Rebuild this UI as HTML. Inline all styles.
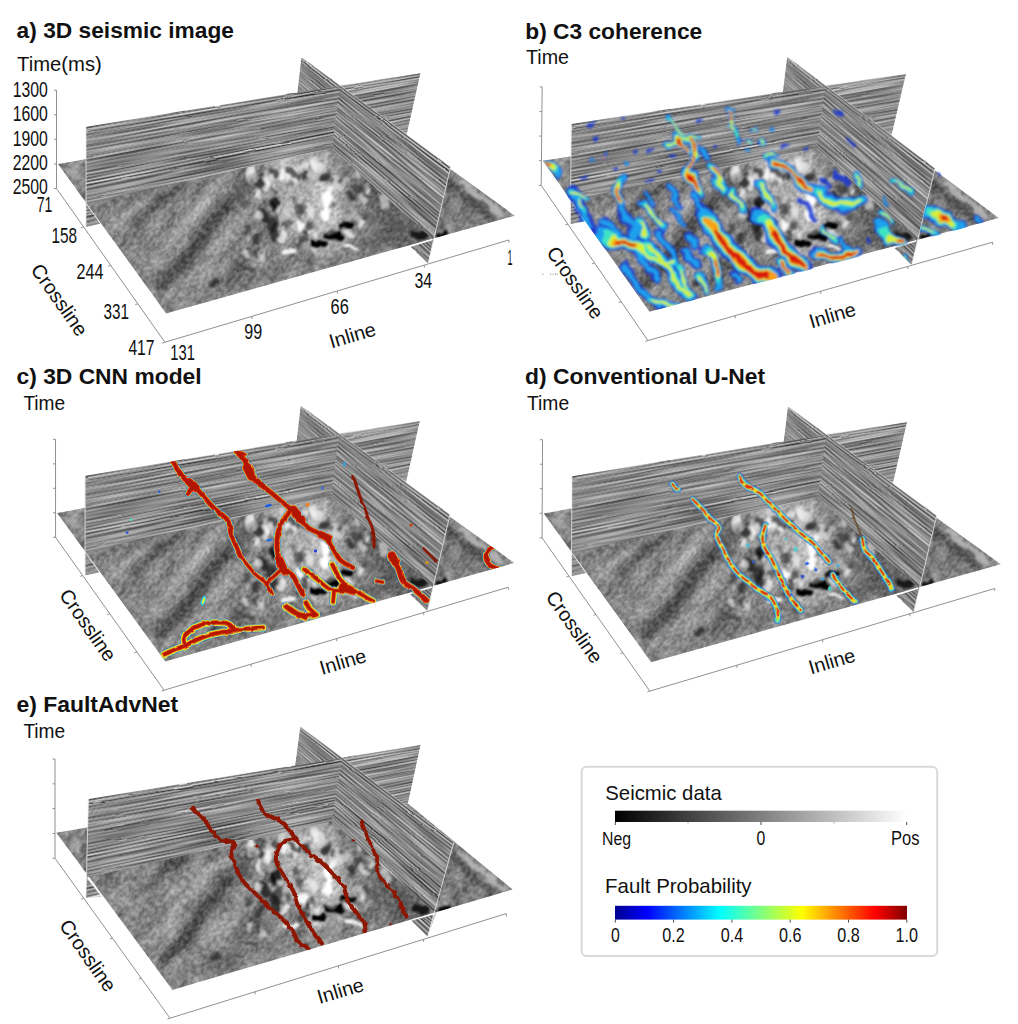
<!DOCTYPE html><html><head><meta charset="utf-8"><title>fig</title><style>html,body{margin:0;padding:0;background:#fff}svg{display:block}text{font-family:"Liberation Sans",sans-serif;fill:#111}</style></head><body>
<svg width="1018" height="1024" viewBox="0 0 1018 1024">
<rect width="1018" height="1024" fill="#fff"/>
<defs>
<filter id="fnoise" x="0" y="0" width="100%" height="100%" color-interpolation-filters="sRGB">
<feTurbulence type="fractalNoise" baseFrequency="0.035 0.08" numOctaves="3" seed="5" result="n"/>
<feColorMatrix type="matrix" values="1.5 0 0 0 -0.25  1.5 0 0 0 -0.25  1.5 0 0 0 -0.25  0 0 0 0 1"/>
</filter>
<filter id="fpn" x="0" y="0" width="100%" height="100%" color-interpolation-filters="sRGB">
<feTurbulence type="fractalNoise" baseFrequency="0.012 0.45" numOctaves="2" seed="9"/>
<feColorMatrix type="matrix" values="2.4 0 0 0 -0.7  2.4 0 0 0 -0.7  2.4 0 0 0 -0.7  0 0 0 0 1"/>
</filter>
<filter id="fpn2" x="0" y="0" width="100%" height="100%" color-interpolation-filters="sRGB">
<feTurbulence type="fractalNoise" baseFrequency="0.02 0.4" numOctaves="2" seed="4"/>
<feColorMatrix type="matrix" values="2.4 0 0 0 -0.7  2.4 0 0 0 -0.7  2.4 0 0 0 -0.7  0 0 0 0 1"/>
</filter>
<filter id="fgrain" x="0" y="0" width="100%" height="100%" color-interpolation-filters="sRGB">
<feTurbulence type="fractalNoise" baseFrequency="0.22 0.3" numOctaves="2" seed="17"/>
<feColorMatrix type="matrix" values="2.2 0 0 0 -0.6  2.2 0 0 0 -0.6  2.2 0 0 0 -0.6  0 0 0 0 1"/>
</filter>
<filter id="fblurB" filterUnits="userSpaceOnUse" x="0" y="0" width="1018" height="1024">
<feTurbulence type="fractalNoise" baseFrequency="0.04" numOctaves="2" seed="12" result="t"/>
<feDisplacementMap in="SourceGraphic" in2="t" scale="10" xChannelSelector="R" yChannelSelector="G" result="d"/>
<feGaussianBlur in="d" stdDeviation="2.8"/></filter>
<filter id="fblurS" filterUnits="userSpaceOnUse" x="0" y="0" width="1018" height="1024">
<feTurbulence type="fractalNoise" baseFrequency="0.09" numOctaves="2" seed="6" result="t"/>
<feDisplacementMap in="SourceGraphic" in2="t" scale="8" xChannelSelector="R" yChannelSelector="G" result="d"/>
<feGaussianBlur in="d" stdDeviation="1.15"/></filter>
<filter id="fblur" x="-20%" y="-20%" width="140%" height="140%"><feGaussianBlur stdDeviation="1.6"/></filter>
<filter id="fblur1" x="-20%" y="-20%" width="140%" height="140%"><feGaussianBlur stdDeviation="1.1"/></filter>
<filter id="fblur03" filterUnits="userSpaceOnUse" x="0" y="0" width="1018" height="1024"><feGaussianBlur stdDeviation="0.35"/></filter>
<filter id="fblur07" filterUnits="userSpaceOnUse" x="0" y="0" width="1018" height="1024"><feGaussianBlur stdDeviation="0.7"/></filter>
<filter id="fwobB" filterUnits="userSpaceOnUse" x="0" y="0" width="1018" height="1024">
<feTurbulence type="fractalNoise" baseFrequency="0.06" numOctaves="2" seed="2" result="t"/>
<feDisplacementMap in="SourceGraphic" in2="t" scale="13" xChannelSelector="R" yChannelSelector="G" result="d"/>
<feGaussianBlur in="d" stdDeviation="0.8"/></filter>
<filter id="fwobC" filterUnits="userSpaceOnUse" x="0" y="0" width="1018" height="1024">
<feTurbulence type="fractalNoise" baseFrequency="0.12" numOctaves="2" seed="3" result="t"/>
<feDisplacementMap in="SourceGraphic" in2="t" scale="3" xChannelSelector="R" yChannelSelector="G" result="d"/>
<feGaussianBlur in="d" stdDeviation="0.35"/></filter>
<filter id="fwobE" filterUnits="userSpaceOnUse" x="0" y="0" width="1018" height="1024">
<feTurbulence type="fractalNoise" baseFrequency="0.2" numOctaves="1" seed="8" result="t"/>
<feDisplacementMap in="SourceGraphic" in2="t" scale="4.5" xChannelSelector="R" yChannelSelector="G" result="d"/>
<feGaussianBlur in="d" stdDeviation="0.3"/></filter>
<filter id="fblur05" x="-5%" y="-5%" width="110%" height="110%">
<feTurbulence type="fractalNoise" baseFrequency="0.03 0.12" numOctaves="2" seed="31" result="t"/>
<feDisplacementMap in="SourceGraphic" in2="t" scale="2.2" xChannelSelector="R" yChannelSelector="G" result="d"/>
<feGaussianBlur in="d" stdDeviation="0.3"/></filter>
</defs>
<defs><g id="baseA">
<defs>
<clipPath id="A_sl"><polygon points="58.0,164.0 86.0,159.0 400.0,132.5 515.0,215.7 166.1,313.4"/></clipPath>
<clipPath id="A_cr"><polygon points="339.9,85.1 420.5,73.0 402.7,152.5 332.0,148.5"/></clipPath>
<clipPath id="A_ib"><polygon points="301.4,57.3 339.9,85.1 332.0,148.5 294.7,116.0"/></clipPath>
<clipPath id="A_cl"><polygon points="86.0,126.8 339.9,85.1 332.0,148.5 86.0,203.5"/><polygon points="86.0,203.5 86.0,227.0 100.4,223.8"/></clipPath>
<clipPath id="A_if"><polygon points="339.9,85.1 450.6,166.9 433.5,240.0 332.0,148.5"/><polygon points="433.5,240.0 428.1,263.6 410.5,247.1"/></clipPath>
<g id="A_cb"><path d="M86.0,126.8 L420.5,73.0 L420.3,74.0 L86.0,128.1Z" fill="#838383"/><path d="M86.0,127.7 L420.3,73.7 L420.1,74.8 L86.0,129.0Z" fill="#484848"/><path d="M86.0,128.6 L420.2,74.4 L419.9,75.5 L86.0,129.9Z" fill="#9e9e9e"/><path d="M86.0,129.5 L420.0,75.2 L419.8,76.2 L86.0,130.8Z" fill="#cacaca"/><path d="M86.0,130.4 L419.9,75.9 L419.6,76.9 L86.0,131.8Z" fill="#7a7a7a"/><path d="M86.0,131.4 L419.7,76.6 L419.5,77.7 L86.0,132.7Z" fill="#252525"/><path d="M86.0,132.3 L419.5,77.3 L419.3,78.4 L86.0,133.6Z" fill="#9d9d9d"/><path d="M86.0,133.2 L419.4,78.1 L419.1,79.1 L86.0,134.5Z" fill="#c2c2c2"/><path d="M86.0,134.1 L419.2,78.8 L419.0,79.8 L86.0,135.4Z" fill="#818181"/><path d="M86.0,135.0 L419.0,79.5 L418.8,80.5 L86.0,136.3Z" fill="#6f6f6f"/><path d="M86.0,135.9 L418.9,80.2 L418.6,81.3 L86.0,137.2Z" fill="#9e9e9e"/><path d="M86.0,136.8 L418.7,81.0 L418.5,82.0 L86.0,138.1Z" fill="#909090"/><path d="M86.0,137.7 L418.6,81.7 L418.3,82.7 L86.0,139.0Z" fill="#737373"/><path d="M86.0,138.6 L418.4,82.4 L418.2,83.4 L86.0,140.0Z" fill="#9c9c9c"/><path d="M86.0,139.6 L418.2,83.1 L418.0,84.2 L86.0,140.9Z" fill="#a8a8a8"/><path d="M86.0,140.5 L418.1,83.8 L417.8,84.9 L86.0,141.8Z" fill="#898989"/><path d="M86.0,141.4 L417.9,84.6 L417.7,85.6 L86.0,142.7Z" fill="#6a6a6a"/><path d="M86.0,142.3 L417.7,85.3 L417.5,86.3 L86.0,143.6Z" fill="#858585"/><path d="M86.0,143.2 L417.6,86.0 L417.4,87.0 L86.0,144.5Z" fill="#a2a2a2"/><path d="M86.0,144.1 L417.4,86.7 L417.2,87.8 L86.0,145.4Z" fill="#adadad"/><path d="M86.0,145.0 L417.3,87.5 L417.0,88.5 L86.0,146.3Z" fill="#848484"/><path d="M86.0,145.9 L417.1,88.2 L416.9,89.2 L86.0,147.2Z" fill="#474747"/><path d="M86.0,146.8 L416.9,88.9 L416.7,89.9 L86.0,148.2Z" fill="#929292"/><path d="M86.0,147.8 L416.8,89.6 L416.5,90.7 L86.0,149.1Z" fill="#bebebe"/><path d="M86.0,148.7 L416.6,90.3 L416.4,91.4 L86.0,150.0Z" fill="#939393"/><path d="M86.0,149.6 L416.5,91.1 L416.2,92.1 L86.0,150.9Z" fill="#5c5c5c"/><path d="M86.0,150.5 L416.3,91.8 L416.1,92.8 L86.0,151.8Z" fill="#909090"/><path d="M86.0,151.4 L416.1,92.5 L415.9,93.6 L86.0,152.7Z" fill="#9d9d9d"/><path d="M86.0,152.3 L416.0,93.2 L415.7,94.3 L86.0,153.6Z" fill="#8a8a8a"/><path d="M86.0,153.2 L415.8,94.0 L415.6,95.0 L86.0,154.5Z" fill="#939393"/><path d="M86.0,154.1 L415.6,94.7 L415.4,95.7 L86.0,155.4Z" fill="#a3a3a3"/><path d="M86.0,155.0 L415.5,95.4 L415.3,96.4 L86.0,156.3Z" fill="#848484"/><path d="M86.0,155.9 L415.3,96.1 L415.1,97.2 L86.0,157.3Z" fill="#5d5d5d"/><path d="M86.0,156.9 L415.2,96.8 L414.9,97.9 L86.0,158.2Z" fill="#959595"/><path d="M86.0,157.8 L415.0,97.6 L414.8,98.6 L86.0,159.1Z" fill="#b5b5b5"/><path d="M86.0,158.7 L414.8,98.3 L414.6,99.3 L86.0,160.0Z" fill="#969696"/><path d="M86.0,159.6 L414.7,99.0 L414.4,100.1 L86.0,160.9Z" fill="#606060"/><path d="M86.0,160.5 L414.5,99.7 L414.3,100.8 L86.0,161.8Z" fill="#747474"/><path d="M86.0,161.4 L414.4,100.5 L414.1,101.5 L86.0,162.7Z" fill="#a2a2a2"/><path d="M86.0,162.3 L414.2,101.2 L414.0,102.2 L86.0,163.6Z" fill="#a8a8a8"/><path d="M86.0,163.2 L414.0,101.9 L413.8,102.9 L86.0,164.5Z" fill="#888888"/><path d="M86.0,164.1 L413.9,102.6 L413.6,103.7 L86.0,165.5Z" fill="#747474"/><path d="M86.0,165.1 L413.7,103.4 L413.5,104.4 L86.0,166.4Z" fill="#929292"/><path d="M86.0,166.0 L413.5,104.1 L413.3,105.1 L86.0,167.3Z" fill="#999999"/><path d="M86.0,166.9 L413.4,104.8 L413.1,105.8 L86.0,168.2Z" fill="#8f8f8f"/><path d="M86.0,167.8 L413.2,105.5 L413.0,106.6 L86.0,169.1Z" fill="#8d8d8d"/><path d="M86.0,168.7 L413.1,106.2 L412.8,107.3 L86.0,170.0Z" fill="#989898"/><path d="M86.0,169.6 L412.9,107.0 L412.7,108.0 L86.0,170.9Z" fill="#989898"/><path d="M86.0,170.5 L412.7,107.7 L412.5,108.7 L86.0,171.8Z" fill="#7e7e7e"/><path d="M86.0,171.4 L412.6,108.4 L412.3,109.5 L86.0,172.7Z" fill="#6d6d6d"/><path d="M86.0,172.3 L412.4,109.1 L412.2,110.2 L86.0,173.7Z" fill="#9d9d9d"/><path d="M86.0,173.3 L412.2,109.9 L412.0,110.9 L86.0,174.6Z" fill="#b8b8b8"/><path d="M86.0,174.2 L412.1,110.6 L411.9,111.6 L86.0,175.5Z" fill="#818181"/><path d="M86.0,175.1 L411.9,111.3 L411.7,112.3 L86.0,176.4Z" fill="#464646"/><path d="M86.0,176.0 L411.8,112.0 L411.5,113.1 L86.0,177.3Z" fill="#9c9c9c"/><path d="M86.0,176.9 L411.6,112.8 L411.4,113.8 L86.0,178.2Z" fill="#b0b0b0"/><path d="M86.0,177.8 L411.4,113.5 L411.2,114.5 L86.0,179.1Z" fill="#6e6e6e"/><path d="M86.0,178.7 L411.3,114.2 L411.0,115.2 L86.0,180.0Z" fill="#808080"/><path d="M86.0,179.6 L411.1,114.9 L410.9,116.0 L86.0,180.9Z" fill="#b7b7b7"/><path d="M86.0,180.5 L411.0,115.6 L410.7,116.7 L86.0,181.9Z" fill="#8f8f8f"/><path d="M86.0,181.5 L410.8,116.4 L410.6,117.4 L86.0,182.8Z" fill="#313131"/><path d="M86.0,182.4 L410.6,117.1 L410.4,118.1 L86.0,183.7Z" fill="#979797"/><path d="M86.0,183.3 L410.5,117.8 L410.2,118.8 L86.0,184.6Z" fill="#d1d1d1"/><path d="M86.0,184.2 L410.3,118.5 L410.1,119.6 L86.0,185.5Z" fill="#8f8f8f"/><path d="M86.0,185.1 L410.1,119.3 L409.9,120.3 L86.0,186.4Z" fill="#333333"/><path d="M86.0,186.0 L410.0,120.0 L409.7,121.0 L86.0,187.3Z" fill="#878787"/><path d="M86.0,186.9 L409.8,120.7 L409.6,121.7 L86.0,188.2Z" fill="#b1b1b1"/><path d="M86.0,187.8 L409.7,121.4 L409.4,122.5 L86.0,189.1Z" fill="#a2a2a2"/><path d="M86.0,188.7 L409.5,122.1 L409.3,123.2 L86.0,190.1Z" fill="#828282"/><path d="M86.0,189.7 L409.3,122.9 L409.1,123.9 L86.0,191.0Z" fill="#707070"/><path d="M86.0,190.6 L409.2,123.6 L408.9,124.6 L86.0,191.9Z" fill="#919191"/><path d="M86.0,191.5 L409.0,124.3 L408.8,125.4 L86.0,192.8Z" fill="#9d9d9d"/><path d="M86.0,192.4 L408.8,125.0 L408.6,126.1 L86.0,193.7Z" fill="#8f8f8f"/><path d="M86.0,193.3 L408.7,125.8 L408.5,126.8 L86.0,194.6Z" fill="#8e8e8e"/><path d="M86.0,194.2 L408.5,126.5 L408.3,127.5 L86.0,195.5Z" fill="#a0a0a0"/><path d="M86.0,195.1 L408.4,127.2 L408.1,128.2 L86.0,196.4Z" fill="#8e8e8e"/><path d="M86.0,196.0 L408.2,127.9 L408.0,129.0 L86.0,197.3Z" fill="#5b5b5b"/><path d="M86.0,196.9 L408.0,128.7 L407.8,129.7 L86.0,198.3Z" fill="#959595"/><path d="M86.0,197.9 L407.9,129.4 L407.6,130.4 L86.0,199.2Z" fill="#b8b8b8"/><path d="M86.0,198.8 L407.7,130.1 L407.5,131.1 L86.0,200.1Z" fill="#8d8d8d"/><path d="M86.0,199.7 L407.6,130.8 L407.3,131.9 L86.0,201.0Z" fill="#565656"/><path d="M86.0,200.6 L407.4,131.5 L407.2,132.6 L86.0,201.9Z" fill="#939393"/><path d="M86.0,201.5 L407.2,132.3 L407.0,133.3 L86.0,202.8Z" fill="#adadad"/><path d="M86.0,202.4 L407.1,133.0 L406.8,134.0 L86.0,203.7Z" fill="#8e8e8e"/><path d="M86.0,203.3 L406.9,133.7 L406.7,134.7 L86.0,204.6Z" fill="#666666"/><path d="M86.0,204.2 L406.7,134.4 L406.5,135.5 L86.0,205.5Z" fill="#959595"/><path d="M86.0,205.1 L406.6,135.2 L406.4,136.2 L86.0,206.4Z" fill="#adadad"/><path d="M86.0,206.0 L406.4,135.9 L406.2,136.9 L86.0,207.4Z" fill="#8a8a8a"/><path d="M86.0,207.0 L406.3,136.6 L406.0,137.6 L86.0,208.3Z" fill="#565656"/><path d="M86.0,207.9 L406.1,137.3 L405.9,138.4 L86.0,209.2Z" fill="#989898"/><path d="M86.0,208.8 L405.9,138.0 L405.7,139.1 L86.0,210.1Z" fill="#b7b7b7"/><path d="M86.0,209.7 L405.8,138.8 L405.5,139.8 L86.0,211.0Z" fill="#828282"/><path d="M86.0,210.6 L405.6,139.5 L405.4,140.5 L86.0,211.9Z" fill="#616161"/><path d="M86.0,211.5 L405.5,140.2 L405.2,141.3 L86.0,212.8Z" fill="#a4a4a4"/><path d="M86.0,212.4 L405.3,140.9 L405.1,142.0 L86.0,213.7Z" fill="#999999"/><path d="M86.0,213.3 L405.1,141.7 L404.9,142.7 L86.0,214.6Z" fill="#535353"/><path d="M86.0,214.2 L405.0,142.4 L404.7,143.4 L86.0,215.6Z" fill="#979797"/><path d="M86.0,215.2 L404.8,143.1 L404.6,144.1 L86.0,216.5Z" fill="#cbcbcb"/><path d="M86.0,216.1 L404.6,143.8 L404.4,144.9 L86.0,217.4Z" fill="#828282"/><path d="M86.0,217.0 L404.5,144.6 L404.2,145.6 L86.0,218.3Z" fill="#232323"/><path d="M86.0,217.9 L404.3,145.3 L404.1,146.3 L86.0,219.2Z" fill="#909090"/><path d="M86.0,218.8 L404.2,146.0 L403.9,147.0 L86.0,220.1Z" fill="#c1c1c1"/><path d="M86.0,219.7 L404.0,146.7 L403.8,147.8 L86.0,221.0Z" fill="#a7a7a7"/><path d="M86.0,220.6 L403.8,147.4 L403.6,148.5 L86.0,221.9Z" fill="#717171"/><path d="M86.0,221.5 L403.7,148.2 L403.4,149.2 L86.0,222.8Z" fill="#515151"/><path d="M86.0,222.4 L403.5,148.9 L403.3,149.9 L86.0,223.8Z" fill="#929292"/><path d="M86.0,223.4 L403.3,149.6 L403.1,150.6 L86.0,224.7Z" fill="#b6b6b6"/><path d="M86.0,224.3 L403.2,150.3 L403.0,151.4 L86.0,225.6Z" fill="#969696"/><path d="M86.0,225.2 L403.0,151.1 L402.8,152.1 L86.0,226.5Z" fill="#686868"/><path d="M86.0,226.1 L402.9,151.8 L402.7,152.5 L86.0,227.0Z" fill="#919191"/></g>
<g id="A_ibd"><path d="M301.4,57.3 L450.6,166.9 L450.3,168.2 L301.3,58.3Z" fill="#838383"/><path d="M301.3,58.0 L450.4,167.8 L450.1,169.0 L301.2,59.0Z" fill="#484848"/><path d="M301.2,58.7 L450.2,168.7 L449.9,169.9 L301.1,59.7Z" fill="#9e9e9e"/><path d="M301.2,59.4 L450.0,169.5 L449.7,170.8 L301.0,60.4Z" fill="#cacaca"/><path d="M301.1,60.1 L449.8,170.4 L449.5,171.7 L301.0,61.1Z" fill="#7a7a7a"/><path d="M301.0,60.8 L449.6,171.3 L449.3,172.6 L300.9,61.8Z" fill="#252525"/><path d="M300.9,61.5 L449.4,172.2 L449.1,173.4 L300.8,62.5Z" fill="#9d9d9d"/><path d="M300.8,62.2 L449.2,173.1 L448.9,174.3 L300.7,63.2Z" fill="#c2c2c2"/><path d="M300.8,62.9 L449.0,173.9 L448.7,175.2 L300.6,63.9Z" fill="#818181"/><path d="M300.7,63.6 L448.8,174.8 L448.5,176.1 L300.6,64.6Z" fill="#6f6f6f"/><path d="M300.6,64.3 L448.6,175.7 L448.3,177.0 L300.5,65.3Z" fill="#9e9e9e"/><path d="M300.5,65.0 L448.4,176.6 L448.1,177.8 L300.4,66.0Z" fill="#909090"/><path d="M300.4,65.7 L448.1,177.4 L447.9,178.7 L300.3,66.7Z" fill="#737373"/><path d="M300.4,66.4 L447.9,178.3 L447.6,179.6 L300.2,67.4Z" fill="#9c9c9c"/><path d="M300.3,67.1 L447.7,179.2 L447.4,180.5 L300.2,68.2Z" fill="#a8a8a8"/><path d="M300.2,67.8 L447.5,180.1 L447.2,181.4 L300.1,68.9Z" fill="#898989"/><path d="M300.1,68.5 L447.3,181.0 L447.0,182.2 L300.0,69.6Z" fill="#6a6a6a"/><path d="M300.0,69.2 L447.1,181.8 L446.8,183.1 L299.9,70.3Z" fill="#858585"/><path d="M300.0,69.9 L446.9,182.7 L446.6,184.0 L299.8,71.0Z" fill="#a2a2a2"/><path d="M299.9,70.7 L446.7,183.6 L446.4,184.9 L299.8,71.7Z" fill="#adadad"/><path d="M299.8,71.4 L446.5,184.5 L446.2,185.7 L299.7,72.4Z" fill="#848484"/><path d="M299.7,72.1 L446.3,185.4 L446.0,186.6 L299.6,73.1Z" fill="#474747"/><path d="M299.6,72.8 L446.1,186.2 L445.8,187.5 L299.5,73.8Z" fill="#929292"/><path d="M299.6,73.5 L445.9,187.1 L445.6,188.4 L299.4,74.5Z" fill="#bebebe"/><path d="M299.5,74.2 L445.7,188.0 L445.4,189.3 L299.4,75.2Z" fill="#939393"/><path d="M299.4,74.9 L445.5,188.9 L445.2,190.1 L299.3,75.9Z" fill="#5c5c5c"/><path d="M299.3,75.6 L445.3,189.8 L445.0,191.0 L299.2,76.6Z" fill="#909090"/><path d="M299.2,76.3 L445.1,190.6 L444.8,191.9 L299.1,77.3Z" fill="#9d9d9d"/><path d="M299.2,77.0 L444.9,191.5 L444.6,192.8 L299.0,78.0Z" fill="#8a8a8a"/><path d="M299.1,77.7 L444.7,192.4 L444.4,193.7 L299.0,78.7Z" fill="#939393"/><path d="M299.0,78.4 L444.5,193.3 L444.2,194.5 L298.9,79.4Z" fill="#a3a3a3"/><path d="M298.9,79.1 L444.3,194.2 L444.0,195.4 L298.8,80.1Z" fill="#848484"/><path d="M298.8,79.8 L444.1,195.0 L443.8,196.3 L298.7,80.8Z" fill="#5d5d5d"/><path d="M298.8,80.5 L443.9,195.9 L443.6,197.2 L298.6,81.5Z" fill="#959595"/><path d="M298.7,81.2 L443.6,196.8 L443.4,198.1 L298.6,82.2Z" fill="#b5b5b5"/><path d="M298.6,81.9 L443.4,197.7 L443.1,198.9 L298.5,82.9Z" fill="#969696"/><path d="M298.5,82.6 L443.2,198.5 L442.9,199.8 L298.4,83.6Z" fill="#606060"/><path d="M298.4,83.3 L443.0,199.4 L442.7,200.7 L298.3,84.3Z" fill="#747474"/><path d="M298.4,84.0 L442.8,200.3 L442.5,201.6 L298.2,85.0Z" fill="#a2a2a2"/><path d="M298.3,84.7 L442.6,201.2 L442.3,202.5 L298.2,85.7Z" fill="#a8a8a8"/><path d="M298.2,85.4 L442.4,202.1 L442.1,203.3 L298.1,86.4Z" fill="#888888"/><path d="M298.1,86.1 L442.2,202.9 L441.9,204.2 L298.0,87.1Z" fill="#747474"/><path d="M298.0,86.8 L442.0,203.8 L441.7,205.1 L297.9,87.8Z" fill="#929292"/><path d="M298.0,87.5 L441.8,204.7 L441.5,206.0 L297.8,88.5Z" fill="#999999"/><path d="M297.9,88.2 L441.6,205.6 L441.3,206.8 L297.8,89.2Z" fill="#8f8f8f"/><path d="M297.8,88.9 L441.4,206.5 L441.1,207.7 L297.7,89.9Z" fill="#8d8d8d"/><path d="M297.7,89.6 L441.2,207.3 L440.9,208.6 L297.6,90.6Z" fill="#989898"/><path d="M297.6,90.3 L441.0,208.2 L440.7,209.5 L297.5,91.3Z" fill="#989898"/><path d="M297.6,91.0 L440.8,209.1 L440.5,210.4 L297.4,92.0Z" fill="#7e7e7e"/><path d="M297.5,91.7 L440.6,210.0 L440.3,211.2 L297.4,92.7Z" fill="#6d6d6d"/><path d="M297.4,92.4 L440.4,210.9 L440.1,212.1 L297.3,93.4Z" fill="#9d9d9d"/><path d="M297.3,93.1 L440.2,211.7 L439.9,213.0 L297.2,94.2Z" fill="#b8b8b8"/><path d="M297.2,93.8 L440.0,212.6 L439.7,213.9 L297.1,94.9Z" fill="#818181"/><path d="M297.2,94.5 L439.8,213.5 L439.5,214.8 L297.0,95.6Z" fill="#464646"/><path d="M297.1,95.2 L439.6,214.4 L439.3,215.6 L297.0,96.3Z" fill="#9c9c9c"/><path d="M297.0,95.9 L439.4,215.2 L439.1,216.5 L296.9,97.0Z" fill="#b0b0b0"/><path d="M296.9,96.7 L439.1,216.1 L438.9,217.4 L296.8,97.7Z" fill="#6e6e6e"/><path d="M296.8,97.4 L438.9,217.0 L438.6,218.3 L296.7,98.4Z" fill="#808080"/><path d="M296.8,98.1 L438.7,217.9 L438.4,219.2 L296.6,99.1Z" fill="#b7b7b7"/><path d="M296.7,98.8 L438.5,218.8 L438.2,220.0 L296.6,99.8Z" fill="#8f8f8f"/><path d="M296.6,99.5 L438.3,219.6 L438.0,220.9 L296.5,100.5Z" fill="#313131"/><path d="M296.5,100.2 L438.1,220.5 L437.8,221.8 L296.4,101.2Z" fill="#979797"/><path d="M296.4,100.9 L437.9,221.4 L437.6,222.7 L296.3,101.9Z" fill="#d1d1d1"/><path d="M296.4,101.6 L437.7,222.3 L437.4,223.5 L296.2,102.6Z" fill="#8f8f8f"/><path d="M296.3,102.3 L437.5,223.2 L437.2,224.4 L296.2,103.3Z" fill="#333333"/><path d="M296.2,103.0 L437.3,224.0 L437.0,225.3 L296.1,104.0Z" fill="#878787"/><path d="M296.1,103.7 L437.1,224.9 L436.8,226.2 L296.0,104.7Z" fill="#b1b1b1"/><path d="M296.0,104.4 L436.9,225.8 L436.6,227.1 L295.9,105.4Z" fill="#a2a2a2"/><path d="M296.0,105.1 L436.7,226.7 L436.4,227.9 L295.8,106.1Z" fill="#828282"/><path d="M295.9,105.8 L436.5,227.6 L436.2,228.8 L295.8,106.8Z" fill="#707070"/><path d="M295.8,106.5 L436.3,228.4 L436.0,229.7 L295.7,107.5Z" fill="#919191"/><path d="M295.7,107.2 L436.1,229.3 L435.8,230.6 L295.6,108.2Z" fill="#9d9d9d"/><path d="M295.6,107.9 L435.9,230.2 L435.6,231.5 L295.5,108.9Z" fill="#8f8f8f"/><path d="M295.6,108.6 L435.7,231.1 L435.4,232.3 L295.4,109.6Z" fill="#8e8e8e"/><path d="M295.5,109.3 L435.5,232.0 L435.2,233.2 L295.4,110.3Z" fill="#a0a0a0"/><path d="M295.4,110.0 L435.3,232.8 L435.0,234.1 L295.3,111.0Z" fill="#8e8e8e"/><path d="M295.3,110.7 L435.1,233.7 L434.8,235.0 L295.2,111.7Z" fill="#5b5b5b"/><path d="M295.2,111.4 L434.9,234.6 L434.6,235.9 L295.1,112.4Z" fill="#959595"/><path d="M295.2,112.1 L434.6,235.5 L434.4,236.7 L295.0,113.1Z" fill="#b8b8b8"/><path d="M295.1,112.8 L434.4,236.3 L434.1,237.6 L295.0,113.8Z" fill="#8d8d8d"/><path d="M295.0,113.5 L434.2,237.2 L433.9,238.5 L294.9,114.5Z" fill="#565656"/><path d="M294.9,114.2 L434.0,238.1 L433.7,239.4 L294.8,115.2Z" fill="#939393"/><path d="M294.8,114.9 L433.8,239.0 L433.5,240.3 L294.7,115.9Z" fill="#adadad"/><path d="M294.8,115.6 L433.6,239.9 L433.3,241.1 L294.6,116.6Z" fill="#8e8e8e"/><path d="M294.7,116.3 L433.4,240.7 L433.1,242.0 L294.6,117.3Z" fill="#666666"/><path d="M294.6,117.0 L433.2,241.6 L432.9,242.9 L294.5,118.0Z" fill="#959595"/><path d="M294.5,117.7 L433.0,242.5 L432.7,243.8 L294.4,118.7Z" fill="#adadad"/><path d="M294.4,118.4 L432.8,243.4 L432.5,244.6 L294.3,119.4Z" fill="#8a8a8a"/><path d="M294.4,119.1 L432.6,244.3 L432.3,245.5 L294.2,120.2Z" fill="#565656"/><path d="M294.3,119.8 L432.4,245.1 L432.1,246.4 L294.2,120.9Z" fill="#989898"/><path d="M294.2,120.5 L432.2,246.0 L431.9,247.3 L294.1,121.6Z" fill="#b7b7b7"/><path d="M294.1,121.2 L432.0,246.9 L431.7,248.2 L294.0,122.3Z" fill="#828282"/><path d="M294.0,122.0 L431.8,247.8 L431.5,249.0 L293.9,123.0Z" fill="#616161"/><path d="M294.0,122.7 L431.6,248.7 L431.3,249.9 L293.8,123.7Z" fill="#a4a4a4"/><path d="M293.9,123.4 L431.4,249.5 L431.1,250.8 L293.8,124.4Z" fill="#999999"/><path d="M293.8,124.1 L431.2,250.4 L430.9,251.7 L293.7,125.1Z" fill="#535353"/><path d="M293.7,124.8 L431.0,251.3 L430.7,252.6 L293.6,125.8Z" fill="#979797"/><path d="M293.6,125.5 L430.8,252.2 L430.5,253.4 L293.5,126.5Z" fill="#cbcbcb"/><path d="M293.6,126.2 L430.6,253.1 L430.3,254.3 L293.4,127.2Z" fill="#828282"/><path d="M293.5,126.9 L430.4,253.9 L430.1,255.2 L293.4,127.9Z" fill="#232323"/><path d="M293.4,127.6 L430.1,254.8 L429.9,256.1 L293.3,128.6Z" fill="#909090"/><path d="M293.3,128.3 L429.9,255.7 L429.6,257.0 L293.2,129.3Z" fill="#c1c1c1"/><path d="M293.2,129.0 L429.7,256.6 L429.4,257.8 L293.1,130.0Z" fill="#a7a7a7"/><path d="M293.2,129.7 L429.5,257.4 L429.2,258.7 L293.0,130.7Z" fill="#717171"/><path d="M293.1,130.4 L429.3,258.3 L429.0,259.6 L293.0,131.4Z" fill="#515151"/><path d="M293.0,131.1 L429.1,259.2 L428.8,260.5 L292.9,132.1Z" fill="#929292"/><path d="M292.9,131.8 L428.9,260.1 L428.6,261.3 L292.8,132.8Z" fill="#b6b6b6"/><path d="M292.8,132.5 L428.7,261.0 L428.4,262.2 L292.7,133.5Z" fill="#969696"/><path d="M292.8,133.2 L428.5,261.8 L428.2,263.1 L292.6,134.2Z" fill="#686868"/><path d="M292.7,133.9 L428.3,262.7 L428.1,263.6 L292.6,134.6Z" fill="#919191"/></g>
</defs>
<g clip-path="url(#A_sl)">
<polygon points="58.0,164.0 86.0,159.0 400.0,132.5 515.0,215.7 166.1,313.4" fill="#8b8b8b"/>
<g transform="rotate(-52 286.5 217.5)" opacity="0.30"><rect x="-43.5" y="-112.5" width="660.0" height="660.0" filter="url(#fnoise)"/></g>
<g filter="url(#fblurB)" fill="none" stroke-linecap="round">
<line x1="305.0" y1="165.0" x2="322.0" y2="228.0" stroke="#d7d7d7" stroke-width="56.0" stroke-opacity="0.50"/>
<line x1="280.0" y1="170.0" x2="292.0" y2="215.0" stroke="#d2d2d2" stroke-width="34.0" stroke-opacity="0.42"/>
<line x1="322.0" y1="190.0" x2="330.0" y2="215.0" stroke="#f5f5f5" stroke-width="24.0" stroke-opacity="0.45"/>
<line x1="372.0" y1="180.0" x2="405.0" y2="232.0" stroke="#464646" stroke-width="36.0" stroke-opacity="0.62"/>
<line x1="350.0" y1="245.0" x2="395.0" y2="238.0" stroke="#505050" stroke-width="14.0" stroke-opacity="0.42"/>
<line x1="262.0" y1="172.0" x2="225.0" y2="209.0" stroke="#323232" stroke-width="12.0" stroke-opacity="0.60"/>
<line x1="225.0" y1="209.0" x2="163.7" y2="286.7" stroke="#2d2d2d" stroke-width="12.0" stroke-opacity="0.75"/>
<line x1="182.6" y1="184.2" x2="130.7" y2="220.7" stroke="#323232" stroke-width="11.0" stroke-opacity="0.68"/>
<line x1="206.2" y1="197.2" x2="149.6" y2="267.9" stroke="#c3c3c3" stroke-width="11.0" stroke-opacity="0.55"/>
<line x1="239.2" y1="227.8" x2="192.0" y2="282.0" stroke="#bebebe" stroke-width="10.0" stroke-opacity="0.50"/>
<line x1="262.0" y1="232.0" x2="226.0" y2="288.0" stroke="#3c3c3c" stroke-width="10.0" stroke-opacity="0.50"/>
<line x1="150.0" y1="200.0" x2="112.0" y2="232.0" stroke="#b9b9b9" stroke-width="10.0" stroke-opacity="0.42"/>
<line x1="120.0" y1="190.0" x2="100.0" y2="212.0" stroke="#3c3c3c" stroke-width="9.0" stroke-opacity="0.50"/>
<line x1="140.0" y1="250.0" x2="175.0" y2="300.0" stroke="#787878" stroke-width="10.0" stroke-opacity="0.25"/>
<line x1="455.0" y1="198.0" x2="488.0" y2="224.0" stroke="#646464" stroke-width="30.0" stroke-opacity="0.30"/>
<line x1="447.9" y1="183.6" x2="491.2" y2="219.0" stroke="#373737" stroke-width="8.0" stroke-opacity="0.75"/>
<line x1="448.0" y1="208.0" x2="460.0" y2="232.0" stroke="#555555" stroke-width="8.0" stroke-opacity="0.40"/>
<line x1="190.0" y1="300.0" x2="300.0" y2="262.0" stroke="#5f5f5f" stroke-width="14.0" stroke-opacity="0.25"/>
<line x1="330.0" y1="262.0" x2="400.0" y2="240.0" stroke="#696969" stroke-width="10.0" stroke-opacity="0.22"/>
</g>
<g transform="rotate(-52 286.5 217.5)" opacity="0.17"><rect x="-43.5" y="-112.5" width="660.0" height="660.0" filter="url(#fgrain)"/></g>
<g filter="url(#fblurS)" fill="none" stroke-linecap="round">
<line x1="210.9" y1="284.4" x2="216.0" y2="282.0" stroke="#1e1e1e" stroke-width="6.0" stroke-opacity="0.70"/>
<line x1="327.0" y1="197.0" x2="327.0" y2="209.0" stroke="#ffffff" stroke-width="10.0" stroke-opacity="1.00"/>
<line x1="326.5" y1="206.0" x2="326.0" y2="217.0" stroke="#ffffff" stroke-width="9.0" stroke-opacity="1.00"/>
<line x1="324.0" y1="205.0" x2="332.0" y2="188.0" stroke="#ffffff" stroke-width="6.0" stroke-opacity="0.85"/>
<line x1="301.0" y1="226.0" x2="307.0" y2="229.0" stroke="#ffffff" stroke-width="10.0" stroke-opacity="1.00"/>
<line x1="291.0" y1="171.0" x2="293.0" y2="179.0" stroke="#f5f5f5" stroke-width="11.0" stroke-opacity="0.80"/>
<line x1="269.7" y1="180.0" x2="271.0" y2="187.0" stroke="#ebebeb" stroke-width="10.0" stroke-opacity="0.70"/>
<line x1="315.0" y1="161.0" x2="319.0" y2="167.0" stroke="#ebebeb" stroke-width="11.0" stroke-opacity="0.70"/>
<line x1="250.0" y1="174.0" x2="252.0" y2="180.0" stroke="#e1e1e1" stroke-width="10.0" stroke-opacity="0.60"/>
<line x1="346.0" y1="232.0" x2="353.0" y2="236.0" stroke="#ebebeb" stroke-width="6.0" stroke-opacity="0.80"/>
<line x1="344.0" y1="246.0" x2="358.0" y2="249.0" stroke="#ffffff" stroke-width="4.0" stroke-opacity="0.90"/>
<line x1="284.0" y1="252.0" x2="295.0" y2="251.0" stroke="#ffffff" stroke-width="5.0" stroke-opacity="0.90"/>
<line x1="384.0" y1="198.0" x2="386.0" y2="204.0" stroke="#e1e1e1" stroke-width="9.0" stroke-opacity="0.65"/>
<line x1="336.0" y1="179.0" x2="340.0" y2="187.0" stroke="#e6e6e6" stroke-width="8.0" stroke-opacity="0.60"/>
<line x1="310.0" y1="245.0" x2="316.0" y2="252.0" stroke="#e6e6e6" stroke-width="5.0" stroke-opacity="0.60"/>
<line x1="356.0" y1="214.0" x2="360.0" y2="222.0" stroke="#e1e1e1" stroke-width="6.0" stroke-opacity="0.50"/>
<line x1="341.0" y1="225.5" x2="350.0" y2="225.0" stroke="#000000" stroke-width="8.0" stroke-opacity="1.00"/>
<line x1="329.0" y1="235.0" x2="340.0" y2="235.0" stroke="#000000" stroke-width="9.0" stroke-opacity="1.00"/>
<line x1="313.0" y1="243.5" x2="322.0" y2="243.5" stroke="#000000" stroke-width="8.0" stroke-opacity="1.00"/>
<line x1="274.0" y1="200.0" x2="275.0" y2="206.0" stroke="#191919" stroke-width="9.0" stroke-opacity="0.90"/>
<line x1="262.0" y1="213.0" x2="265.0" y2="219.0" stroke="#1e1e1e" stroke-width="9.0" stroke-opacity="0.85"/>
<line x1="260.0" y1="183.0" x2="262.0" y2="188.0" stroke="#2d2d2d" stroke-width="8.0" stroke-opacity="0.75"/>
<line x1="273.0" y1="233.0" x2="276.0" y2="238.0" stroke="#1e1e1e" stroke-width="8.0" stroke-opacity="0.80"/>
<line x1="414.0" y1="234.0" x2="423.0" y2="236.0" stroke="#0f0f0f" stroke-width="8.0" stroke-opacity="0.90"/>
<line x1="357.0" y1="187.0" x2="360.0" y2="193.0" stroke="#3c3c3c" stroke-width="9.0" stroke-opacity="0.65"/>
<line x1="295.0" y1="198.0" x2="299.0" y2="212.0" stroke="#323232" stroke-width="6.0" stroke-opacity="0.60"/>
<line x1="300.0" y1="238.0" x2="304.0" y2="241.0" stroke="#282828" stroke-width="6.0" stroke-opacity="0.70"/>
<line x1="285.0" y1="217.0" x2="288.0" y2="225.0" stroke="#323232" stroke-width="6.0" stroke-opacity="0.60"/>
<line x1="365.0" y1="215.0" x2="372.0" y2="222.0" stroke="#464646" stroke-width="9.0" stroke-opacity="0.50"/>
<line x1="395.0" y1="222.0" x2="402.0" y2="228.0" stroke="#4b4b4b" stroke-width="10.0" stroke-opacity="0.50"/>
<line x1="246.0" y1="268.0" x2="252.0" y2="270.0" stroke="#282828" stroke-width="5.0" stroke-opacity="0.60"/>
<line x1="240.0" y1="196.0" x2="246.0" y2="204.0" stroke="#464646" stroke-width="8.0" stroke-opacity="0.45"/>
<line x1="459.7" y1="181.3" x2="503.0" y2="215.5" stroke="#bebebe" stroke-width="5.5" stroke-opacity="0.75"/>
<line x1="440.0" y1="236.0" x2="447.0" y2="233.0" stroke="#050505" stroke-width="6.0" stroke-opacity="0.95"/>
<line x1="70.0" y1="170.0" x2="76.0" y2="176.0" stroke="#b9b9b9" stroke-width="9.0" stroke-opacity="0.50"/>
<line x1="62.0" y1="166.0" x2="70.0" y2="168.0" stroke="#5a5a5a" stroke-width="4.0" stroke-opacity="0.45"/>
<line x1="270.5" y1="227.3" x2="271.3" y2="221.4" stroke="#2d2d2d" stroke-width="6.9" stroke-opacity="0.83"/>
<line x1="273.7" y1="209.1" x2="271.7" y2="205.7" stroke="#0f0f0f" stroke-width="5.0" stroke-opacity="0.76"/>
<line x1="281.8" y1="176.1" x2="282.0" y2="173.0" stroke="#fcfcfc" stroke-width="6.6" stroke-opacity="0.83"/>
<line x1="333.2" y1="227.7" x2="334.3" y2="226.3" stroke="#4b4b4b" stroke-width="5.0" stroke-opacity="0.46"/>
<line x1="335.2" y1="188.4" x2="337.3" y2="185.8" stroke="#d8d8d8" stroke-width="6.2" stroke-opacity="0.43"/>
<line x1="276.0" y1="225.5" x2="277.4" y2="220.9" stroke="#393939" stroke-width="6.5" stroke-opacity="0.73"/>
<line x1="263.5" y1="203.3" x2="263.8" y2="201.7" stroke="#1b1b1b" stroke-width="4.9" stroke-opacity="0.53"/>
<line x1="296.1" y1="204.3" x2="299.8" y2="201.6" stroke="#d2d2d2" stroke-width="4.1" stroke-opacity="0.40"/>
<line x1="254.7" y1="217.1" x2="256.1" y2="213.6" stroke="#f1f1f1" stroke-width="5.9" stroke-opacity="0.48"/>
<line x1="271.4" y1="189.0" x2="270.1" y2="183.5" stroke="#252525" stroke-width="6.5" stroke-opacity="0.48"/>
<line x1="314.6" y1="167.9" x2="314.7" y2="162.1" stroke="#eeeeee" stroke-width="7.1" stroke-opacity="0.85"/>
<line x1="305.7" y1="177.7" x2="305.8" y2="174.5" stroke="#191919" stroke-width="5.7" stroke-opacity="0.73"/>
<line x1="252.6" y1="182.3" x2="251.5" y2="179.4" stroke="#393939" stroke-width="4.7" stroke-opacity="0.43"/>
<line x1="323.0" y1="178.2" x2="325.6" y2="176.1" stroke="#303030" stroke-width="7.1" stroke-opacity="0.80"/>
<line x1="304.1" y1="167.2" x2="306.7" y2="164.3" stroke="#fefefe" stroke-width="5.2" stroke-opacity="0.54"/>
<line x1="332.2" y1="180.9" x2="333.0" y2="179.5" stroke="#0f0f0f" stroke-width="5.0" stroke-opacity="0.52"/>
<line x1="297.5" y1="178.0" x2="299.9" y2="176.1" stroke="#292929" stroke-width="4.5" stroke-opacity="0.81"/>
<line x1="265.3" y1="160.6" x2="262.9" y2="156.3" stroke="#cecece" stroke-width="6.1" stroke-opacity="0.45"/>
<line x1="290.0" y1="184.1" x2="289.2" y2="182.1" stroke="#282828" stroke-width="5.5" stroke-opacity="0.48"/>
<line x1="306.1" y1="229.5" x2="308.0" y2="226.5" stroke="#111111" stroke-width="5.9" stroke-opacity="0.43"/>
<line x1="344.1" y1="233.5" x2="343.2" y2="228.1" stroke="#d6d6d6" stroke-width="4.7" stroke-opacity="0.63"/>
<line x1="259.5" y1="217.3" x2="258.9" y2="213.8" stroke="#fcfcfc" stroke-width="4.8" stroke-opacity="0.68"/>
<line x1="345.9" y1="186.5" x2="343.3" y2="181.1" stroke="#d1d1d1" stroke-width="4.8" stroke-opacity="0.43"/>
<line x1="255.2" y1="241.2" x2="257.8" y2="236.1" stroke="#2b2b2b" stroke-width="5.5" stroke-opacity="0.72"/>
<line x1="321.6" y1="207.5" x2="321.7" y2="206.2" stroke="#131313" stroke-width="4.4" stroke-opacity="0.51"/>
<line x1="363.9" y1="201.1" x2="365.5" y2="199.6" stroke="#e5e5e5" stroke-width="4.8" stroke-opacity="0.69"/>
<line x1="249.3" y1="169.4" x2="251.0" y2="164.8" stroke="#f3f3f3" stroke-width="7.1" stroke-opacity="0.74"/>
<line x1="359.7" y1="226.5" x2="362.3" y2="223.4" stroke="#ececec" stroke-width="5.0" stroke-opacity="0.83"/>
<line x1="295.2" y1="184.9" x2="295.6" y2="183.1" stroke="#d6d6d6" stroke-width="3.9" stroke-opacity="0.68"/>
<line x1="305.7" y1="233.2" x2="305.5" y2="231.2" stroke="#191919" stroke-width="6.3" stroke-opacity="0.69"/>
<line x1="356.8" y1="179.2" x2="361.4" y2="175.7" stroke="#232323" stroke-width="5.6" stroke-opacity="0.80"/>
<line x1="327.7" y1="176.7" x2="328.3" y2="171.0" stroke="#3c3c3c" stroke-width="5.0" stroke-opacity="0.60"/>
<line x1="346.1" y1="181.4" x2="347.3" y2="180.5" stroke="#e5e5e5" stroke-width="6.0" stroke-opacity="0.50"/>
<line x1="301.6" y1="220.5" x2="299.7" y2="217.5" stroke="#262626" stroke-width="3.6" stroke-opacity="0.67"/>
<line x1="360.0" y1="176.9" x2="358.1" y2="171.3" stroke="#efefef" stroke-width="4.1" stroke-opacity="0.57"/>
<line x1="243.5" y1="168.6" x2="241.6" y2="165.5" stroke="#494949" stroke-width="6.8" stroke-opacity="0.48"/>
<line x1="310.3" y1="211.8" x2="307.2" y2="207.3" stroke="#f2f2f2" stroke-width="7.2" stroke-opacity="0.66"/>
<line x1="256.4" y1="250.8" x2="256.7" y2="249.0" stroke="#3f3f3f" stroke-width="6.1" stroke-opacity="0.64"/>
<line x1="332.4" y1="205.0" x2="332.3" y2="202.7" stroke="#3a3a3a" stroke-width="4.9" stroke-opacity="0.53"/>
<line x1="254.9" y1="157.6" x2="254.7" y2="154.8" stroke="#f8f8f8" stroke-width="6.8" stroke-opacity="0.47"/>
<line x1="340.7" y1="180.8" x2="341.9" y2="179.8" stroke="#282828" stroke-width="4.1" stroke-opacity="0.64"/>
<line x1="311.2" y1="227.4" x2="310.5" y2="224.9" stroke="#303030" stroke-width="5.2" stroke-opacity="0.63"/>
<line x1="364.5" y1="217.9" x2="365.3" y2="213.5" stroke="#383838" stroke-width="4.2" stroke-opacity="0.47"/>
<line x1="279.3" y1="237.1" x2="279.1" y2="235.6" stroke="#313131" stroke-width="5.9" stroke-opacity="0.49"/>
<line x1="320.5" y1="228.0" x2="319.2" y2="226.1" stroke="#e3e3e3" stroke-width="4.2" stroke-opacity="0.57"/>
<line x1="311.9" y1="175.3" x2="315.2" y2="172.0" stroke="#dfdfdf" stroke-width="6.6" stroke-opacity="0.56"/>
<line x1="256.8" y1="195.4" x2="258.3" y2="190.3" stroke="#efefef" stroke-width="6.2" stroke-opacity="0.85"/>
<line x1="278.5" y1="209.6" x2="279.3" y2="208.0" stroke="#ededed" stroke-width="4.7" stroke-opacity="0.68"/>
<line x1="320.6" y1="205.4" x2="320.5" y2="202.3" stroke="#dadada" stroke-width="4.5" stroke-opacity="0.62"/>
<line x1="287.3" y1="210.2" x2="287.5" y2="207.6" stroke="#cfcfcf" stroke-width="6.7" stroke-opacity="0.54"/>
<line x1="266.3" y1="174.5" x2="266.7" y2="173.6" stroke="#d6d6d6" stroke-width="5.1" stroke-opacity="0.66"/>
<line x1="275.9" y1="175.5" x2="273.5" y2="171.8" stroke="#424242" stroke-width="6.6" stroke-opacity="0.81"/>
<line x1="265.1" y1="187.4" x2="266.9" y2="183.8" stroke="#f1f1f1" stroke-width="6.0" stroke-opacity="0.79"/>
<line x1="368.5" y1="192.0" x2="369.6" y2="190.9" stroke="#ffffff" stroke-width="5.3" stroke-opacity="0.67"/>
<line x1="298.6" y1="245.1" x2="299.8" y2="243.7" stroke="#1e1e1e" stroke-width="6.0" stroke-opacity="0.52"/>
<line x1="357.0" y1="183.1" x2="357.7" y2="178.3" stroke="#dadada" stroke-width="4.0" stroke-opacity="0.41"/>
<line x1="330.3" y1="151.0" x2="330.4" y2="146.5" stroke="#212121" stroke-width="3.7" stroke-opacity="0.46"/>
<line x1="246.5" y1="231.2" x2="247.4" y2="227.6" stroke="#2b2b2b" stroke-width="5.5" stroke-opacity="0.59"/>
<line x1="246.6" y1="256.5" x2="247.0" y2="252.4" stroke="#e6e6e6" stroke-width="6.5" stroke-opacity="0.63"/>
<line x1="280.3" y1="238.4" x2="283.3" y2="234.1" stroke="#f6f6f6" stroke-width="7.1" stroke-opacity="0.81"/>
<line x1="368.1" y1="188.6" x2="367.8" y2="186.0" stroke="#cdcdcd" stroke-width="6.7" stroke-opacity="0.50"/>
<line x1="251.0" y1="170.9" x2="251.5" y2="169.2" stroke="#f4f4f4" stroke-width="4.1" stroke-opacity="0.48"/>
<line x1="350.4" y1="220.4" x2="351.5" y2="216.0" stroke="#d4d4d4" stroke-width="4.3" stroke-opacity="0.44"/>
<line x1="283.5" y1="217.1" x2="287.2" y2="213.9" stroke="#dadada" stroke-width="5.2" stroke-opacity="0.71"/>
<line x1="312.8" y1="214.6" x2="311.5" y2="211.0" stroke="#e6e6e6" stroke-width="6.6" stroke-opacity="0.82"/>
<line x1="256.3" y1="258.0" x2="255.5" y2="253.0" stroke="#3d3d3d" stroke-width="4.5" stroke-opacity="0.57"/>
<line x1="325.0" y1="179.6" x2="323.9" y2="177.4" stroke="#212121" stroke-width="3.7" stroke-opacity="0.55"/>
<line x1="267.9" y1="184.5" x2="265.0" y2="179.8" stroke="#f7f7f7" stroke-width="6.2" stroke-opacity="0.74"/>
<line x1="260.8" y1="258.9" x2="261.2" y2="257.7" stroke="#e4e4e4" stroke-width="6.4" stroke-opacity="0.67"/>
<line x1="315.6" y1="236.3" x2="315.3" y2="235.2" stroke="#ededed" stroke-width="4.3" stroke-opacity="0.79"/>
<line x1="299.3" y1="224.7" x2="299.1" y2="222.5" stroke="#f6f6f6" stroke-width="7.4" stroke-opacity="0.78"/>
<line x1="274.7" y1="228.5" x2="274.3" y2="225.1" stroke="#1a1a1a" stroke-width="6.3" stroke-opacity="0.80"/>
<line x1="270.9" y1="194.3" x2="272.6" y2="193.1" stroke="#202020" stroke-width="7.2" stroke-opacity="0.75"/>
<line x1="281.5" y1="163.6" x2="282.5" y2="157.8" stroke="#dadada" stroke-width="6.8" stroke-opacity="0.72"/>
<line x1="352.4" y1="198.2" x2="350.5" y2="195.2" stroke="#212121" stroke-width="6.6" stroke-opacity="0.72"/>
<line x1="261.5" y1="203.0" x2="261.0" y2="199.5" stroke="#e1e1e1" stroke-width="3.9" stroke-opacity="0.60"/>
<line x1="361.9" y1="196.3" x2="360.5" y2="194.4" stroke="#fbfbfb" stroke-width="5.7" stroke-opacity="0.58"/>
<line x1="301.3" y1="209.4" x2="303.9" y2="206.1" stroke="#373737" stroke-width="4.9" stroke-opacity="0.53"/>
<line x1="299.9" y1="168.7" x2="299.2" y2="167.7" stroke="#dadada" stroke-width="5.5" stroke-opacity="0.55"/>
<line x1="357.1" y1="176.0" x2="358.1" y2="174.4" stroke="#e1e1e1" stroke-width="6.0" stroke-opacity="0.44"/>
<line x1="285.2" y1="174.3" x2="287.1" y2="172.6" stroke="#ffffff" stroke-width="6.7" stroke-opacity="0.42"/>
<line x1="293.0" y1="175.5" x2="290.1" y2="170.2" stroke="#404040" stroke-width="7.0" stroke-opacity="0.83"/>
<line x1="274.2" y1="219.0" x2="276.7" y2="216.6" stroke="#474747" stroke-width="5.0" stroke-opacity="0.65"/>
<line x1="330.0" y1="230.8" x2="334.7" y2="227.2" stroke="#d1d1d1" stroke-width="7.0" stroke-opacity="0.44"/>
<line x1="324.6" y1="179.7" x2="323.5" y2="177.9" stroke="#373737" stroke-width="6.6" stroke-opacity="0.81"/>
<line x1="269.6" y1="196.0" x2="271.2" y2="193.5" stroke="#dddddd" stroke-width="6.6" stroke-opacity="0.57"/>
</g>
</g>
<g clip-path="url(#A_cr)"><use href="#A_cb" filter="url(#fblur05)"/><g transform="translate(86.0,126.8) skewY(-10.5)" opacity="0.30"><rect x="-5" y="-60" width="350" height="175" filter="url(#fpn)"/></g></g>
<g clip-path="url(#A_ib)"><use href="#A_ibd" filter="url(#fblur05)"/><g transform="translate(301.4,57.3) skewY(39.5)" opacity="0.30"><rect x="-15" y="-5" width="180" height="130" filter="url(#fpn2)"/></g></g>
<g clip-path="url(#A_cl)"><use href="#A_cb" filter="url(#fblur05)"/><g transform="translate(86.0,126.8) skewY(-10.5)" opacity="0.30"><rect x="-5" y="-60" width="350" height="175" filter="url(#fpn)"/></g></g>
<g clip-path="url(#A_if)"><use href="#A_ibd" filter="url(#fblur05)"/><g transform="translate(301.4,57.3) skewY(39.5)" opacity="0.30"><rect x="-15" y="-5" width="180" height="130" filter="url(#fpn2)"/></g></g>
<g stroke="#e8e8e8" stroke-width="0.8" fill="none">
<polyline points="86.0,126.8 86.0,227.0"/>
<polyline points="450.6,166.9 428.1,263.6"/>
<polyline points="339.9,85.1 450.6,166.9" stroke-opacity="0.6"/>
<polyline points="86.0,203.5 100.4,223.8" stroke-opacity="0.6"/>
</g>
</g></defs>
<g transform="matrix(1,0,0,1,0,0)">
<use href="#baseA"/>
<defs><clipPath id="ovA"><polygon points="58.0,164.0 86.0,159.0 400.0,132.5 515.0,215.7 166.1,313.4"/><polygon points="86.0,126.8 420.5,73.0 402.7,152.5 86.0,227.0"/><polygon points="301.4,57.3 450.6,166.9 428.1,263.6 292.6,134.6"/></clipPath><clipPath id="ovE"><polygon points="56.3,832.7 87.6,827.3 400.0,797.0 512.7,889.4 172.4,990.0"/><polygon points="88.4,799.0 420.6,744.8 403.9,822.1 85.9,898.1"/><polygon points="300.3,726.5 453.8,842.2 427.6,936.5 290.3,801.7"/></clipPath><clipPath id="ovBS"><polygon points="58.0,164.0 86.0,159.0 86.0,203.5"/><polygon points="86.0,203.5 332.0,148.5 433.5,240.0 166.1,313.4"/><polygon points="450.6,166.9 515.0,215.7 433.5,240.0"/><polygon points="86.0,126.8 339.9,85.1 332.0,148.5 86.0,203.5"/><polygon points="86.0,203.5 86.0,227.0 100.4,223.8"/><polygon points="339.9,85.1 420.5,73.0 406.7,134.6"/></clipPath><clipPath id="ovBI"><polygon points="339.9,85.1 450.6,166.9 433.5,240.0 332.0,148.5"/><polygon points="433.5,240.0 428.1,263.6 410.5,247.1"/><polygon points="301.4,57.3 339.9,85.1 297.5,91.6"/></clipPath></defs>
<g stroke="#858585" stroke-width="0.9" fill="none">
<polyline points="56.5,90.2 56.5,188.5 164.9,342.2 508.8,240.0"/>
<line x1="54.0" y1="90.2" x2="56.5" y2="90.2"/>
<line x1="54.0" y1="114.8" x2="56.5" y2="114.8"/>
<line x1="54.0" y1="139.3" x2="56.5" y2="139.3"/>
<line x1="54.0" y1="163.9" x2="56.5" y2="163.9"/>
<line x1="54.0" y1="188.5" x2="56.5" y2="188.5"/>
<line x1="81.1" y1="227.7" x2="83.6" y2="226.9"/>
<line x1="108.2" y1="266.2" x2="110.7" y2="265.4"/>
<line x1="135.3" y1="304.6" x2="137.8" y2="303.8"/>
<line x1="162.4" y1="343.0" x2="164.9" y2="342.2"/>
<line x1="251.8" y1="316.4" x2="252.0" y2="319.0"/>
<line x1="337.3" y1="291.0" x2="337.5" y2="293.6"/>
<line x1="424.2" y1="265.1" x2="424.4" y2="267.7"/>
<line x1="508.8" y1="240.0" x2="509.0" y2="242.6"/>
</g>
</g>
<g transform="matrix(0.99910693,0.01164286,-0.00996669,1.00145863,486.605993,-4.0631955)">
<use href="#baseA"/>
<g clip-path="url(#ovBS)"><g fill="none" stroke-linecap="round" stroke-linejoin="round" filter="url(#fwobB)">
<polyline points="115.0,238.0 116.7,238.4 118.9,239.1 121.6,239.8 124.6,240.6 127.7,241.4 130.8,242.2 133.6,242.9 136.0,243.5 138.1,243.9 139.9,244.2 141.7,244.4 143.3,244.6 144.9,244.8 146.5,245.1 148.2,245.4 150.0,246.0 152.0,246.8 154.2,247.8 156.6,248.9 158.9,250.2 161.1,251.3 163.1,252.4 164.8,253.3 166.0,254.0" stroke="#1a35d0" stroke-width="20.0" stroke-opacity="0.88"/>
<polyline points="162.0,236.0 160.8,234.3 159.7,232.7 158.5,231.1 157.3,229.4 156.1,227.8 154.9,226.1 153.8,224.5 152.6,222.8" stroke="#1a35d0" stroke-width="11.0" stroke-opacity="0.88"/>
<polyline points="150.0,250.0 152.0,251.0 154.7,252.3 157.9,253.9 161.4,255.7 165.1,257.5 168.7,259.2 172.1,260.8 175.0,262.0 177.6,263.0 180.2,263.9 182.7,264.6 185.1,265.2 187.2,265.8 189.1,266.3 190.7,266.7 192.0,267.0" stroke="#1a35d0" stroke-width="10.0" stroke-opacity="0.88"/>
<polyline points="137.3,182.0 136.7,182.8 135.8,183.7 134.7,184.9 133.6,186.2 132.5,187.6 131.7,189.1 131.1,190.6 130.9,192.2 131.2,193.9 132.0,195.9 133.1,198.1 134.4,200.2 135.7,202.3 136.9,204.2 137.9,205.8 138.6,207.0" stroke="#1a35d0" stroke-width="10.0" stroke-opacity="0.88"/>
<polyline points="89.0,198.0 89.6,199.1 90.4,200.5 91.4,202.2 92.4,204.1 93.6,206.1 94.7,208.2 95.9,210.2 97.0,212.0 98.1,213.8 99.4,215.8 100.7,217.9 102.0,219.9 103.2,221.8 104.4,223.5 105.3,224.9 106.0,226.0" stroke="#1a35d0" stroke-width="14.0" stroke-opacity="0.88"/>
<polyline points="94.0,204.0 94.9,205.2 95.8,206.5 96.6,207.8 97.5,209.0 98.4,210.2 99.2,211.5 100.1,212.8 101.0,214.0" stroke="#1a35d0" stroke-width="6.0" stroke-opacity="0.88"/>
<polyline points="86.0,197.0 88.0,197.5 90.0,198.0 92.0,198.5 94.0,199.0 96.0,199.5 98.0,200.0 100.0,200.5 102.0,201.0" stroke="#1a35d0" stroke-width="7.0" stroke-opacity="0.88"/>
<polyline points="137.3,212.6 138.0,213.5 138.9,214.6 140.0,216.0 141.2,217.5 142.5,219.2 143.8,220.8 145.0,222.5 146.0,224.0 147.0,225.6 148.0,227.2 148.9,229.0 149.8,230.7 150.7,232.4 151.5,233.8 152.1,235.1 152.6,236.0" stroke="#1a35d0" stroke-width="11.0" stroke-opacity="0.88"/>
<polyline points="157.7,204.9 158.5,205.7 159.6,206.8 160.8,208.2 162.2,209.6 163.7,211.2 165.2,212.8 166.6,214.4 168.0,216.0 169.3,217.6 170.8,219.4 172.3,221.3 173.7,223.2 175.1,225.0 176.4,226.6 177.4,228.0 178.2,229.0" stroke="#1a35d0" stroke-width="9.0" stroke-opacity="0.88"/>
<polyline points="160.0,195.0 161.2,196.4 162.5,197.8 163.8,199.1 165.0,200.5 166.2,201.9 167.5,203.2 168.8,204.6 170.0,206.0" stroke="#1a35d0" stroke-width="6.0" stroke-opacity="0.88"/>
<polyline points="185.8,188.0 187.1,190.8 188.4,193.5 189.7,196.3 190.9,199.1 192.2,201.8 193.5,204.6 194.8,207.3 196.1,210.1" stroke="#1a35d0" stroke-width="7.0" stroke-opacity="0.88"/>
<polyline points="188.4,212.6 189.7,214.3 190.9,215.9 192.2,217.6 193.5,219.3 194.8,221.0 196.1,222.7 197.3,224.3 198.6,226.0" stroke="#1a35d0" stroke-width="6.0" stroke-opacity="0.88"/>
<polyline points="203.7,172.0 204.0,172.9 204.4,174.2 204.9,175.7 205.4,177.4 206.0,179.1 206.6,180.9 207.3,182.5 208.0,184.0 208.8,185.4 209.7,186.9 210.7,188.3 211.8,189.8 212.8,191.1 213.7,192.2 214.4,193.2 215.0,194.0" stroke="#1a35d0" stroke-width="13.0" stroke-opacity="0.88"/>
<polyline points="208.8,156.4 208.5,157.1 208.1,157.9 207.5,159.0 207.0,160.1 206.4,161.3 205.9,162.6 205.4,163.8 205.0,165.0 204.7,166.2 204.5,167.5 204.3,168.8 204.1,170.2 204.0,171.5 203.9,172.6 203.8,173.6 203.7,174.3" stroke="#1a35d0" stroke-width="7.0" stroke-opacity="0.88"/>
<polyline points="206.3,139.8 206.6,140.6 207.0,141.7 207.5,143.0 208.1,144.4 208.6,145.9 209.2,147.4 209.6,148.8 210.0,150.0 210.3,151.1 210.5,152.3 210.8,153.4 210.9,154.5 211.1,155.5 211.2,156.4 211.3,157.1 211.4,157.7" stroke="#1a35d0" stroke-width="8.0" stroke-opacity="0.88"/>
<polyline points="180.7,148.7 181.8,148.2 183.3,147.6 185.1,146.8 187.1,145.9 189.2,145.0 191.3,144.2 193.3,143.5 195.0,143.0 196.6,142.7 198.3,142.5 200.0,142.4 201.5,142.3 203.0,142.4 204.3,142.4 205.4,142.4 206.3,142.4" stroke="#1a35d0" stroke-width="6.0" stroke-opacity="0.88"/>
<polyline points="183.3,118.1 183.8,118.8 184.5,119.8 185.2,120.9 186.1,122.2 187.1,123.6 188.0,125.1 189.0,126.5 190.0,128.0 191.0,129.6 192.2,131.4 193.5,133.3 194.7,135.2 195.9,137.0 197.0,138.7 197.9,140.1 198.6,141.1" stroke="#1a35d0" stroke-width="4.5" stroke-opacity="0.88"/>
<polyline points="198.0,141.0 200.0,140.5 202.0,140.0 204.0,139.5 206.0,139.0 208.0,138.5 210.0,138.0 212.0,137.5 214.0,137.0" stroke="#1a35d0" stroke-width="4.5" stroke-opacity="0.88"/>
<polyline points="216.0,150.0 217.0,151.2 218.0,152.5 219.0,153.8 220.0,155.0 221.0,156.2 222.0,157.5 223.0,158.8 224.0,160.0" stroke="#1a35d0" stroke-width="6.0" stroke-opacity="0.88"/>
<polyline points="229.4,170.0 230.1,171.5 230.9,173.0 231.6,174.5 232.4,176.0 233.1,177.5 233.8,179.0 234.6,180.5 235.3,182.0" stroke="#1a35d0" stroke-width="8.0" stroke-opacity="0.88"/>
<polyline points="207.8,199.3 209.5,201.5 211.2,203.7 212.9,205.9 214.7,208.2 216.4,210.4 218.1,212.6 219.8,214.8 221.5,217.0" stroke="#1a35d0" stroke-width="8.0" stroke-opacity="0.88"/>
<polyline points="242.8,108.1 243.0,108.6 243.3,109.3 243.6,110.2 244.0,111.1 244.4,112.1 244.8,113.1 245.2,114.1 245.5,115.0 245.8,115.9 246.1,116.7 246.4,117.5 246.7,118.3 247.0,119.2 247.3,120.1 247.6,121.1 247.9,122.1 248.2,123.2 248.5,124.4 248.9,125.6 249.2,126.9 249.5,128.2 249.9,129.6 250.2,131.0 250.5,132.4 250.8,134.0 251.2,135.7 251.6,137.5 251.9,139.4 252.2,141.2 252.6,142.8 252.8,144.1 253.0,145.1" stroke="#1a35d0" stroke-width="4.5" stroke-opacity="0.88"/>
<polyline points="244.0,128.0 245.0,128.4 246.0,128.8 247.0,129.1 248.0,129.5 249.0,129.9 250.0,130.2 251.0,130.6 252.0,131.0" stroke="#1a35d0" stroke-width="4.0" stroke-opacity="0.88"/>
<polyline points="262.0,140.0 262.5,140.3 263.0,140.6 263.5,140.9 264.0,141.2 264.5,141.6 265.0,141.9 265.5,142.2 266.0,142.5" stroke="#1a35d0" stroke-width="4.5" stroke-opacity="0.88"/>
<polyline points="273.0,142.0 273.4,142.2 273.8,142.5 274.1,142.8 274.5,143.0 274.9,143.2 275.2,143.5 275.6,143.8 276.0,144.0" stroke="#1a35d0" stroke-width="4.0" stroke-opacity="0.88"/>
<polyline points="268.0,131.0 268.2,131.2 268.5,131.5 268.8,131.8 269.0,132.0 269.2,132.2 269.5,132.5 269.8,132.8 270.0,133.0" stroke="#1a35d0" stroke-width="4.0" stroke-opacity="0.88"/>
<polyline points="190.0,136.0 190.5,136.8 191.3,137.9 192.1,139.2 193.1,140.6 194.1,142.1 195.1,143.5 196.1,144.9 197.0,146.0 197.9,147.0 198.9,147.9 199.9,148.8 200.9,149.6 201.9,150.4 202.7,151.0 203.5,151.6 204.0,152.0" stroke="#1a35d0" stroke-width="6.0" stroke-opacity="0.88"/>
<polyline points="219.0,212.0 220.2,214.1 221.9,216.9 223.9,220.3 226.0,224.1 228.4,228.0 230.7,231.8 233.1,235.4 235.3,238.6 237.4,241.4 239.6,244.1 241.8,246.7 244.1,249.2 246.3,251.6 248.5,253.9 250.8,256.1 253.0,258.2 255.2,260.3 257.4,262.2 259.6,264.1 261.8,265.9 263.9,267.6 266.2,269.2 268.4,270.7 270.7,272.0 273.2,273.2 275.9,274.3 278.7,275.3 281.5,276.1 284.1,276.9 286.5,277.5 288.5,278.0 290.0,278.5" stroke="#1a35d0" stroke-width="19.0" stroke-opacity="0.88"/>
<polyline points="247.1,193.4 248.3,195.6 249.5,197.8 250.8,200.0 252.0,202.2 253.2,204.5 254.4,206.7 255.7,208.9 256.9,211.1" stroke="#1a35d0" stroke-width="9.0" stroke-opacity="0.88"/>
<polyline points="272.6,213.0 273.7,214.1 275.2,215.4 277.0,217.1 279.0,218.9 281.1,220.9 283.0,222.9 284.9,224.9 286.4,226.8 287.6,228.7 288.7,230.6 289.6,232.6 290.4,234.7 291.2,236.7 292.1,238.7 293.1,240.6 294.2,242.5 295.5,244.3 296.8,246.2 298.2,248.0 299.6,249.8 301.1,251.5 302.7,253.2 304.3,254.8 306.0,256.3 307.9,257.8 310.0,259.3 312.3,260.7 314.6,262.1 316.8,263.3 318.8,264.4 320.5,265.4 321.7,266.1" stroke="#1a35d0" stroke-width="16.0" stroke-opacity="0.88"/>
<polyline points="236.0,236.0 237.8,239.2 239.5,242.5 241.2,245.8 243.0,249.0 244.8,252.2 246.5,255.5 248.2,258.8 250.0,262.0" stroke="#1a35d0" stroke-width="8.0" stroke-opacity="0.88"/>
<polyline points="226.7,169.2 227.1,170.0 227.6,171.1 228.2,172.4 228.9,173.8 229.6,175.4 230.4,176.9 231.2,178.5 232.0,180.0 232.9,181.5 233.9,183.2 235.0,185.0 236.1,186.8 237.1,188.5 238.1,190.0 238.9,191.2 239.5,192.2" stroke="#1a35d0" stroke-width="8.0" stroke-opacity="0.88"/>
<polyline points="274.6,185.5 275.2,186.2 276.0,187.2 276.9,188.3 277.9,189.6 279.0,191.0 280.1,192.4 281.1,193.7 282.0,195.0 282.9,196.3 283.8,197.7 284.7,199.2 285.6,200.7 286.4,202.1 287.2,203.4 287.8,204.4 288.3,205.2" stroke="#1a35d0" stroke-width="10.0" stroke-opacity="0.88"/>
<polyline points="288.0,161.5 288.7,161.8 289.7,162.1 290.8,162.4 292.1,162.8 293.5,163.4 295.0,164.0 296.6,164.9 298.2,165.9 299.9,167.2 301.7,168.8 303.7,170.5 305.7,172.4 307.8,174.3 309.8,176.2 311.9,178.0 313.9,179.6 316.0,181.1 318.2,182.6 320.5,184.0 322.7,185.4 324.9,186.7 326.8,187.8 328.4,188.8 329.6,189.5" stroke="#1a35d0" stroke-width="12.0" stroke-opacity="0.88"/>
<polyline points="280.3,159.0 281.9,158.0 283.5,157.1 285.1,156.1 286.7,155.2 288.3,154.2 289.9,153.2 291.5,152.3 293.1,151.3" stroke="#1a35d0" stroke-width="5.0" stroke-opacity="0.88"/>
<polyline points="333.5,191.4 335.0,192.6 337.0,194.3 339.3,196.4 341.9,198.7 344.7,200.9 347.5,202.8 350.4,204.3 353.2,205.2 356.1,205.4 359.4,205.0 362.8,204.2 366.2,203.1 369.4,201.9 372.4,200.8 374.9,199.9 376.7,199.3" stroke="#1a35d0" stroke-width="14.0" stroke-opacity="0.88"/>
<polyline points="313.9,199.3 315.9,201.8 317.8,204.2 319.8,206.7 321.8,209.1 323.7,211.6 325.7,214.0 327.6,216.5 329.6,218.9" stroke="#1a35d0" stroke-width="5.0" stroke-opacity="0.88"/>
<polyline points="337.5,226.8 339.2,228.8 340.9,230.7 342.6,232.7 344.4,234.7 346.1,236.6 347.8,238.6 349.5,240.5 351.2,242.5" stroke="#1a35d0" stroke-width="6.0" stroke-opacity="0.88"/>
<polyline points="357.1,238.6 358.3,240.1 359.6,241.6 360.8,243.0 362.0,244.5 363.2,246.0 364.4,247.4 365.7,248.9 366.9,250.4" stroke="#1a35d0" stroke-width="8.0" stroke-opacity="0.88"/>
<polyline points="333.5,252.3 334.7,252.8 336.4,253.6 338.3,254.5 340.5,255.5 342.8,256.4 345.0,257.3 347.2,257.9 349.2,258.2 351.0,258.2 352.9,257.9 354.7,257.4 356.5,256.8 358.3,256.1 359.9,255.4 361.5,254.8 363.0,254.3 364.4,253.9 365.8,253.5 367.1,253.0 368.4,252.7 369.5,252.3 370.5,252.0 371.3,251.7 372.0,251.5" stroke="#1a35d0" stroke-width="12.0" stroke-opacity="0.88"/>
<polyline points="139.9,266.2 141.5,268.5 143.7,271.6 146.3,275.4 149.1,279.4 152.1,283.6 155.1,287.7 157.9,291.3 160.3,294.3 162.6,296.7 164.8,298.9 167.1,300.8 169.2,302.5 171.2,303.9 173.0,305.2 174.5,306.2 175.6,307.1" stroke="#1a35d0" stroke-width="10.0" stroke-opacity="0.88"/>
<polyline points="160.3,243.3 162.1,245.3 164.6,247.9 167.6,251.1 170.8,254.6 174.2,258.3 177.6,262.0 180.6,265.6 183.3,268.8 185.6,271.9 187.8,275.1 189.8,278.3 191.8,281.4 193.6,284.4 195.3,287.2 197.0,289.7 198.6,291.8 200.2,293.5 201.7,295.0 203.2,296.1 204.7,297.0 205.9,297.8 207.1,298.4 208.0,298.9 208.8,299.4" stroke="#1a35d0" stroke-width="11.0" stroke-opacity="0.88"/>
<polyline points="201.9,252.3 203.4,253.8 204.8,255.2 206.3,256.7 207.8,258.2 209.3,259.7 210.8,261.2 212.2,262.6 213.7,264.1" stroke="#1a35d0" stroke-width="10.0" stroke-opacity="0.88"/>
<polyline points="221.5,250.4 222.3,251.2 223.4,252.2 224.7,253.4 226.1,254.8 227.5,256.4 229.0,258.2 230.3,260.1 231.4,262.2 232.4,264.7 233.3,267.8 234.2,271.2 235.0,274.7 235.7,278.1 236.3,281.2 236.9,283.8 237.3,285.7" stroke="#1a35d0" stroke-width="11.0" stroke-opacity="0.88"/>
<polyline points="196.0,270.0 197.0,272.9 198.0,275.9 199.0,278.9 199.9,281.8 200.9,284.8 201.9,287.7 202.9,290.7 203.9,293.6" stroke="#1a35d0" stroke-width="8.0" stroke-opacity="0.88"/>
<polyline points="165.4,302.0 168.6,302.6 171.8,303.3 175.0,303.9 178.2,304.6 181.3,305.2 184.5,305.8 187.7,306.5 190.9,307.1" stroke="#1a35d0" stroke-width="9.0" stroke-opacity="0.88"/>
<polyline points="251.0,274.0 251.5,275.2 252.0,276.4 252.5,277.7 252.9,278.9 253.4,280.1 253.9,281.4 254.4,282.6 254.9,283.8" stroke="#1a35d0" stroke-width="7.0" stroke-opacity="0.88"/>
<polyline points="120.0,224.0 121.9,225.5 123.8,227.0 125.6,228.5 127.5,230.0 129.4,231.5 131.2,233.0 133.1,234.5 135.0,236.0" stroke="#1a35d0" stroke-width="9.0" stroke-opacity="0.88"/>
<polyline points="296.0,262.0 297.2,263.5 298.5,265.0 299.8,266.5 301.0,268.0 302.2,269.5 303.5,271.0 304.8,272.5 306.0,274.0" stroke="#1a35d0" stroke-width="10.0" stroke-opacity="0.88"/>
<polyline points="176.0,236.0 176.8,237.1 177.9,238.6 179.2,240.3 180.6,242.2 182.1,244.3 183.5,246.3 184.9,248.2 186.0,250.0 187.0,251.7 187.9,253.4 188.8,255.2 189.6,256.9 190.4,258.5 191.0,259.9 191.6,261.1 192.0,262.0" stroke="#1a35d0" stroke-width="9.0" stroke-opacity="0.88"/>
<polyline points="205.0,236.0 205.9,237.5 206.8,239.0 207.6,240.5 208.5,242.0 209.4,243.5 210.2,245.0 211.1,246.5 212.0,248.0" stroke="#1a35d0" stroke-width="8.0" stroke-opacity="0.88"/>
<polyline points="186.0,272.0 187.2,273.8 188.5,275.5 189.8,277.2 191.0,279.0 192.2,280.8 193.5,282.5 194.8,284.2 196.0,286.0" stroke="#1a35d0" stroke-width="9.0" stroke-opacity="0.88"/>
<polyline points="214.0,276.0 215.0,277.8 216.0,279.5 217.0,281.2 218.0,283.0 219.0,284.8 220.0,286.5 221.0,288.2 222.0,290.0" stroke="#1a35d0" stroke-width="8.0" stroke-opacity="0.88"/>
<polyline points="144.0,240.0 145.1,241.7 146.5,244.0 148.2,246.8 150.1,249.9 152.1,253.1 154.2,256.3 156.2,259.3 158.0,262.0 159.8,264.6 161.8,267.2 163.9,269.8 165.9,272.4 167.8,274.7 169.5,276.9 170.9,278.6 172.0,280.0" stroke="#1a35d0" stroke-width="9.0" stroke-opacity="0.88"/>
<polyline points="335.7,178.8 336.6,179.7 337.5,180.6 338.4,181.5 339.2,182.4 340.1,183.2 341.0,184.1 341.9,185.0 342.8,185.9" stroke="#1a35d0" stroke-width="5.0" stroke-opacity="0.88"/>
<polyline points="352.1,171.8 353.6,173.3 355.0,174.7 356.5,176.2 358.0,177.7 359.4,179.1 360.9,180.6 362.3,182.0 363.8,183.5" stroke="#1a35d0" stroke-width="6.0" stroke-opacity="0.88"/>
<polyline points="394.2,220.9 395.1,222.5 396.3,224.6 397.7,227.3 399.3,230.1 401.0,233.0 402.7,235.6 404.4,237.9 405.9,239.6 407.4,240.7 409.1,241.4 410.8,241.8 412.5,242.0 414.1,242.0 415.5,242.0 416.7,241.9 417.6,242.0" stroke="#1a35d0" stroke-width="11.0" stroke-opacity="0.88"/>
<polyline points="398.9,211.6 400.1,212.8 401.2,213.9 402.4,215.1 403.5,216.2 404.7,217.4 405.9,218.6 407.0,219.7 408.2,220.9" stroke="#1a35d0" stroke-width="6.0" stroke-opacity="0.88"/>
<polyline points="384.6,238.0 384.7,238.2 384.8,238.3 384.8,238.4 384.9,238.6 385.0,238.8 385.1,238.9 385.1,239.0 385.2,239.2" stroke="#1a35d0" stroke-width="4.0" stroke-opacity="0.88"/>
<polyline points="394.0,226.0 394.1,226.2 394.2,226.5 394.4,226.8 394.5,227.0 394.6,227.2 394.8,227.5 394.9,227.8 395.0,228.0" stroke="#1a35d0" stroke-width="4.0" stroke-opacity="0.88"/>
<polyline points="441.0,209.2 442.4,209.7 444.4,210.4 446.6,211.2 449.2,212.2 451.9,213.2 454.6,214.2 457.2,215.3 459.7,216.3 462.2,217.4 464.8,218.7 467.5,220.0 470.2,221.4 472.8,222.7 475.0,223.9 477.0,224.9 478.4,225.6" stroke="#1a35d0" stroke-width="13.0" stroke-opacity="0.88"/>
<polyline points="436.3,228.0 438.1,228.3 439.8,228.6 441.6,228.9 443.3,229.2 445.1,229.4 446.8,229.7 448.6,230.0 450.3,230.3" stroke="#1a35d0" stroke-width="9.0" stroke-opacity="0.88"/>
<polyline points="493.5,215.0 493.8,215.6 494.1,216.1 494.4,216.7 494.8,217.2 495.1,217.8 495.4,218.4 495.7,218.9 496.0,219.5" stroke="#1a35d0" stroke-width="6.0" stroke-opacity="0.88"/>
<polyline points="452.0,171.0 452.2,171.2 452.4,171.4 452.6,171.6 452.8,171.8 452.9,171.9 453.1,172.1 453.3,172.3 453.5,172.5" stroke="#1a35d0" stroke-width="3.5" stroke-opacity="0.88"/>
<polyline points="62.0,166.0 63.5,167.2 65.0,168.5 66.5,169.8 68.0,171.0 69.5,172.2 71.0,173.5 72.5,174.8 74.0,176.0" stroke="#1a35d0" stroke-width="11.0" stroke-opacity="0.88"/>
<polyline points="106.6,126.0 109.4,125.5" stroke="#1a35d0" stroke-width="3.6" stroke-opacity="0.85"/>
<polyline points="107.8,141.3 110.6,140.8" stroke="#1a35d0" stroke-width="3.6" stroke-opacity="0.85"/>
<polyline points="135.9,119.7 138.7,119.2" stroke="#1a35d0" stroke-width="3.6" stroke-opacity="0.85"/>
<polyline points="118.0,157.9 120.8,157.4" stroke="#1a35d0" stroke-width="3.6" stroke-opacity="0.85"/>
<polyline points="148.6,154.1 151.4,153.6" stroke="#1a35d0" stroke-width="3.6" stroke-opacity="0.85"/>
<polyline points="164.0,152.8 166.8,152.3" stroke="#1a35d0" stroke-width="3.6" stroke-opacity="0.85"/>
<polyline points="105.3,164.2 108.1,163.8" stroke="#1a35d0" stroke-width="3.6" stroke-opacity="0.85"/>
<polyline points="171.6,171.9 174.4,171.4" stroke="#1a35d0" stroke-width="3.6" stroke-opacity="0.85"/>
<polyline points="164.0,182.2 166.8,181.8" stroke="#1a35d0" stroke-width="3.6" stroke-opacity="0.85"/>
<polyline points="212.5,123.5 215.3,123.0" stroke="#1a35d0" stroke-width="3.6" stroke-opacity="0.85"/>
<polyline points="243.2,109.5 246.0,109.0" stroke="#1a35d0" stroke-width="3.6" stroke-opacity="0.85"/>
<polyline points="246.6,118.2 249.4,117.8" stroke="#1a35d0" stroke-width="3.6" stroke-opacity="0.85"/>
<polyline points="250.6,131.2 253.4,130.8" stroke="#1a35d0" stroke-width="3.6" stroke-opacity="0.85"/>
<polyline points="253.4,141.3 256.2,140.8" stroke="#1a35d0" stroke-width="3.6" stroke-opacity="0.85"/>
<polyline points="268.7,131.2 271.5,130.7" stroke="#1a35d0" stroke-width="3.6" stroke-opacity="0.85"/>
<polyline points="286.6,128.6 289.4,128.1" stroke="#1a35d0" stroke-width="3.6" stroke-opacity="0.85"/>
<polyline points="273.8,143.8 276.6,143.3" stroke="#1a35d0" stroke-width="3.6" stroke-opacity="0.85"/>
<polyline points="291.7,112.0 294.5,111.5" stroke="#1a35d0" stroke-width="3.6" stroke-opacity="0.85"/>
<polyline points="128.6,170.2 131.4,169.8" stroke="#1a35d0" stroke-width="3.6" stroke-opacity="0.85"/>
<polyline points="140.6,165.2 143.4,164.8" stroke="#1a35d0" stroke-width="3.6" stroke-opacity="0.85"/>
<polyline points="96.6,181.2 99.4,180.8" stroke="#1a35d0" stroke-width="3.6" stroke-opacity="0.85"/>
<polyline points="185.6,160.2 188.4,159.8" stroke="#1a35d0" stroke-width="3.6" stroke-opacity="0.85"/>
<polyline points="228.6,146.2 231.4,145.8" stroke="#1a35d0" stroke-width="3.6" stroke-opacity="0.85"/>
<polyline points="260.6,152.2 263.4,151.8" stroke="#1a35d0" stroke-width="3.6" stroke-opacity="0.85"/>
<polyline points="298.6,146.2 301.4,145.8" stroke="#1a35d0" stroke-width="3.6" stroke-opacity="0.85"/>
<polyline points="320.6,150.2 323.4,149.8" stroke="#1a35d0" stroke-width="3.6" stroke-opacity="0.85"/>
<polyline points="116.7,238.4 118.9,239.1 121.6,239.8 124.6,240.6 127.7,241.4 130.8,242.2 133.6,242.9 136.0,243.5 138.1,243.9 139.9,244.2 141.7,244.4 143.3,244.6 144.9,244.8 146.5,245.1 148.2,245.4 150.0,246.0 152.0,246.8 154.2,247.8 156.6,248.9 158.9,250.2 161.1,251.3 163.1,252.4 164.8,253.3" stroke="#1fa8f0" stroke-width="15.2" stroke-opacity="0.95"/>
<polyline points="162.0,236.0 160.8,234.3 159.7,232.7 158.5,231.1 157.3,229.4 156.1,227.8 154.9,226.1 153.8,224.5 152.6,222.8" stroke="#1fa8f0" stroke-width="8.4" stroke-opacity="0.95"/>
<polyline points="150.0,250.0 152.0,251.0 154.7,252.3 157.9,253.9 161.4,255.7 165.1,257.5 168.7,259.2 172.1,260.8 175.0,262.0 177.6,263.0 180.2,263.9 182.7,264.6 185.1,265.2 187.2,265.8 189.1,266.3 190.7,266.7 192.0,267.0" stroke="#1fa8f0" stroke-width="7.6" stroke-opacity="0.95"/>
<polyline points="137.3,182.0 136.7,182.8 135.8,183.7 134.7,184.9 133.6,186.2 132.5,187.6 131.7,189.1 131.1,190.6 130.9,192.2 131.2,193.9 132.0,195.9 133.1,198.1 134.4,200.2 135.7,202.3 136.9,204.2 137.9,205.8 138.6,207.0" stroke="#1fa8f0" stroke-width="7.6" stroke-opacity="0.95"/>
<polyline points="89.0,198.0 89.6,199.1 90.4,200.5 91.4,202.2 92.4,204.1 93.6,206.1 94.7,208.2 95.9,210.2 97.0,212.0 98.1,213.8 99.4,215.8 100.7,217.9 102.0,219.9 103.2,221.8 104.4,223.5 105.3,224.9 106.0,226.0" stroke="#1fa8f0" stroke-width="7.3" stroke-opacity="0.95"/>
<polyline points="94.0,204.0 94.9,205.2 95.8,206.5 96.6,207.8 97.5,209.0 98.4,210.2 99.2,211.5 100.1,212.8 101.0,214.0" stroke="#1fa8f0" stroke-width="4.6" stroke-opacity="0.95"/>
<polyline points="86.0,197.0 88.0,197.5 90.0,198.0 92.0,198.5 94.0,199.0 96.0,199.5 98.0,200.0 100.0,200.5 102.0,201.0" stroke="#1fa8f0" stroke-width="5.3" stroke-opacity="0.95"/>
<polyline points="137.3,212.6 138.0,213.5 138.9,214.6 140.0,216.0 141.2,217.5 142.5,219.2 143.8,220.8 145.0,222.5 146.0,224.0 147.0,225.6 148.0,227.2 148.9,229.0 149.8,230.7 150.7,232.4 151.5,233.8 152.1,235.1 152.6,236.0" stroke="#1fa8f0" stroke-width="5.7" stroke-opacity="0.95"/>
<polyline points="157.7,204.9 158.5,205.7 159.6,206.8 160.8,208.2 162.2,209.6 163.7,211.2 165.2,212.8 166.6,214.4 168.0,216.0 169.3,217.6 170.8,219.4 172.3,221.3 173.7,223.2 175.1,225.0 176.4,226.6 177.4,228.0 178.2,229.0" stroke="#1fa8f0" stroke-width="6.8" stroke-opacity="0.95"/>
<polyline points="160.0,195.0 161.2,196.4 162.5,197.8 163.8,199.1 165.0,200.5 166.2,201.9 167.5,203.2 168.8,204.6 170.0,206.0" stroke="#1fa8f0" stroke-width="3.1" stroke-opacity="0.95"/>
<polyline points="185.8,188.0 187.1,190.8 188.4,193.5 189.7,196.3 190.9,199.1 192.2,201.8 193.5,204.6 194.8,207.3 196.1,210.1" stroke="#1fa8f0" stroke-width="3.6" stroke-opacity="0.95"/>
<polyline points="188.4,212.6 189.7,214.3 190.9,215.9 192.2,217.6 193.5,219.3 194.8,221.0 196.1,222.7 197.3,224.3 198.6,226.0" stroke="#1fa8f0" stroke-width="3.1" stroke-opacity="0.95"/>
<polyline points="203.7,172.0 204.0,172.9 204.4,174.2 204.9,175.7 205.4,177.4 206.0,179.1 206.6,180.9 207.3,182.5 208.0,184.0 208.8,185.4 209.7,186.9 210.7,188.3 211.8,189.8 212.8,191.1 213.7,192.2 214.4,193.2 215.0,194.0" stroke="#1fa8f0" stroke-width="9.9" stroke-opacity="0.95"/>
<polyline points="208.8,156.4 208.5,157.1 208.1,157.9 207.5,159.0 207.0,160.1 206.4,161.3 205.9,162.6 205.4,163.8 205.0,165.0 204.7,166.2 204.5,167.5 204.3,168.8 204.1,170.2 204.0,171.5 203.9,172.6 203.8,173.6 203.7,174.3" stroke="#1fa8f0" stroke-width="5.3" stroke-opacity="0.95"/>
<polyline points="206.3,139.8 206.6,140.6 207.0,141.7 207.5,143.0 208.1,144.4 208.6,145.9 209.2,147.4 209.6,148.8 210.0,150.0 210.3,151.1 210.5,152.3 210.8,153.4 210.9,154.5 211.1,155.5 211.2,156.4 211.3,157.1 211.4,157.7" stroke="#1fa8f0" stroke-width="6.1" stroke-opacity="0.95"/>
<polyline points="180.7,148.7 181.8,148.2 183.3,147.6 185.1,146.8 187.1,145.9 189.2,145.0 191.3,144.2 193.3,143.5 195.0,143.0 196.6,142.7 198.3,142.5 200.0,142.4 201.5,142.3 203.0,142.4 204.3,142.4 205.4,142.4 206.3,142.4" stroke="#1fa8f0" stroke-width="4.6" stroke-opacity="0.95"/>
<polyline points="183.3,118.1 183.8,118.8 184.5,119.8 185.2,120.9 186.1,122.2 187.1,123.6 188.0,125.1 189.0,126.5 190.0,128.0 191.0,129.6 192.2,131.4 193.5,133.3 194.7,135.2 195.9,137.0 197.0,138.7 197.9,140.1 198.6,141.1" stroke="#1fa8f0" stroke-width="3.4" stroke-opacity="0.95"/>
<polyline points="198.0,141.0 200.0,140.5 202.0,140.0 204.0,139.5 206.0,139.0 208.0,138.5 210.0,138.0 212.0,137.5 214.0,137.0" stroke="#1fa8f0" stroke-width="3.4" stroke-opacity="0.95"/>
<polyline points="216.0,150.0 217.0,151.2 218.0,152.5 219.0,153.8 220.0,155.0 221.0,156.2 222.0,157.5 223.0,158.8 224.0,160.0" stroke="#1fa8f0" stroke-width="3.1" stroke-opacity="0.95"/>
<polyline points="229.4,170.0 230.1,171.5 230.9,173.0 231.6,174.5 232.4,176.0 233.1,177.5 233.8,179.0 234.6,180.5 235.3,182.0" stroke="#1fa8f0" stroke-width="6.1" stroke-opacity="0.95"/>
<polyline points="207.8,199.3 209.5,201.5 211.2,203.7 212.9,205.9 214.7,208.2 216.4,210.4 218.1,212.6 219.8,214.8 221.5,217.0" stroke="#1fa8f0" stroke-width="4.2" stroke-opacity="0.95"/>
<polyline points="243.0,108.6 243.3,109.3 243.6,110.2 244.0,111.1 244.4,112.1 244.8,113.1 245.2,114.1 245.5,115.0 245.8,115.9 246.1,116.7 246.4,117.5 246.7,118.3 247.0,119.2 247.3,120.1 247.6,121.1 247.9,122.1 248.2,123.2 248.5,124.4 248.9,125.6 249.2,126.9 249.5,128.2 249.9,129.6 250.2,131.0 250.5,132.4 250.8,134.0 251.2,135.7 251.6,137.5 251.9,139.4 252.2,141.2 252.6,142.8 252.8,144.1" stroke="#1fa8f0" stroke-width="3.4" stroke-opacity="0.95"/>
<polyline points="244.0,128.0 245.0,128.4 246.0,128.8 247.0,129.1 248.0,129.5 249.0,129.9 250.0,130.2 251.0,130.6 252.0,131.0" stroke="#1fa8f0" stroke-width="3.0" stroke-opacity="0.95"/>
<polyline points="262.0,140.0 262.5,140.3 263.0,140.6 263.5,140.9 264.0,141.2 264.5,141.6 265.0,141.9 265.5,142.2 266.0,142.5" stroke="#1fa8f0" stroke-width="3.4" stroke-opacity="0.95"/>
<polyline points="273.0,142.0 273.4,142.2 273.8,142.5 274.1,142.8 274.5,143.0 274.9,143.2 275.2,143.5 275.6,143.8 276.0,144.0" stroke="#1fa8f0" stroke-width="3.0" stroke-opacity="0.95"/>
<polyline points="268.0,131.0 268.2,131.2 268.5,131.5 268.8,131.8 269.0,132.0 269.2,132.2 269.5,132.5 269.8,132.8 270.0,133.0" stroke="#1fa8f0" stroke-width="3.0" stroke-opacity="0.95"/>
<polyline points="190.0,136.0 190.5,136.8 191.3,137.9 192.1,139.2 193.1,140.6 194.1,142.1 195.1,143.5 196.1,144.9 197.0,146.0 197.9,147.0 198.9,147.9 199.9,148.8 200.9,149.6 201.9,150.4 202.7,151.0 203.5,151.6 204.0,152.0" stroke="#1fa8f0" stroke-width="4.6" stroke-opacity="0.95"/>
<polyline points="220.2,214.1 221.9,216.9 223.9,220.3 226.0,224.1 228.4,228.0 230.7,231.8 233.1,235.4 235.3,238.6 237.4,241.4 239.6,244.1 241.8,246.7 244.1,249.2 246.3,251.6 248.5,253.9 250.8,256.1 253.0,258.2 255.2,260.3 257.4,262.2 259.6,264.1 261.8,265.9 263.9,267.6 266.2,269.2 268.4,270.7 270.7,272.0 273.2,273.2 275.9,274.3 278.7,275.3 281.5,276.1 284.1,276.9 286.5,277.5 288.5,278.0" stroke="#1fa8f0" stroke-width="14.4" stroke-opacity="0.95"/>
<polyline points="247.1,193.4 248.3,195.6 249.5,197.8 250.8,200.0 252.0,202.2 253.2,204.5 254.4,206.7 255.7,208.9 256.9,211.1" stroke="#1fa8f0" stroke-width="6.8" stroke-opacity="0.95"/>
<polyline points="273.7,214.1 275.2,215.4 277.0,217.1 279.0,218.9 281.1,220.9 283.0,222.9 284.9,224.9 286.4,226.8 287.6,228.7 288.7,230.6 289.6,232.6 290.4,234.7 291.2,236.7 292.1,238.7 293.1,240.6 294.2,242.5 295.5,244.3 296.8,246.2 298.2,248.0 299.6,249.8 301.1,251.5 302.7,253.2 304.3,254.8 306.0,256.3 307.9,257.8 310.0,259.3 312.3,260.7 314.6,262.1 316.8,263.3 318.8,264.4 320.5,265.4" stroke="#1fa8f0" stroke-width="12.2" stroke-opacity="0.95"/>
<polyline points="236.0,236.0 237.8,239.2 239.5,242.5 241.2,245.8 243.0,249.0 244.8,252.2 246.5,255.5 248.2,258.8 250.0,262.0" stroke="#1fa8f0" stroke-width="6.1" stroke-opacity="0.95"/>
<polyline points="226.7,169.2 227.1,170.0 227.6,171.1 228.2,172.4 228.9,173.8 229.6,175.4 230.4,176.9 231.2,178.5 232.0,180.0 232.9,181.5 233.9,183.2 235.0,185.0 236.1,186.8 237.1,188.5 238.1,190.0 238.9,191.2 239.5,192.2" stroke="#1fa8f0" stroke-width="6.1" stroke-opacity="0.95"/>
<polyline points="274.6,185.5 275.2,186.2 276.0,187.2 276.9,188.3 277.9,189.6 279.0,191.0 280.1,192.4 281.1,193.7 282.0,195.0 282.9,196.3 283.8,197.7 284.7,199.2 285.6,200.7 286.4,202.1 287.2,203.4 287.8,204.4 288.3,205.2" stroke="#1fa8f0" stroke-width="7.6" stroke-opacity="0.95"/>
<polyline points="288.7,161.8 289.7,162.1 290.8,162.4 292.1,162.8 293.5,163.4 295.0,164.0 296.6,164.9 298.2,165.9 299.9,167.2 301.7,168.8 303.7,170.5 305.7,172.4 307.8,174.3 309.8,176.2 311.9,178.0 313.9,179.6 316.0,181.1 318.2,182.6 320.5,184.0 322.7,185.4 324.9,186.7 326.8,187.8 328.4,188.8" stroke="#1fa8f0" stroke-width="9.1" stroke-opacity="0.95"/>
<polyline points="280.3,159.0 281.9,158.0 283.5,157.1 285.1,156.1 286.7,155.2 288.3,154.2 289.9,153.2 291.5,152.3 293.1,151.3" stroke="#1fa8f0" stroke-width="3.8" stroke-opacity="0.95"/>
<polyline points="333.5,191.4 335.0,192.6 337.0,194.3 339.3,196.4 341.9,198.7 344.7,200.9 347.5,202.8 350.4,204.3 353.2,205.2 356.1,205.4 359.4,205.0 362.8,204.2 366.2,203.1 369.4,201.9 372.4,200.8 374.9,199.9 376.7,199.3" stroke="#1fa8f0" stroke-width="10.6" stroke-opacity="0.95"/>
<polyline points="337.5,226.8 339.2,228.8 340.9,230.7 342.6,232.7 344.4,234.7 346.1,236.6 347.8,238.6 349.5,240.5 351.2,242.5" stroke="#1fa8f0" stroke-width="4.6" stroke-opacity="0.95"/>
<polyline points="357.1,238.6 358.3,240.1 359.6,241.6 360.8,243.0 362.0,244.5 363.2,246.0 364.4,247.4 365.7,248.9 366.9,250.4" stroke="#1fa8f0" stroke-width="4.2" stroke-opacity="0.95"/>
<polyline points="334.7,252.8 336.4,253.6 338.3,254.5 340.5,255.5 342.8,256.4 345.0,257.3 347.2,257.9 349.2,258.2 351.0,258.2 352.9,257.9 354.7,257.4 356.5,256.8 358.3,256.1 359.9,255.4 361.5,254.8 363.0,254.3 364.4,253.9 365.8,253.5 367.1,253.0 368.4,252.7 369.5,252.3 370.5,252.0 371.3,251.7" stroke="#1fa8f0" stroke-width="9.1" stroke-opacity="0.95"/>
<polyline points="139.9,266.2 141.5,268.5 143.7,271.6 146.3,275.4 149.1,279.4 152.1,283.6 155.1,287.7 157.9,291.3 160.3,294.3 162.6,296.7 164.8,298.9 167.1,300.8 169.2,302.5 171.2,303.9 173.0,305.2 174.5,306.2 175.6,307.1" stroke="#1fa8f0" stroke-width="5.2" stroke-opacity="0.95"/>
<polyline points="162.1,245.3 164.6,247.9 167.6,251.1 170.8,254.6 174.2,258.3 177.6,262.0 180.6,265.6 183.3,268.8 185.6,271.9 187.8,275.1 189.8,278.3 191.8,281.4 193.6,284.4 195.3,287.2 197.0,289.7 198.6,291.8 200.2,293.5 201.7,295.0 203.2,296.1 204.7,297.0 205.9,297.8 207.1,298.4 208.0,298.9" stroke="#1fa8f0" stroke-width="8.4" stroke-opacity="0.95"/>
<polyline points="201.9,252.3 203.4,253.8 204.8,255.2 206.3,256.7 207.8,258.2 209.3,259.7 210.8,261.2 212.2,262.6 213.7,264.1" stroke="#1fa8f0" stroke-width="5.2" stroke-opacity="0.95"/>
<polyline points="221.5,250.4 222.3,251.2 223.4,252.2 224.7,253.4 226.1,254.8 227.5,256.4 229.0,258.2 230.3,260.1 231.4,262.2 232.4,264.7 233.3,267.8 234.2,271.2 235.0,274.7 235.7,278.1 236.3,281.2 236.9,283.8 237.3,285.7" stroke="#1fa8f0" stroke-width="8.4" stroke-opacity="0.95"/>
<polyline points="196.0,270.0 197.0,272.9 198.0,275.9 199.0,278.9 199.9,281.8 200.9,284.8 201.9,287.7 202.9,290.7 203.9,293.6" stroke="#1fa8f0" stroke-width="6.1" stroke-opacity="0.95"/>
<polyline points="165.4,302.0 168.6,302.6 171.8,303.3 175.0,303.9 178.2,304.6 181.3,305.2 184.5,305.8 187.7,306.5 190.9,307.1" stroke="#1fa8f0" stroke-width="6.8" stroke-opacity="0.95"/>
<polyline points="251.0,274.0 251.5,275.2 252.0,276.4 252.5,277.7 252.9,278.9 253.4,280.1 253.9,281.4 254.4,282.6 254.9,283.8" stroke="#1fa8f0" stroke-width="3.6" stroke-opacity="0.95"/>
<polyline points="120.0,224.0 121.9,225.5 123.8,227.0 125.6,228.5 127.5,230.0 129.4,231.5 131.2,233.0 133.1,234.5 135.0,236.0" stroke="#1fa8f0" stroke-width="4.7" stroke-opacity="0.95"/>
<polyline points="296.0,262.0 297.2,263.5 298.5,265.0 299.8,266.5 301.0,268.0 302.2,269.5 303.5,271.0 304.8,272.5 306.0,274.0" stroke="#1fa8f0" stroke-width="7.6" stroke-opacity="0.95"/>
<polyline points="176.0,236.0 176.8,237.1 177.9,238.6 179.2,240.3 180.6,242.2 182.1,244.3 183.5,246.3 184.9,248.2 186.0,250.0 187.0,251.7 187.9,253.4 188.8,255.2 189.6,256.9 190.4,258.5 191.0,259.9 191.6,261.1 192.0,262.0" stroke="#1fa8f0" stroke-width="4.7" stroke-opacity="0.95"/>
<polyline points="205.0,236.0 205.9,237.5 206.8,239.0 207.6,240.5 208.5,242.0 209.4,243.5 210.2,245.0 211.1,246.5 212.0,248.0" stroke="#1fa8f0" stroke-width="4.2" stroke-opacity="0.95"/>
<polyline points="186.0,272.0 187.2,273.8 188.5,275.5 189.8,277.2 191.0,279.0 192.2,280.8 193.5,282.5 194.8,284.2 196.0,286.0" stroke="#1fa8f0" stroke-width="4.7" stroke-opacity="0.95"/>
<polyline points="214.0,276.0 215.0,277.8 216.0,279.5 217.0,281.2 218.0,283.0 219.0,284.8 220.0,286.5 221.0,288.2 222.0,290.0" stroke="#1fa8f0" stroke-width="6.1" stroke-opacity="0.95"/>
<polyline points="144.0,240.0 145.1,241.7 146.5,244.0 148.2,246.8 150.1,249.9 152.1,253.1 154.2,256.3 156.2,259.3 158.0,262.0 159.8,264.6 161.8,267.2 163.9,269.8 165.9,272.4 167.8,274.7 169.5,276.9 170.9,278.6 172.0,280.0" stroke="#1fa8f0" stroke-width="4.7" stroke-opacity="0.95"/>
<polyline points="394.2,220.9 395.1,222.5 396.3,224.6 397.7,227.3 399.3,230.1 401.0,233.0 402.7,235.6 404.4,237.9 405.9,239.6 407.4,240.7 409.1,241.4 410.8,241.8 412.5,242.0 414.1,242.0 415.5,242.0 416.7,241.9 417.6,242.0" stroke="#1fa8f0" stroke-width="8.4" stroke-opacity="0.95"/>
<polyline points="398.9,211.6 400.1,212.8 401.2,213.9 402.4,215.1 403.5,216.2 404.7,217.4 405.9,218.6 407.0,219.7 408.2,220.9" stroke="#1fa8f0" stroke-width="4.6" stroke-opacity="0.95"/>
<polyline points="441.0,209.2 442.4,209.7 444.4,210.4 446.6,211.2 449.2,212.2 451.9,213.2 454.6,214.2 457.2,215.3 459.7,216.3 462.2,217.4 464.8,218.7 467.5,220.0 470.2,221.4 472.8,222.7 475.0,223.9 477.0,224.9 478.4,225.6" stroke="#1fa8f0" stroke-width="9.9" stroke-opacity="0.95"/>
<polyline points="436.3,228.0 438.1,228.3 439.8,228.6 441.6,228.9 443.3,229.2 445.1,229.4 446.8,229.7 448.6,230.0 450.3,230.3" stroke="#1fa8f0" stroke-width="6.8" stroke-opacity="0.95"/>
<polyline points="493.5,215.0 493.8,215.6 494.1,216.1 494.4,216.7 494.8,217.2 495.1,217.8 495.4,218.4 495.7,218.9 496.0,219.5" stroke="#1fa8f0" stroke-width="3.1" stroke-opacity="0.95"/>
<polyline points="62.0,166.0 63.5,167.2 65.0,168.5 66.5,169.8 68.0,171.0 69.5,172.2 71.0,173.5 72.5,174.8 74.0,176.0" stroke="#1fa8f0" stroke-width="8.4" stroke-opacity="0.95"/>
<polyline points="118.0,157.9 120.8,157.4" stroke="#1fa8f0" stroke-width="2.2" stroke-opacity="0.95"/>
<polyline points="105.3,164.2 108.1,163.8" stroke="#1fa8f0" stroke-width="2.2" stroke-opacity="0.95"/>
<polyline points="243.2,109.5 246.0,109.0" stroke="#1fa8f0" stroke-width="2.2" stroke-opacity="0.95"/>
<polyline points="246.6,118.2 249.4,117.8" stroke="#1fa8f0" stroke-width="2.2" stroke-opacity="0.95"/>
<polyline points="250.6,131.2 253.4,130.8" stroke="#1fa8f0" stroke-width="2.2" stroke-opacity="0.95"/>
<polyline points="268.7,131.2 271.5,130.7" stroke="#1fa8f0" stroke-width="2.2" stroke-opacity="0.95"/>
<polyline points="286.6,128.6 289.4,128.1" stroke="#1fa8f0" stroke-width="2.2" stroke-opacity="0.95"/>
<polyline points="140.6,165.2 143.4,164.8" stroke="#1fa8f0" stroke-width="2.2" stroke-opacity="0.95"/>
<polyline points="260.6,152.2 263.4,151.8" stroke="#1fa8f0" stroke-width="2.2" stroke-opacity="0.95"/>
<polyline points="121.6,239.8 124.6,240.6 127.7,241.4 130.8,242.2 133.6,242.9 136.0,243.5 138.1,243.9 139.9,244.2 141.7,244.4 143.3,244.6 144.9,244.8 146.5,245.1 148.2,245.4 150.0,246.0 152.0,246.8 154.2,247.8 156.6,248.9 158.9,250.2 161.1,251.3" stroke="#40e8c0" stroke-width="12.0" stroke-opacity="0.95"/>
<polyline points="162.0,236.0 160.8,234.3 159.7,232.7 158.5,231.1 157.3,229.4 156.1,227.8 154.9,226.1 153.8,224.5 152.6,222.8" stroke="#40e8c0" stroke-width="5.1" stroke-opacity="0.95"/>
<polyline points="152.0,251.0 154.7,252.3 157.9,253.9 161.4,255.7 165.1,257.5 168.7,259.2 172.1,260.8 175.0,262.0 177.6,263.0 180.2,263.9 182.7,264.6 185.1,265.2 187.2,265.8 189.1,266.3 190.7,266.7" stroke="#40e8c0" stroke-width="4.6" stroke-opacity="0.95"/>
<polyline points="134.7,184.9 133.6,186.2 132.5,187.6 131.7,189.1 131.1,190.6 130.9,192.2 131.2,193.9 132.0,195.9 133.1,198.1 134.4,200.2 135.7,202.3 136.9,204.2 137.9,205.8" stroke="#40e8c0" stroke-width="6.0" stroke-opacity="0.95"/>
<polyline points="94.0,204.0 94.9,205.2 95.8,206.5 96.6,207.8 97.5,209.0 98.4,210.2 99.2,211.5 100.1,212.8 101.0,214.0" stroke="#40e8c0" stroke-width="2.8" stroke-opacity="0.95"/>
<polyline points="86.0,197.0 88.0,197.5 90.0,198.0 92.0,198.5 94.0,199.0 96.0,199.5 98.0,200.0 100.0,200.5 102.0,201.0" stroke="#40e8c0" stroke-width="3.2" stroke-opacity="0.95"/>
<polyline points="158.5,205.7 159.6,206.8 160.8,208.2 162.2,209.6 163.7,211.2 165.2,212.8 166.6,214.4 168.0,216.0 169.3,217.6 170.8,219.4 172.3,221.3 173.7,223.2 175.1,225.0 176.4,226.6 177.4,228.0" stroke="#40e8c0" stroke-width="4.1" stroke-opacity="0.95"/>
<polyline points="204.4,174.2 204.9,175.7 205.4,177.4 206.0,179.1 206.6,180.9 207.3,182.5 208.0,184.0 208.8,185.4 209.7,186.9 210.7,188.3 211.8,189.8 212.8,191.1 213.7,192.2 214.4,193.2" stroke="#40e8c0" stroke-width="7.8" stroke-opacity="0.95"/>
<polyline points="208.5,157.1 208.1,157.9 207.5,159.0 207.0,160.1 206.4,161.3 205.9,162.6 205.4,163.8 205.0,165.0 204.7,166.2 204.5,167.5 204.3,168.8 204.1,170.2 204.0,171.5" stroke="#40e8c0" stroke-width="4.2" stroke-opacity="0.95"/>
<polyline points="206.6,140.6 207.0,141.7 207.5,143.0 208.1,144.4 208.6,145.9 209.2,147.4 209.6,148.8 210.0,150.0 210.3,151.1 210.5,152.3 210.8,153.4 210.9,154.5 211.1,155.5 211.2,156.4" stroke="#40e8c0" stroke-width="4.8" stroke-opacity="0.95"/>
<polyline points="181.8,148.2 183.3,147.6 185.1,146.8 187.1,145.9 189.2,145.0 191.3,144.2 193.3,143.5 195.0,143.0 196.6,142.7 198.3,142.5 200.0,142.4 201.5,142.3 203.0,142.4 204.3,142.4 205.4,142.4" stroke="#40e8c0" stroke-width="2.8" stroke-opacity="0.95"/>
<polyline points="183.8,118.8 184.5,119.8 185.2,120.9 186.1,122.2 187.1,123.6 188.0,125.1 189.0,126.5 190.0,128.0 191.0,129.6 192.2,131.4 193.5,133.3 194.7,135.2 195.9,137.0 197.0,138.7 197.9,140.1" stroke="#40e8c0" stroke-width="2.1" stroke-opacity="0.95"/>
<polyline points="198.0,141.0 200.0,140.5 202.0,140.0 204.0,139.5 206.0,139.0 208.0,138.5 210.0,138.0 212.0,137.5 214.0,137.0" stroke="#40e8c0" stroke-width="2.1" stroke-opacity="0.95"/>
<polyline points="230.1,171.5 230.9,173.0 231.6,174.5 232.4,176.0 233.1,177.5 233.8,179.0 234.6,180.5" stroke="#40e8c0" stroke-width="4.8" stroke-opacity="0.95"/>
<polyline points="243.6,110.2 244.0,111.1 244.4,112.1 244.8,113.1 245.2,114.1 245.5,115.0 245.8,115.9 246.1,116.7 246.4,117.5 246.7,118.3 247.0,119.2 247.3,120.1 247.6,121.1 247.9,122.1 248.2,123.2 248.5,124.4 248.9,125.6 249.2,126.9 249.5,128.2 249.9,129.6 250.2,131.0 250.5,132.4 250.8,134.0 251.2,135.7" stroke="#40e8c0" stroke-width="2.7" stroke-opacity="0.95"/>
<polyline points="244.0,128.0 245.0,128.4 246.0,128.8 247.0,129.1 248.0,129.5 249.0,129.9 250.0,130.2 251.0,130.6 252.0,131.0" stroke="#40e8c0" stroke-width="1.8" stroke-opacity="0.95"/>
<polyline points="262.0,140.0 262.5,140.3 263.0,140.6 263.5,140.9 264.0,141.2 264.5,141.6 265.0,141.9 265.5,142.2 266.0,142.5" stroke="#40e8c0" stroke-width="2.1" stroke-opacity="0.95"/>
<polyline points="273.0,142.0 273.4,142.2 273.8,142.5 274.1,142.8 274.5,143.0 274.9,143.2 275.2,143.5 275.6,143.8 276.0,144.0" stroke="#40e8c0" stroke-width="1.8" stroke-opacity="0.95"/>
<polyline points="268.0,131.0 268.2,131.2 268.5,131.5 268.8,131.8 269.0,132.0 269.2,132.2 269.5,132.5 269.8,132.8 270.0,133.0" stroke="#40e8c0" stroke-width="1.8" stroke-opacity="0.95"/>
<polyline points="191.3,137.9 192.1,139.2 193.1,140.6 194.1,142.1 195.1,143.5 196.1,144.9 197.0,146.0 197.9,147.0 198.9,147.9 199.9,148.8 200.9,149.6 201.9,150.4 202.7,151.0 203.5,151.6" stroke="#40e8c0" stroke-width="3.6" stroke-opacity="0.95"/>
<polyline points="223.9,220.3 226.0,224.1 228.4,228.0 230.7,231.8 233.1,235.4 235.3,238.6 237.4,241.4 239.6,244.1 241.8,246.7 244.1,249.2 246.3,251.6 248.5,253.9 250.8,256.1 253.0,258.2 255.2,260.3 257.4,262.2 259.6,264.1 261.8,265.9 263.9,267.6 266.2,269.2 268.4,270.7 270.7,272.0 273.2,273.2 275.9,274.3 278.7,275.3 281.5,276.1 284.1,276.9 286.5,277.5" stroke="#40e8c0" stroke-width="11.4" stroke-opacity="0.95"/>
<polyline points="247.1,193.4 248.3,195.6 249.5,197.8 250.8,200.0 252.0,202.2 253.2,204.5 254.4,206.7 255.7,208.9 256.9,211.1" stroke="#40e8c0" stroke-width="4.1" stroke-opacity="0.95"/>
<polyline points="279.0,218.9 281.1,220.9 283.0,222.9 284.9,224.9 286.4,226.8 287.6,228.7 288.7,230.6 289.6,232.6 290.4,234.7 291.2,236.7 292.1,238.7 293.1,240.6 294.2,242.5 295.5,244.3 296.8,246.2 298.2,248.0 299.6,249.8 301.1,251.5 302.7,253.2 304.3,254.8 306.0,256.3 307.9,257.8 310.0,259.3 312.3,260.7 314.6,262.1 316.8,263.3 318.8,264.4" stroke="#40e8c0" stroke-width="9.6" stroke-opacity="0.95"/>
<polyline points="236.0,236.0 237.8,239.2 239.5,242.5 241.2,245.8 243.0,249.0 244.8,252.2 246.5,255.5 248.2,258.8 250.0,262.0" stroke="#40e8c0" stroke-width="4.8" stroke-opacity="0.95"/>
<polyline points="227.1,170.0 227.6,171.1 228.2,172.4 228.9,173.8 229.6,175.4 230.4,176.9 231.2,178.5 232.0,180.0 232.9,181.5 233.9,183.2 235.0,185.0 236.1,186.8 237.1,188.5 238.1,190.0 238.9,191.2" stroke="#40e8c0" stroke-width="3.7" stroke-opacity="0.95"/>
<polyline points="275.2,186.2 276.0,187.2 276.9,188.3 277.9,189.6 279.0,191.0 280.1,192.4 281.1,193.7 282.0,195.0 282.9,196.3 283.8,197.7 284.7,199.2 285.6,200.7 286.4,202.1 287.2,203.4 287.8,204.4" stroke="#40e8c0" stroke-width="4.6" stroke-opacity="0.95"/>
<polyline points="289.7,162.1 290.8,162.4 292.1,162.8 293.5,163.4 295.0,164.0 296.6,164.9 298.2,165.9 299.9,167.2 301.7,168.8 303.7,170.5 305.7,172.4 307.8,174.3 309.8,176.2 311.9,178.0 313.9,179.6 316.0,181.1 318.2,182.6 320.5,184.0 322.7,185.4 324.9,186.7 326.8,187.8" stroke="#40e8c0" stroke-width="7.2" stroke-opacity="0.95"/>
<polyline points="280.3,159.0 281.9,158.0 283.5,157.1 285.1,156.1 286.7,155.2 288.3,154.2 289.9,153.2 291.5,152.3 293.1,151.3" stroke="#40e8c0" stroke-width="2.3" stroke-opacity="0.95"/>
<polyline points="335.0,192.6 337.0,194.3 339.3,196.4 341.9,198.7 344.7,200.9 347.5,202.8 350.4,204.3 353.2,205.2 356.1,205.4 359.4,205.0 362.8,204.2 366.2,203.1 369.4,201.9 372.4,200.8 374.9,199.9" stroke="#40e8c0" stroke-width="6.4" stroke-opacity="0.95"/>
<polyline points="337.5,226.8 339.2,228.8 340.9,230.7 342.6,232.7 344.4,234.7 346.1,236.6 347.8,238.6 349.5,240.5 351.2,242.5" stroke="#40e8c0" stroke-width="2.8" stroke-opacity="0.95"/>
<polyline points="336.4,253.6 338.3,254.5 340.5,255.5 342.8,256.4 345.0,257.3 347.2,257.9 349.2,258.2 351.0,258.2 352.9,257.9 354.7,257.4 356.5,256.8 358.3,256.1 359.9,255.4 361.5,254.8 363.0,254.3 364.4,253.9 365.8,253.5 367.1,253.0 368.4,252.7 369.5,252.3 370.5,252.0" stroke="#40e8c0" stroke-width="7.2" stroke-opacity="0.95"/>
<polyline points="162.1,245.3 164.6,247.9 167.6,251.1 170.8,254.6 174.2,258.3 177.6,262.0 180.6,265.6 183.3,268.8 185.6,271.9 187.8,275.1 189.8,278.3 191.8,281.4 193.6,284.4 195.3,287.2 197.0,289.7 198.6,291.8 200.2,293.5 201.7,295.0 203.2,296.1 204.7,297.0 205.9,297.8 207.1,298.4 208.0,298.9" stroke="#40e8c0" stroke-width="5.1" stroke-opacity="0.95"/>
<polyline points="224.7,253.4 226.1,254.8 227.5,256.4 229.0,258.2 230.3,260.1 231.4,262.2 232.4,264.7 233.3,267.8 234.2,271.2 235.0,274.7 235.7,278.1 236.3,281.2" stroke="#40e8c0" stroke-width="6.6" stroke-opacity="0.95"/>
<polyline points="196.0,270.0 197.0,272.9 198.0,275.9 199.0,278.9 199.9,281.8 200.9,284.8 201.9,287.7 202.9,290.7 203.9,293.6" stroke="#40e8c0" stroke-width="3.7" stroke-opacity="0.95"/>
<polyline points="165.4,302.0 168.6,302.6 171.8,303.3 175.0,303.9 178.2,304.6 181.3,305.2 184.5,305.8 187.7,306.5 190.9,307.1" stroke="#40e8c0" stroke-width="4.1" stroke-opacity="0.95"/>
<polyline points="296.0,262.0 297.2,263.5 298.5,265.0 299.8,266.5 301.0,268.0 302.2,269.5 303.5,271.0 304.8,272.5 306.0,274.0" stroke="#40e8c0" stroke-width="6.0" stroke-opacity="0.95"/>
<polyline points="214.0,276.0 215.0,277.8 216.0,279.5 217.0,281.2 218.0,283.0 219.0,284.8 220.0,286.5 221.0,288.2 222.0,290.0" stroke="#40e8c0" stroke-width="3.7" stroke-opacity="0.95"/>
<polyline points="399.3,230.1 401.0,233.0 402.7,235.6 404.4,237.9 405.9,239.6 407.4,240.7 409.1,241.4 410.8,241.8 412.5,242.0 414.1,242.0 415.5,242.0 416.7,241.9" stroke="#40e8c0" stroke-width="6.6" stroke-opacity="0.95"/>
<polyline points="398.9,211.6 400.1,212.8 401.2,213.9 402.4,215.1 403.5,216.2 404.7,217.4 405.9,218.6 407.0,219.7 408.2,220.9" stroke="#40e8c0" stroke-width="2.8" stroke-opacity="0.95"/>
<polyline points="446.6,211.2 449.2,212.2 451.9,213.2 454.6,214.2 457.2,215.3 459.7,216.3 462.2,217.4 464.8,218.7 467.5,220.0 470.2,221.4 472.8,222.7" stroke="#40e8c0" stroke-width="7.8" stroke-opacity="0.95"/>
<polyline points="436.3,228.0 438.1,228.3 439.8,228.6 441.6,228.9 443.3,229.2 445.1,229.4 446.8,229.7 448.6,230.0 450.3,230.3" stroke="#40e8c0" stroke-width="4.1" stroke-opacity="0.95"/>
<polyline points="62.0,166.0 63.5,167.2 65.0,168.5 66.5,169.8 68.0,171.0 69.5,172.2 71.0,173.5" stroke="#40e8c0" stroke-width="6.6" stroke-opacity="0.95"/>
<polyline points="127.7,241.4 130.8,242.2 133.6,242.9 136.0,243.5 138.1,243.9 139.9,244.2 141.7,244.4 143.3,244.6 144.9,244.8 146.5,245.1 148.2,245.4 150.0,246.0 152.0,246.8 154.2,247.8 156.6,248.9" stroke="#d8f030" stroke-width="9.6" stroke-opacity="1.00"/>
<polyline points="160.8,234.3 159.7,232.7 158.5,231.1 157.3,229.4 156.1,227.8 154.9,226.1 153.8,224.5" stroke="#d8f030" stroke-width="3.1" stroke-opacity="1.00"/>
<polyline points="154.7,252.3 157.9,253.9 161.4,255.7 165.1,257.5 168.7,259.2 172.1,260.8 175.0,262.0 177.6,263.0 180.2,263.9 182.7,264.6 185.1,265.2 187.2,265.8 189.1,266.3" stroke="#d8f030" stroke-width="2.8" stroke-opacity="1.00"/>
<polyline points="133.6,186.2 132.5,187.6 131.7,189.1 131.1,190.6 130.9,192.2 131.2,193.9 132.0,195.9 133.1,198.1 134.4,200.2 135.7,202.3 136.9,204.2" stroke="#d8f030" stroke-width="4.8" stroke-opacity="1.00"/>
<polyline points="94.9,205.2 95.8,206.5 96.6,207.8 97.5,209.0 98.4,210.2 99.2,211.5 100.1,212.8" stroke="#d8f030" stroke-width="1.7" stroke-opacity="1.00"/>
<polyline points="88.0,197.5 90.0,198.0 92.0,198.5 94.0,199.0 96.0,199.5 98.0,200.0 100.0,200.5" stroke="#d8f030" stroke-width="2.0" stroke-opacity="1.00"/>
<polyline points="159.6,206.8 160.8,208.2 162.2,209.6 163.7,211.2 165.2,212.8 166.6,214.4 168.0,216.0 169.3,217.6 170.8,219.4 172.3,221.3 173.7,223.2 175.1,225.0 176.4,226.6" stroke="#d8f030" stroke-width="2.5" stroke-opacity="1.00"/>
<polyline points="204.4,174.2 204.9,175.7 205.4,177.4 206.0,179.1 206.6,180.9 207.3,182.5 208.0,184.0 208.8,185.4 209.7,186.9 210.7,188.3 211.8,189.8 212.8,191.1 213.7,192.2" stroke="#d8f030" stroke-width="6.2" stroke-opacity="1.00"/>
<polyline points="208.1,157.9 207.5,159.0 207.0,160.1 206.4,161.3 205.9,162.6 205.4,163.8 205.0,165.0 204.7,166.2 204.5,167.5 204.3,168.8 204.1,170.2" stroke="#d8f030" stroke-width="3.4" stroke-opacity="1.00"/>
<polyline points="207.0,141.7 207.5,143.0 208.1,144.4 208.6,145.9 209.2,147.4 209.6,148.8 210.0,150.0 210.3,151.1 210.5,152.3 210.8,153.4 210.9,154.5 211.1,155.5" stroke="#d8f030" stroke-width="3.8" stroke-opacity="1.00"/>
<polyline points="183.3,147.6 185.1,146.8 187.1,145.9 189.2,145.0 191.3,144.2 193.3,143.5 195.0,143.0 196.6,142.7 198.3,142.5 200.0,142.4 201.5,142.3 203.0,142.4 204.3,142.4" stroke="#d8f030" stroke-width="1.7" stroke-opacity="1.00"/>
<polyline points="184.5,119.8 185.2,120.9 186.1,122.2 187.1,123.6 188.0,125.1 189.0,126.5 190.0,128.0 191.0,129.6 192.2,131.4 193.5,133.3 194.7,135.2 195.9,137.0 197.0,138.7" stroke="#d8f030" stroke-width="1.3" stroke-opacity="1.00"/>
<polyline points="200.0,140.5 202.0,140.0 204.0,139.5 206.0,139.0 208.0,138.5 210.0,138.0 212.0,137.5" stroke="#d8f030" stroke-width="1.3" stroke-opacity="1.00"/>
<polyline points="230.1,171.5 230.9,173.0 231.6,174.5 232.4,176.0 233.1,177.5 233.8,179.0" stroke="#d8f030" stroke-width="3.8" stroke-opacity="1.00"/>
<polyline points="244.0,111.1 244.4,112.1 244.8,113.1 245.2,114.1 245.5,115.0 245.8,115.9 246.1,116.7 246.4,117.5 246.7,118.3 247.0,119.2 247.3,120.1 247.6,121.1 247.9,122.1 248.2,123.2 248.5,124.4 248.9,125.6 249.2,126.9 249.5,128.2 249.9,129.6 250.2,131.0" stroke="#d8f030" stroke-width="2.2" stroke-opacity="1.00"/>
<polyline points="245.0,128.4 246.0,128.8 247.0,129.1 248.0,129.5 249.0,129.9 250.0,130.2 251.0,130.6" stroke="#d8f030" stroke-width="1.1" stroke-opacity="1.00"/>
<polyline points="262.5,140.3 263.0,140.6 263.5,140.9 264.0,141.2 264.5,141.6 265.0,141.9 265.5,142.2" stroke="#d8f030" stroke-width="1.3" stroke-opacity="1.00"/>
<polyline points="273.4,142.2 273.8,142.5 274.1,142.8 274.5,143.0 274.9,143.2 275.2,143.5 275.6,143.8" stroke="#d8f030" stroke-width="1.1" stroke-opacity="1.00"/>
<polyline points="268.2,131.2 268.5,131.5 268.8,131.8 269.0,132.0 269.2,132.2 269.5,132.5 269.8,132.8" stroke="#d8f030" stroke-width="1.1" stroke-opacity="1.00"/>
<polyline points="192.1,139.2 193.1,140.6 194.1,142.1 195.1,143.5 196.1,144.9 197.0,146.0 197.9,147.0 198.9,147.9 199.9,148.8 200.9,149.6 201.9,150.4 202.7,151.0" stroke="#d8f030" stroke-width="2.9" stroke-opacity="1.00"/>
<polyline points="226.0,224.1 228.4,228.0 230.7,231.8 233.1,235.4 235.3,238.6 237.4,241.4 239.6,244.1 241.8,246.7 244.1,249.2 246.3,251.6 248.5,253.9 250.8,256.1 253.0,258.2 255.2,260.3 257.4,262.2 259.6,264.1 261.8,265.9 263.9,267.6 266.2,269.2 268.4,270.7 270.7,272.0 273.2,273.2 275.9,274.3 278.7,275.3 281.5,276.1 284.1,276.9" stroke="#d8f030" stroke-width="9.1" stroke-opacity="1.00"/>
<polyline points="248.3,195.6 249.5,197.8 250.8,200.0 252.0,202.2 253.2,204.5 254.4,206.7 255.7,208.9" stroke="#d8f030" stroke-width="2.5" stroke-opacity="1.00"/>
<polyline points="284.9,224.9 286.4,226.8 287.6,228.7 288.7,230.6 289.6,232.6 290.4,234.7 291.2,236.7 292.1,238.7 293.1,240.6 294.2,242.5 295.5,244.3 296.8,246.2 298.2,248.0 299.6,249.8 301.1,251.5 302.7,253.2 304.3,254.8 306.0,256.3 307.9,257.8 310.0,259.3 312.3,260.7 314.6,262.1 316.8,263.3" stroke="#d8f030" stroke-width="7.7" stroke-opacity="1.00"/>
<polyline points="237.8,239.2 239.5,242.5 241.2,245.8 243.0,249.0 244.8,252.2 246.5,255.5 248.2,258.8" stroke="#d8f030" stroke-width="3.8" stroke-opacity="1.00"/>
<polyline points="227.6,171.1 228.2,172.4 228.9,173.8 229.6,175.4 230.4,176.9 231.2,178.5 232.0,180.0 232.9,181.5 233.9,183.2 235.0,185.0 236.1,186.8 237.1,188.5 238.1,190.0" stroke="#d8f030" stroke-width="2.2" stroke-opacity="1.00"/>
<polyline points="276.0,187.2 276.9,188.3 277.9,189.6 279.0,191.0 280.1,192.4 281.1,193.7 282.0,195.0 282.9,196.3 283.8,197.7 284.7,199.2 285.6,200.7 286.4,202.1 287.2,203.4" stroke="#d8f030" stroke-width="2.8" stroke-opacity="1.00"/>
<polyline points="290.8,162.4 292.1,162.8 293.5,163.4 295.0,164.0 296.6,164.9 298.2,165.9 299.9,167.2 301.7,168.8 303.7,170.5 305.7,172.4 307.8,174.3 309.8,176.2 311.9,178.0 313.9,179.6 316.0,181.1 318.2,182.6 320.5,184.0 322.7,185.4 324.9,186.7" stroke="#d8f030" stroke-width="5.8" stroke-opacity="1.00"/>
<polyline points="281.9,158.0 283.5,157.1 285.1,156.1 286.7,155.2 288.3,154.2 289.9,153.2 291.5,152.3" stroke="#d8f030" stroke-width="1.4" stroke-opacity="1.00"/>
<polyline points="337.0,194.3 339.3,196.4 341.9,198.7 344.7,200.9 347.5,202.8 350.4,204.3 353.2,205.2 356.1,205.4 359.4,205.0 362.8,204.2 366.2,203.1 369.4,201.9 372.4,200.8" stroke="#d8f030" stroke-width="3.9" stroke-opacity="1.00"/>
<polyline points="339.2,228.8 340.9,230.7 342.6,232.7 344.4,234.7 346.1,236.6 347.8,238.6 349.5,240.5" stroke="#d8f030" stroke-width="1.7" stroke-opacity="1.00"/>
<polyline points="338.3,254.5 340.5,255.5 342.8,256.4 345.0,257.3 347.2,257.9 349.2,258.2 351.0,258.2 352.9,257.9 354.7,257.4 356.5,256.8 358.3,256.1 359.9,255.4 361.5,254.8 363.0,254.3 364.4,253.9 365.8,253.5 367.1,253.0 368.4,252.7 369.5,252.3" stroke="#d8f030" stroke-width="5.8" stroke-opacity="1.00"/>
<polyline points="164.6,247.9 167.6,251.1 170.8,254.6 174.2,258.3 177.6,262.0 180.6,265.6 183.3,268.8 185.6,271.9 187.8,275.1 189.8,278.3 191.8,281.4 193.6,284.4 195.3,287.2 197.0,289.7 198.6,291.8 200.2,293.5 201.7,295.0 203.2,296.1 204.7,297.0 205.9,297.8 207.1,298.4" stroke="#d8f030" stroke-width="3.1" stroke-opacity="1.00"/>
<polyline points="227.5,256.4 229.0,258.2 230.3,260.1 231.4,262.2 232.4,264.7 233.3,267.8 234.2,271.2 235.0,274.7 235.7,278.1" stroke="#d8f030" stroke-width="5.3" stroke-opacity="1.00"/>
<polyline points="197.0,272.9 198.0,275.9 199.0,278.9 199.9,281.8 200.9,284.8 201.9,287.7 202.9,290.7" stroke="#d8f030" stroke-width="2.2" stroke-opacity="1.00"/>
<polyline points="168.6,302.6 171.8,303.3 175.0,303.9 178.2,304.6 181.3,305.2 184.5,305.8 187.7,306.5" stroke="#d8f030" stroke-width="2.5" stroke-opacity="1.00"/>
<polyline points="297.2,263.5 298.5,265.0 299.8,266.5 301.0,268.0 302.2,269.5 303.5,271.0 304.8,272.5" stroke="#d8f030" stroke-width="4.8" stroke-opacity="1.00"/>
<polyline points="215.0,277.8 216.0,279.5 217.0,281.2 218.0,283.0 219.0,284.8 220.0,286.5 221.0,288.2" stroke="#d8f030" stroke-width="2.2" stroke-opacity="1.00"/>
<polyline points="402.7,235.6 404.4,237.9 405.9,239.6 407.4,240.7 409.1,241.4 410.8,241.8 412.5,242.0 414.1,242.0 415.5,242.0" stroke="#d8f030" stroke-width="5.3" stroke-opacity="1.00"/>
<polyline points="400.1,212.8 401.2,213.9 402.4,215.1 403.5,216.2 404.7,217.4 405.9,218.6 407.0,219.7" stroke="#d8f030" stroke-width="1.7" stroke-opacity="1.00"/>
<polyline points="449.2,212.2 451.9,213.2 454.6,214.2 457.2,215.3 459.7,216.3 462.2,217.4 464.8,218.7 467.5,220.0 470.2,221.4" stroke="#d8f030" stroke-width="6.2" stroke-opacity="1.00"/>
<polyline points="438.1,228.3 439.8,228.6 441.6,228.9 443.3,229.2 445.1,229.4 446.8,229.7 448.6,230.0" stroke="#d8f030" stroke-width="2.5" stroke-opacity="1.00"/>
<polyline points="63.5,167.2 65.0,168.5 66.5,169.8 68.0,171.0 69.5,172.2" stroke="#d8f030" stroke-width="5.3" stroke-opacity="1.00"/>
<polyline points="118.0,157.9 120.8,157.4" stroke="#d8f030" stroke-width="1.4" stroke-opacity="1.00"/>
<polyline points="246.6,118.2 249.4,117.8" stroke="#d8f030" stroke-width="1.4" stroke-opacity="1.00"/>
<polyline points="130.8,242.2 133.6,242.9 136.0,243.5 138.1,243.9 139.9,244.2 141.7,244.4 143.3,244.6 144.9,244.8 146.5,245.1 148.2,245.4 150.0,246.0 152.0,246.8" stroke="#f8a018" stroke-width="7.2" stroke-opacity="1.00"/>
<polyline points="131.7,189.1 131.1,190.6 130.9,192.2 131.2,193.9 132.0,195.9 133.1,198.1 134.4,200.2 135.7,202.3 136.9,204.2 137.9,205.8" stroke="#f8a018" stroke-width="3.6" stroke-opacity="1.00"/>
<polyline points="204.4,174.2 204.9,175.7 205.4,177.4 206.0,179.1 206.6,180.9 207.3,182.5 208.0,184.0 208.8,185.4 209.7,186.9 210.7,188.3 211.8,189.8 212.8,191.1 213.7,192.2" stroke="#f8a018" stroke-width="4.7" stroke-opacity="1.00"/>
<polyline points="208.8,156.4 208.5,157.1 208.1,157.9 207.5,159.0 207.0,160.1 206.4,161.3 205.9,162.6 205.4,163.8 205.0,165.0 204.7,166.2 204.5,167.5" stroke="#f8a018" stroke-width="2.5" stroke-opacity="1.00"/>
<polyline points="206.6,140.6 207.0,141.7 207.5,143.0 208.1,144.4 208.6,145.9 209.2,147.4 209.6,148.8 210.0,150.0 210.3,151.1 210.5,152.3 210.8,153.4" stroke="#f8a018" stroke-width="2.9" stroke-opacity="1.00"/>
<polyline points="230.1,171.5 230.9,173.0 231.6,174.5 232.4,176.0" stroke="#f8a018" stroke-width="2.9" stroke-opacity="1.00"/>
<polyline points="243.6,110.2 244.0,111.1 244.4,112.1 244.8,113.1 245.2,114.1 245.5,115.0 245.8,115.9 246.1,116.7 246.4,117.5 246.7,118.3 247.0,119.2 247.3,120.1 247.6,121.1 247.9,122.1" stroke="#f8a018" stroke-width="1.6" stroke-opacity="1.00"/>
<polyline points="194.1,142.1 195.1,143.5 196.1,144.9 197.0,146.0 197.9,147.0 198.9,147.9 199.9,148.8 200.9,149.6 201.9,150.4 202.7,151.0" stroke="#f8a018" stroke-width="2.2" stroke-opacity="1.00"/>
<polyline points="223.9,220.3 226.0,224.1 228.4,228.0 230.7,231.8 233.1,235.4 235.3,238.6 237.4,241.4 239.6,244.1 241.8,246.7 244.1,249.2 246.3,251.6 248.5,253.9 250.8,256.1 253.0,258.2 255.2,260.3 257.4,262.2 259.6,264.1 261.8,265.9 263.9,267.6 266.2,269.2 268.4,270.7 270.7,272.0 273.2,273.2 275.9,274.3 278.7,275.3 281.5,276.1 284.1,276.9 286.5,277.5 288.5,278.0 290.0,278.5" stroke="#f8a018" stroke-width="6.8" stroke-opacity="1.00"/>
<polyline points="288.7,230.6 289.6,232.6 290.4,234.7 291.2,236.7 292.1,238.7 293.1,240.6 294.2,242.5 295.5,244.3 296.8,246.2 298.2,248.0 299.6,249.8 301.1,251.5 302.7,253.2 304.3,254.8 306.0,256.3 307.9,257.8 310.0,259.3 312.3,260.7 314.6,262.1 316.8,263.3 318.8,264.4 320.5,265.4 321.7,266.1" stroke="#f8a018" stroke-width="5.8" stroke-opacity="1.00"/>
<polyline points="236.0,236.0 237.8,239.2 239.5,242.5 241.2,245.8 243.0,249.0 244.8,252.2 246.5,255.5 248.2,258.8 250.0,262.0" stroke="#f8a018" stroke-width="2.9" stroke-opacity="1.00"/>
<polyline points="288.7,161.8 289.7,162.1 290.8,162.4 292.1,162.8 293.5,163.4 295.0,164.0 296.6,164.9 298.2,165.9 299.9,167.2 301.7,168.8 303.7,170.5 305.7,172.4 307.8,174.3 309.8,176.2 311.9,178.0 313.9,179.6 316.0,181.1 318.2,182.6 320.5,184.0 322.7,185.4 324.9,186.7 326.8,187.8 328.4,188.8" stroke="#f8a018" stroke-width="4.3" stroke-opacity="1.00"/>
<polyline points="334.7,252.8 336.4,253.6 338.3,254.5 340.5,255.5 342.8,256.4 345.0,257.3 347.2,257.9 349.2,258.2 351.0,258.2 352.9,257.9 354.7,257.4 356.5,256.8 358.3,256.1 359.9,255.4 361.5,254.8 363.0,254.3 364.4,253.9 365.8,253.5 367.1,253.0 368.4,252.7 369.5,252.3 370.5,252.0 371.3,251.7 372.0,251.5" stroke="#f8a018" stroke-width="4.3" stroke-opacity="1.00"/>
<polyline points="232.4,264.7 233.3,267.8 234.2,271.2 235.0,274.7 235.7,278.1" stroke="#f8a018" stroke-width="4.0" stroke-opacity="1.00"/>
<polyline points="296.0,262.0 297.2,263.5 298.5,265.0 299.8,266.5 301.0,268.0 302.2,269.5 303.5,271.0 304.8,272.5 306.0,274.0" stroke="#f8a018" stroke-width="3.6" stroke-opacity="1.00"/>
<polyline points="410.8,241.8 412.5,242.0 414.1,242.0 415.5,242.0 416.7,241.9" stroke="#f8a018" stroke-width="4.0" stroke-opacity="1.00"/>
<polyline points="454.6,214.2 457.2,215.3 459.7,216.3 462.2,217.4 464.8,218.7" stroke="#f8a018" stroke-width="4.7" stroke-opacity="1.00"/>
<polyline points="62.0,166.0 63.5,167.2 65.0,168.5" stroke="#f8a018" stroke-width="4.0" stroke-opacity="1.00"/>
<polyline points="133.6,242.9 136.0,243.5 138.1,243.9 139.9,244.2 141.7,244.4 143.3,244.6 144.9,244.8 146.5,245.1 148.2,245.4 150.0,246.0" stroke="#d81408" stroke-width="4.8" stroke-opacity="1.00"/>
<polyline points="131.1,190.6 130.9,192.2 131.2,193.9 132.0,195.9 133.1,198.1 134.4,200.2 135.7,202.3 136.9,204.2" stroke="#d81408" stroke-width="2.4" stroke-opacity="1.00"/>
<polyline points="205.4,177.4 206.0,179.1 206.6,180.9 207.3,182.5 208.0,184.0 208.8,185.4 209.7,186.9 210.7,188.3 211.8,189.8 212.8,191.1" stroke="#d81408" stroke-width="3.1" stroke-opacity="1.00"/>
<polyline points="208.5,157.1 208.1,157.9 207.5,159.0 207.0,160.1 206.4,161.3 205.9,162.6 205.4,163.8 205.0,165.0 204.7,166.2" stroke="#d81408" stroke-width="1.7" stroke-opacity="1.00"/>
<polyline points="207.0,141.7 207.5,143.0 208.1,144.4 208.6,145.9 209.2,147.4 209.6,148.8 210.0,150.0 210.3,151.1 210.5,152.3" stroke="#d81408" stroke-width="1.9" stroke-opacity="1.00"/>
<polyline points="230.1,171.5 230.9,173.0 231.6,174.5 232.4,176.0" stroke="#d81408" stroke-width="1.9" stroke-opacity="1.00"/>
<polyline points="244.0,111.1 244.4,112.1 244.8,113.1 245.2,114.1 245.5,115.0 245.8,115.9 246.1,116.7 246.4,117.5 246.7,118.3 247.0,119.2 247.3,120.1 247.6,121.1" stroke="#d81408" stroke-width="1.1" stroke-opacity="1.00"/>
<polyline points="195.1,143.5 196.1,144.9 197.0,146.0 197.9,147.0 198.9,147.9 199.9,148.8 200.9,149.6 201.9,150.4" stroke="#d81408" stroke-width="1.4" stroke-opacity="1.00"/>
<polyline points="230.7,231.8 233.1,235.4 235.3,238.6 237.4,241.4 239.6,244.1 241.8,246.7 244.1,249.2 246.3,251.6 248.5,253.9 250.8,256.1 253.0,258.2 255.2,260.3 257.4,262.2 259.6,264.1 261.8,265.9 263.9,267.6 266.2,269.2 268.4,270.7 270.7,272.0 273.2,273.2 275.9,274.3 278.7,275.3 281.5,276.1 284.1,276.9" stroke="#d81408" stroke-width="4.6" stroke-opacity="1.00"/>
<polyline points="290.4,234.7 291.2,236.7 292.1,238.7 293.1,240.6 294.2,242.5 295.5,244.3 296.8,246.2 298.2,248.0 299.6,249.8 301.1,251.5 302.7,253.2 304.3,254.8 306.0,256.3 307.9,257.8 310.0,259.3 312.3,260.7 314.6,262.1 316.8,263.3 318.8,264.4" stroke="#d81408" stroke-width="3.8" stroke-opacity="1.00"/>
<polyline points="237.8,239.2 239.5,242.5 241.2,245.8 243.0,249.0 244.8,252.2 246.5,255.5 248.2,258.8" stroke="#d81408" stroke-width="1.9" stroke-opacity="1.00"/>
<polyline points="290.8,162.4 292.1,162.8 293.5,163.4 295.0,164.0 296.6,164.9 298.2,165.9 299.9,167.2 301.7,168.8 303.7,170.5 305.7,172.4 307.8,174.3 309.8,176.2 311.9,178.0 313.9,179.6 316.0,181.1 318.2,182.6 320.5,184.0 322.7,185.4 324.9,186.7" stroke="#d81408" stroke-width="2.9" stroke-opacity="1.00"/>
<polyline points="338.3,254.5 340.5,255.5 342.8,256.4 345.0,257.3 347.2,257.9 349.2,258.2 351.0,258.2 352.9,257.9 354.7,257.4 356.5,256.8 358.3,256.1 359.9,255.4 361.5,254.8 363.0,254.3 364.4,253.9 365.8,253.5 367.1,253.0 368.4,252.7 369.5,252.3" stroke="#d81408" stroke-width="2.9" stroke-opacity="1.00"/>
<polyline points="232.4,264.7 233.3,267.8 234.2,271.2 235.0,274.7" stroke="#d81408" stroke-width="2.6" stroke-opacity="1.00"/>
<polyline points="297.2,263.5 298.5,265.0 299.8,266.5 301.0,268.0 302.2,269.5 303.5,271.0 304.8,272.5" stroke="#d81408" stroke-width="2.4" stroke-opacity="1.00"/>
<polyline points="412.5,242.0 414.1,242.0 415.5,242.0 416.7,241.9" stroke="#d81408" stroke-width="2.6" stroke-opacity="1.00"/>
<polyline points="457.2,215.3 459.7,216.3 462.2,217.4" stroke="#d81408" stroke-width="3.1" stroke-opacity="1.00"/>
<polyline points="62.0,166.0 63.5,167.2 65.0,168.5" stroke="#d81408" stroke-width="2.6" stroke-opacity="1.00"/>
<polyline points="118.0,157.9 120.8,157.4" stroke="#e01c0c" stroke-width="1.0" stroke-opacity="1.00"/>
</g></g>
<g clip-path="url(#ovBI)"><g fill="none" stroke-linecap="round" stroke-linejoin="round" filter="url(#fwobB)">
<polyline points="349.8,111.0 350.7,111.6 351.6,112.2 352.4,112.8 353.3,113.3 354.2,113.9 355.1,114.5 355.9,115.1 356.8,115.7" stroke="#1a35d0" stroke-width="3.5" stroke-opacity="0.88"/>
<polyline points="363.8,139.1 364.4,140.0 365.0,140.8 365.6,141.7 366.1,142.6 366.7,143.5 367.3,144.3 367.9,145.2 368.5,146.1" stroke="#1a35d0" stroke-width="3.5" stroke-opacity="0.88"/>
<polyline points="370.8,176.5 371.7,177.2 372.6,178.0 373.4,178.7 374.3,179.4 375.2,180.2 376.1,180.9 376.9,181.7 377.8,182.4" stroke="#1a35d0" stroke-width="5.5" stroke-opacity="0.88"/>
<polyline points="410.6,178.8 412.6,180.3 414.7,181.7 416.7,183.2 418.8,184.7 420.8,186.1 422.8,187.6 424.9,189.0 426.9,190.5" stroke="#1a35d0" stroke-width="5.5" stroke-opacity="0.88"/>
<polyline points="398.9,197.6 400.1,198.5 401.2,199.3 402.4,200.2 403.5,201.1 404.7,202.0 405.9,202.8 407.0,203.7 408.2,204.6" stroke="#1a35d0" stroke-width="4.0" stroke-opacity="0.88"/>
<polyline points="321.0,152.5 321.2,152.6 321.4,152.8 321.6,152.9 321.8,153.0 321.9,153.1 322.1,153.2 322.3,153.4 322.5,153.5" stroke="#1a35d0" stroke-width="3.5" stroke-opacity="0.88"/>
<polyline points="384.8,94.7 384.9,94.7 385.0,94.8 385.1,94.8 385.1,94.8 385.2,94.9 385.3,94.9 385.4,95.0 385.5,95.0" stroke="#1a35d0" stroke-width="3.0" stroke-opacity="0.88"/>
<polyline points="394.2,93.5 394.3,93.5 394.4,93.6 394.5,93.6 394.6,93.7 394.7,93.7 394.8,93.7 394.9,93.8 395.0,93.8" stroke="#1a35d0" stroke-width="3.0" stroke-opacity="0.88"/>
<polyline points="422.3,253.7 422.6,254.6 422.9,255.4 423.2,256.3 423.5,257.2 423.7,258.1 424.0,258.9 424.3,259.8 424.6,260.7" stroke="#1a35d0" stroke-width="5.0" stroke-opacity="0.88"/>
<polyline points="370.8,176.5 371.7,177.2 372.6,178.0 373.4,178.7 374.3,179.4 375.2,180.2 376.1,180.9 376.9,181.7 377.8,182.4" stroke="#1fa8f0" stroke-width="4.2" stroke-opacity="0.95"/>
<polyline points="410.6,178.8 412.6,180.3 414.7,181.7 416.7,183.2 418.8,184.7 420.8,186.1 422.8,187.6 424.9,189.0 426.9,190.5" stroke="#1fa8f0" stroke-width="4.2" stroke-opacity="0.95"/>
<polyline points="398.9,197.6 400.1,198.5 401.2,199.3 402.4,200.2 403.5,201.1 404.7,202.0 405.9,202.8 407.0,203.7 408.2,204.6" stroke="#1fa8f0" stroke-width="2.1" stroke-opacity="0.95"/>
<polyline points="321.0,152.5 321.2,152.6 321.4,152.8 321.6,152.9 321.8,153.0 321.9,153.1 322.1,153.2 322.3,153.4 322.5,153.5" stroke="#1fa8f0" stroke-width="1.8" stroke-opacity="0.95"/>
<polyline points="422.3,253.7 422.6,254.6 422.9,255.4 423.2,256.3 423.5,257.2 423.7,258.1 424.0,258.9 424.3,259.8 424.6,260.7" stroke="#1fa8f0" stroke-width="3.8" stroke-opacity="0.95"/>
<polyline points="370.8,176.5 371.7,177.2 372.6,178.0 373.4,178.7 374.3,179.4 375.2,180.2 376.1,180.9 376.9,181.7 377.8,182.4" stroke="#40e8c0" stroke-width="2.5" stroke-opacity="0.95"/>
<polyline points="410.6,178.8 412.6,180.3 414.7,181.7 416.7,183.2 418.8,184.7 420.8,186.1 422.8,187.6 424.9,189.0 426.9,190.5" stroke="#40e8c0" stroke-width="2.5" stroke-opacity="0.95"/>
<polyline points="422.3,253.7 422.6,254.6 422.9,255.4 423.2,256.3 423.5,257.2 423.7,258.1 424.0,258.9 424.3,259.8 424.6,260.7" stroke="#40e8c0" stroke-width="2.3" stroke-opacity="0.95"/>
<polyline points="371.7,177.2 372.6,178.0 373.4,178.7 374.3,179.4 375.2,180.2 376.1,180.9 376.9,181.7" stroke="#d8f030" stroke-width="1.5" stroke-opacity="1.00"/>
<polyline points="412.6,180.3 414.7,181.7 416.7,183.2 418.8,184.7 420.8,186.1 422.8,187.6 424.9,189.0" stroke="#d8f030" stroke-width="1.5" stroke-opacity="1.00"/>
<polyline points="422.6,254.6 422.9,255.4 423.2,256.3 423.5,257.2 423.7,258.1 424.0,258.9 424.3,259.8" stroke="#d8f030" stroke-width="1.4" stroke-opacity="1.00"/>
</g></g>
<g stroke="#858585" stroke-width="0.9" fill="none">
<polyline points="56.5,90.2 56.5,188.5 164.9,342.2 508.8,240.0"/>
<line x1="54.0" y1="90.2" x2="56.5" y2="90.2"/>
<line x1="54.0" y1="114.8" x2="56.5" y2="114.8"/>
<line x1="54.0" y1="139.3" x2="56.5" y2="139.3"/>
<line x1="54.0" y1="163.9" x2="56.5" y2="163.9"/>
<line x1="54.0" y1="188.5" x2="56.5" y2="188.5"/>
<line x1="81.1" y1="227.7" x2="83.6" y2="226.9"/>
<line x1="108.2" y1="266.2" x2="110.7" y2="265.4"/>
<line x1="135.3" y1="304.6" x2="137.8" y2="303.8"/>
<line x1="162.4" y1="343.0" x2="164.9" y2="342.2"/>
<line x1="251.8" y1="316.4" x2="252.0" y2="319.0"/>
<line x1="337.3" y1="291.0" x2="337.5" y2="293.6"/>
<line x1="424.2" y1="265.1" x2="424.4" y2="267.7"/>
<line x1="508.8" y1="240.0" x2="509.0" y2="242.6"/>
</g>
</g>
<g transform="matrix(1.000901,-0.0032438,0.00014183,0.9968595,-1.032615,349.60777)">
<use href="#baseA"/>
<g clip-path="url(#ovA)"><g fill="none" stroke-linecap="round" stroke-linejoin="round" filter="url(#fwobC)">
<path d="M174.7,114.2 C176.5,117.0 182.4,126.9 185.7,130.7 C189.0,134.5 191.5,134.4 194.4,137.0 C197.3,139.6 199.7,142.7 203.0,146.4 C206.3,150.1 209.8,154.8 214.0,159.0 C218.2,163.2 225.2,167.2 228.2,171.6 C231.2,176.0 230.0,179.7 232.1,185.7 C234.2,191.7 239.4,204.0 240.8,207.7" stroke="#1a3fd8" stroke-width="7.4" stroke-opacity="0.55"/>
<path d="M240.8,207.7 C243.2,210.6 250.5,220.3 254.9,225.0 C259.4,229.7 264.5,232.5 267.5,236.0 C270.5,239.5 272.1,244.5 273.0,246.2" stroke="#1a3fd8" stroke-width="6.2" stroke-opacity="0.55"/>
<path d="M194.4,137.0 L188.9,144.8" stroke="#1a3fd8" stroke-width="7.3" stroke-opacity="0.55"/>
<path d="M190.0,133.5 L196.5,139.5" stroke="#1a3fd8" stroke-width="10.3" stroke-opacity="0.55"/>
<path d="M267.5,235.2 L281.6,221.9" stroke="#1a3fd8" stroke-width="6.4" stroke-opacity="0.55"/>
<path d="M237.6,104.0 C238.9,105.3 243.4,108.4 245.5,111.8 C247.6,115.2 248.1,120.9 250.2,124.4 C252.3,128.0 254.7,129.9 258.1,133.1 C261.5,136.2 266.7,140.0 270.6,143.3 C274.5,146.6 278.2,149.8 281.6,152.7 C285.0,155.6 288.2,158.0 291.1,160.6 C294.0,163.2 296.0,165.3 298.9,168.4 C301.8,171.5 303.9,176.1 308.3,179.4 C312.7,182.7 321.1,185.1 325.2,188.4 C329.3,191.7 330.4,195.5 333.0,199.4 C335.6,203.3 337.5,208.6 340.9,212.0 C344.3,215.4 351.4,218.6 353.5,219.9" stroke="#1a3fd8" stroke-width="7.6" stroke-opacity="0.55"/>
<path d="M236.5,103.5 L246.0,105.5" stroke="#1a3fd8" stroke-width="6.3" stroke-opacity="0.55"/>
<path d="M248.0,119.0 L252.5,128.0" stroke="#1a3fd8" stroke-width="11.8" stroke-opacity="0.55"/>
<path d="M294.0,161.5 L302.0,171.5" stroke="#1a3fd8" stroke-width="11.3" stroke-opacity="0.55"/>
<path d="M322.0,186.5 L329.0,190.5" stroke="#1a3fd8" stroke-width="9.8" stroke-opacity="0.55"/>
<path d="M289.5,164.5 C288.2,166.5 283.6,171.7 281.6,176.3 C279.6,180.9 278.1,186.5 277.7,192.0 C277.3,197.5 278.1,204.3 279.3,209.3 C280.5,214.3 282.6,219.0 284.8,221.9 C287.0,224.8 290.2,224.0 292.6,226.6 C295.0,229.2 297.1,234.2 298.9,237.6 C300.7,241.0 302.8,245.4 303.6,247.0" stroke="#1a3fd8" stroke-width="7.6" stroke-opacity="0.55"/>
<path d="M280.5,212.0 L285.5,223.5" stroke="#1a3fd8" stroke-width="10.3" stroke-opacity="0.55"/>
<path d="M304.7,221.4 C307.1,223.2 314.4,229.0 318.9,232.4 C323.4,235.8 327.1,240.1 331.5,241.9 C335.9,243.7 341.6,243.0 345.0,243.0 C348.4,243.0 349.2,241.3 351.9,241.9 C354.6,242.5 357.6,244.6 361.3,246.6 C365.0,248.6 371.8,252.5 373.9,253.7" stroke="#1a3fd8" stroke-width="7.8" stroke-opacity="0.55"/>
<path d="M333.0,216.7 C333.8,218.3 335.7,222.7 337.8,226.1 C339.9,229.5 343.2,234.5 345.6,237.1 C348.0,239.7 350.8,241.1 351.9,241.9" stroke="#1a3fd8" stroke-width="8.2" stroke-opacity="0.55"/>
<path d="M334.6,245.0 L333.8,254.4" stroke="#1a3fd8" stroke-width="7.6" stroke-opacity="0.55"/>
<path d="M343.0,240.0 L353.0,243.5" stroke="#1a3fd8" stroke-width="9.8" stroke-opacity="0.55"/>
<path d="M392.8,208.8 C393.9,210.9 397.3,217.2 399.1,221.4 C400.9,225.6 401.2,230.6 403.8,234.0 C406.4,237.4 410.9,238.8 414.8,241.9 C418.7,245.1 425.3,251.1 427.4,252.9" stroke="#1a3fd8" stroke-width="7.8" stroke-opacity="0.55"/>
<path d="M392.5,207.5 L396.0,214.5" stroke="#1a3fd8" stroke-width="10.8" stroke-opacity="0.55"/>
<path d="M377.2,233.4 L383.2,234.6" stroke="#1a3fd8" stroke-width="6.4" stroke-opacity="0.55"/>
<path d="M500.6,198.4 C499.2,198.8 494.3,199.2 492.0,200.5 C489.7,201.8 487.6,203.9 486.8,206.0 C486.0,208.1 486.2,210.9 487.0,213.0 C487.8,215.1 489.5,217.1 491.5,218.5 C493.5,219.9 496.3,220.7 499.0,221.5 C501.7,222.3 506.2,222.9 507.7,223.2" stroke="#1a3fd8" stroke-width="7.0" stroke-opacity="0.55"/>
<path d="M164.7,306.3 C166.6,305.5 172.4,303.0 176.0,301.5 C179.6,300.0 182.6,299.1 186.0,297.5 C189.4,295.9 192.6,293.9 196.6,292.2 C200.6,290.4 204.7,288.5 210.0,287.0 C215.3,285.5 222.4,284.3 228.4,283.3 C234.4,282.3 240.1,281.6 246.0,281.0 C251.9,280.4 260.8,280.0 263.7,279.8" stroke="#1a3fd8" stroke-width="8.2" stroke-opacity="0.55"/>
<path d="M186.0,286.9 C187.2,285.9 190.1,282.8 193.0,281.0 C195.9,279.2 199.8,277.4 203.6,276.3 C207.4,275.2 211.9,274.6 216.0,274.5 C220.1,274.4 225.2,274.4 228.4,275.6 C231.7,276.8 234.3,280.6 235.5,281.6" stroke="#1a3fd8" stroke-width="8.2" stroke-opacity="0.55"/>
<path d="M186.0,297.5 C185.8,296.5 184.5,293.3 184.5,291.5 C184.5,289.7 185.8,287.7 186.0,286.9" stroke="#1a3fd8" stroke-width="7.4" stroke-opacity="0.55"/>
<path d="M286.7,258.6 C287.9,259.5 291.4,262.5 294.0,264.0 C296.6,265.5 298.8,266.8 302.6,267.4 C306.4,268.0 314.4,267.4 316.8,267.4" stroke="#1a3fd8" stroke-width="9.1" stroke-opacity="0.55"/>
<path d="M306.2,255.0 C306.9,256.0 308.9,259.2 310.5,261.0 C312.1,262.8 315.1,265.2 316.0,266.0" stroke="#1a3fd8" stroke-width="8.1" stroke-opacity="0.55"/>
<path d="M290.6,260.7 C292.0,261.7 296.4,264.9 299.0,266.5 C301.6,268.1 305.1,269.4 306.3,270.0" stroke="#1a3fd8" stroke-width="8.6" stroke-opacity="0.55"/>
<path d="M174.7,114.2 C176.5,117.0 182.4,126.9 185.7,130.7 C189.0,134.5 191.5,134.4 194.4,137.0 C197.3,139.6 199.7,142.7 203.0,146.4 C206.3,150.1 209.8,154.8 214.0,159.0 C218.2,163.2 225.2,167.2 228.2,171.6 C231.2,176.0 230.0,179.7 232.1,185.7 C234.2,191.7 239.4,204.0 240.8,207.7" stroke="#22c8e8" stroke-width="6.7" stroke-opacity="0.85"/>
<path d="M240.8,207.7 C243.2,210.6 250.5,220.3 254.9,225.0 C259.4,229.7 264.5,232.5 267.5,236.0 C270.5,239.5 272.1,244.5 273.0,246.2" stroke="#22c8e8" stroke-width="5.5" stroke-opacity="0.85"/>
<path d="M194.4,137.0 L188.9,144.8" stroke="#22c8e8" stroke-width="6.6" stroke-opacity="0.85"/>
<path d="M190.0,133.5 L196.5,139.5" stroke="#22c8e8" stroke-width="9.6" stroke-opacity="0.85"/>
<path d="M267.5,235.2 L281.6,221.9" stroke="#22c8e8" stroke-width="5.7" stroke-opacity="0.85"/>
<path d="M237.6,104.0 C238.9,105.3 243.4,108.4 245.5,111.8 C247.6,115.2 248.1,120.9 250.2,124.4 C252.3,128.0 254.7,129.9 258.1,133.1 C261.5,136.2 266.7,140.0 270.6,143.3 C274.5,146.6 278.2,149.8 281.6,152.7 C285.0,155.6 288.2,158.0 291.1,160.6 C294.0,163.2 296.0,165.3 298.9,168.4 C301.8,171.5 303.9,176.1 308.3,179.4 C312.7,182.7 321.1,185.1 325.2,188.4 C329.3,191.7 330.4,195.5 333.0,199.4 C335.6,203.3 337.5,208.6 340.9,212.0 C344.3,215.4 351.4,218.6 353.5,219.9" stroke="#22c8e8" stroke-width="6.9" stroke-opacity="0.85"/>
<path d="M236.5,103.5 L246.0,105.5" stroke="#22c8e8" stroke-width="5.6" stroke-opacity="0.85"/>
<path d="M248.0,119.0 L252.5,128.0" stroke="#22c8e8" stroke-width="11.1" stroke-opacity="0.85"/>
<path d="M294.0,161.5 L302.0,171.5" stroke="#22c8e8" stroke-width="10.6" stroke-opacity="0.85"/>
<path d="M322.0,186.5 L329.0,190.5" stroke="#22c8e8" stroke-width="9.1" stroke-opacity="0.85"/>
<path d="M289.5,164.5 C288.2,166.5 283.6,171.7 281.6,176.3 C279.6,180.9 278.1,186.5 277.7,192.0 C277.3,197.5 278.1,204.3 279.3,209.3 C280.5,214.3 282.6,219.0 284.8,221.9 C287.0,224.8 290.2,224.0 292.6,226.6 C295.0,229.2 297.1,234.2 298.9,237.6 C300.7,241.0 302.8,245.4 303.6,247.0" stroke="#22c8e8" stroke-width="6.9" stroke-opacity="0.85"/>
<path d="M280.5,212.0 L285.5,223.5" stroke="#22c8e8" stroke-width="9.6" stroke-opacity="0.85"/>
<path d="M304.7,221.4 C307.1,223.2 314.4,229.0 318.9,232.4 C323.4,235.8 327.1,240.1 331.5,241.9 C335.9,243.7 341.6,243.0 345.0,243.0 C348.4,243.0 349.2,241.3 351.9,241.9 C354.6,242.5 357.6,244.6 361.3,246.6 C365.0,248.6 371.8,252.5 373.9,253.7" stroke="#22c8e8" stroke-width="7.1" stroke-opacity="0.85"/>
<path d="M333.0,216.7 C333.8,218.3 335.7,222.7 337.8,226.1 C339.9,229.5 343.2,234.5 345.6,237.1 C348.0,239.7 350.8,241.1 351.9,241.9" stroke="#22c8e8" stroke-width="7.5" stroke-opacity="0.85"/>
<path d="M334.6,245.0 L333.8,254.4" stroke="#22c8e8" stroke-width="6.9" stroke-opacity="0.85"/>
<path d="M343.0,240.0 L353.0,243.5" stroke="#22c8e8" stroke-width="9.1" stroke-opacity="0.85"/>
<path d="M392.8,208.8 C393.9,210.9 397.3,217.2 399.1,221.4 C400.9,225.6 401.2,230.6 403.8,234.0 C406.4,237.4 410.9,238.8 414.8,241.9 C418.7,245.1 425.3,251.1 427.4,252.9" stroke="#22c8e8" stroke-width="7.1" stroke-opacity="0.85"/>
<path d="M392.5,207.5 L396.0,214.5" stroke="#22c8e8" stroke-width="10.1" stroke-opacity="0.85"/>
<path d="M377.2,233.4 L383.2,234.6" stroke="#22c8e8" stroke-width="5.7" stroke-opacity="0.85"/>
<path d="M500.6,198.4 C499.2,198.8 494.3,199.2 492.0,200.5 C489.7,201.8 487.6,203.9 486.8,206.0 C486.0,208.1 486.2,210.9 487.0,213.0 C487.8,215.1 489.5,217.1 491.5,218.5 C493.5,219.9 496.3,220.7 499.0,221.5 C501.7,222.3 506.2,222.9 507.7,223.2" stroke="#22c8e8" stroke-width="6.3" stroke-opacity="0.85"/>
<path d="M164.7,306.3 C166.6,305.5 172.4,303.0 176.0,301.5 C179.6,300.0 182.6,299.1 186.0,297.5 C189.4,295.9 192.6,293.9 196.6,292.2 C200.6,290.4 204.7,288.5 210.0,287.0 C215.3,285.5 222.4,284.3 228.4,283.3 C234.4,282.3 240.1,281.6 246.0,281.0 C251.9,280.4 260.8,280.0 263.7,279.8" stroke="#22c8e8" stroke-width="7.5" stroke-opacity="0.85"/>
<path d="M186.0,286.9 C187.2,285.9 190.1,282.8 193.0,281.0 C195.9,279.2 199.8,277.4 203.6,276.3 C207.4,275.2 211.9,274.6 216.0,274.5 C220.1,274.4 225.2,274.4 228.4,275.6 C231.7,276.8 234.3,280.6 235.5,281.6" stroke="#22c8e8" stroke-width="7.5" stroke-opacity="0.85"/>
<path d="M186.0,297.5 C185.8,296.5 184.5,293.3 184.5,291.5 C184.5,289.7 185.8,287.7 186.0,286.9" stroke="#22c8e8" stroke-width="6.7" stroke-opacity="0.85"/>
<path d="M286.7,258.6 C287.9,259.5 291.4,262.5 294.0,264.0 C296.6,265.5 298.8,266.8 302.6,267.4 C306.4,268.0 314.4,267.4 316.8,267.4" stroke="#22c8e8" stroke-width="8.4" stroke-opacity="0.85"/>
<path d="M306.2,255.0 C306.9,256.0 308.9,259.2 310.5,261.0 C312.1,262.8 315.1,265.2 316.0,266.0" stroke="#22c8e8" stroke-width="7.4" stroke-opacity="0.85"/>
<path d="M290.6,260.7 C292.0,261.7 296.4,264.9 299.0,266.5 C301.6,268.1 305.1,269.4 306.3,270.0" stroke="#22c8e8" stroke-width="7.9" stroke-opacity="0.85"/>
<path d="M174.7,114.2 C176.5,117.0 182.4,126.9 185.7,130.7 C189.0,134.5 191.5,134.4 194.4,137.0 C197.3,139.6 199.7,142.7 203.0,146.4 C206.3,150.1 209.8,154.8 214.0,159.0 C218.2,163.2 225.2,167.2 228.2,171.6 C231.2,176.0 230.0,179.7 232.1,185.7 C234.2,191.7 239.4,204.0 240.8,207.7" stroke="#e8e828" stroke-width="6.0" stroke-opacity="1.00"/>
<path d="M240.8,207.7 C243.2,210.6 250.5,220.3 254.9,225.0 C259.4,229.7 264.5,232.5 267.5,236.0 C270.5,239.5 272.1,244.5 273.0,246.2" stroke="#e8e828" stroke-width="4.8" stroke-opacity="1.00"/>
<path d="M194.4,137.0 L188.9,144.8" stroke="#e8e828" stroke-width="5.9" stroke-opacity="1.00"/>
<path d="M190.0,133.5 L196.5,139.5" stroke="#e8e828" stroke-width="8.9" stroke-opacity="1.00"/>
<path d="M267.5,235.2 L281.6,221.9" stroke="#e8e828" stroke-width="5.0" stroke-opacity="1.00"/>
<path d="M237.6,104.0 C238.9,105.3 243.4,108.4 245.5,111.8 C247.6,115.2 248.1,120.9 250.2,124.4 C252.3,128.0 254.7,129.9 258.1,133.1 C261.5,136.2 266.7,140.0 270.6,143.3 C274.5,146.6 278.2,149.8 281.6,152.7 C285.0,155.6 288.2,158.0 291.1,160.6 C294.0,163.2 296.0,165.3 298.9,168.4 C301.8,171.5 303.9,176.1 308.3,179.4 C312.7,182.7 321.1,185.1 325.2,188.4 C329.3,191.7 330.4,195.5 333.0,199.4 C335.6,203.3 337.5,208.6 340.9,212.0 C344.3,215.4 351.4,218.6 353.5,219.9" stroke="#e8e828" stroke-width="6.2" stroke-opacity="1.00"/>
<path d="M236.5,103.5 L246.0,105.5" stroke="#e8e828" stroke-width="4.9" stroke-opacity="1.00"/>
<path d="M248.0,119.0 L252.5,128.0" stroke="#e8e828" stroke-width="10.4" stroke-opacity="1.00"/>
<path d="M294.0,161.5 L302.0,171.5" stroke="#e8e828" stroke-width="9.9" stroke-opacity="1.00"/>
<path d="M322.0,186.5 L329.0,190.5" stroke="#e8e828" stroke-width="8.4" stroke-opacity="1.00"/>
<path d="M289.5,164.5 C288.2,166.5 283.6,171.7 281.6,176.3 C279.6,180.9 278.1,186.5 277.7,192.0 C277.3,197.5 278.1,204.3 279.3,209.3 C280.5,214.3 282.6,219.0 284.8,221.9 C287.0,224.8 290.2,224.0 292.6,226.6 C295.0,229.2 297.1,234.2 298.9,237.6 C300.7,241.0 302.8,245.4 303.6,247.0" stroke="#e8e828" stroke-width="6.2" stroke-opacity="1.00"/>
<path d="M280.5,212.0 L285.5,223.5" stroke="#e8e828" stroke-width="8.9" stroke-opacity="1.00"/>
<path d="M304.7,221.4 C307.1,223.2 314.4,229.0 318.9,232.4 C323.4,235.8 327.1,240.1 331.5,241.9 C335.9,243.7 341.6,243.0 345.0,243.0 C348.4,243.0 349.2,241.3 351.9,241.9 C354.6,242.5 357.6,244.6 361.3,246.6 C365.0,248.6 371.8,252.5 373.9,253.7" stroke="#e8e828" stroke-width="6.4" stroke-opacity="1.00"/>
<path d="M333.0,216.7 C333.8,218.3 335.7,222.7 337.8,226.1 C339.9,229.5 343.2,234.5 345.6,237.1 C348.0,239.7 350.8,241.1 351.9,241.9" stroke="#e8e828" stroke-width="6.8" stroke-opacity="1.00"/>
<path d="M334.6,245.0 L333.8,254.4" stroke="#e8e828" stroke-width="6.2" stroke-opacity="1.00"/>
<path d="M343.0,240.0 L353.0,243.5" stroke="#e8e828" stroke-width="8.4" stroke-opacity="1.00"/>
<path d="M392.8,208.8 C393.9,210.9 397.3,217.2 399.1,221.4 C400.9,225.6 401.2,230.6 403.8,234.0 C406.4,237.4 410.9,238.8 414.8,241.9 C418.7,245.1 425.3,251.1 427.4,252.9" stroke="#e8e828" stroke-width="6.4" stroke-opacity="1.00"/>
<path d="M392.5,207.5 L396.0,214.5" stroke="#e8e828" stroke-width="9.4" stroke-opacity="1.00"/>
<path d="M377.2,233.4 L383.2,234.6" stroke="#e8e828" stroke-width="5.0" stroke-opacity="1.00"/>
<path d="M500.6,198.4 C499.2,198.8 494.3,199.2 492.0,200.5 C489.7,201.8 487.6,203.9 486.8,206.0 C486.0,208.1 486.2,210.9 487.0,213.0 C487.8,215.1 489.5,217.1 491.5,218.5 C493.5,219.9 496.3,220.7 499.0,221.5 C501.7,222.3 506.2,222.9 507.7,223.2" stroke="#e8e828" stroke-width="5.6" stroke-opacity="1.00"/>
<path d="M164.7,306.3 C166.6,305.5 172.4,303.0 176.0,301.5 C179.6,300.0 182.6,299.1 186.0,297.5 C189.4,295.9 192.6,293.9 196.6,292.2 C200.6,290.4 204.7,288.5 210.0,287.0 C215.3,285.5 222.4,284.3 228.4,283.3 C234.4,282.3 240.1,281.6 246.0,281.0 C251.9,280.4 260.8,280.0 263.7,279.8" stroke="#e8e828" stroke-width="6.8" stroke-opacity="1.00"/>
<path d="M186.0,286.9 C187.2,285.9 190.1,282.8 193.0,281.0 C195.9,279.2 199.8,277.4 203.6,276.3 C207.4,275.2 211.9,274.6 216.0,274.5 C220.1,274.4 225.2,274.4 228.4,275.6 C231.7,276.8 234.3,280.6 235.5,281.6" stroke="#e8e828" stroke-width="6.8" stroke-opacity="1.00"/>
<path d="M186.0,297.5 C185.8,296.5 184.5,293.3 184.5,291.5 C184.5,289.7 185.8,287.7 186.0,286.9" stroke="#e8e828" stroke-width="6.0" stroke-opacity="1.00"/>
<path d="M286.7,258.6 C287.9,259.5 291.4,262.5 294.0,264.0 C296.6,265.5 298.8,266.8 302.6,267.4 C306.4,268.0 314.4,267.4 316.8,267.4" stroke="#e8e828" stroke-width="7.7" stroke-opacity="1.00"/>
<path d="M306.2,255.0 C306.9,256.0 308.9,259.2 310.5,261.0 C312.1,262.8 315.1,265.2 316.0,266.0" stroke="#e8e828" stroke-width="6.7" stroke-opacity="1.00"/>
<path d="M290.6,260.7 C292.0,261.7 296.4,264.9 299.0,266.5 C301.6,268.1 305.1,269.4 306.3,270.0" stroke="#e8e828" stroke-width="7.2" stroke-opacity="1.00"/>
<path d="M174.7,114.2 C176.5,117.0 182.4,126.9 185.7,130.7 C189.0,134.5 191.5,134.4 194.4,137.0 C197.3,139.6 199.7,142.7 203.0,146.4 C206.3,150.1 209.8,154.8 214.0,159.0 C218.2,163.2 225.2,167.2 228.2,171.6 C231.2,176.0 230.0,179.7 232.1,185.7 C234.2,191.7 239.4,204.0 240.8,207.7" stroke="#f06a18" stroke-width="5.2" stroke-opacity="1.00"/>
<path d="M240.8,207.7 C243.2,210.6 250.5,220.3 254.9,225.0 C259.4,229.7 264.5,232.5 267.5,236.0 C270.5,239.5 272.1,244.5 273.0,246.2" stroke="#f06a18" stroke-width="4.0" stroke-opacity="1.00"/>
<path d="M194.4,137.0 L188.9,144.8" stroke="#f06a18" stroke-width="5.1" stroke-opacity="1.00"/>
<path d="M190.0,133.5 L196.5,139.5" stroke="#f06a18" stroke-width="8.1" stroke-opacity="1.00"/>
<path d="M267.5,235.2 L281.6,221.9" stroke="#f06a18" stroke-width="4.2" stroke-opacity="1.00"/>
<path d="M237.6,104.0 C238.9,105.3 243.4,108.4 245.5,111.8 C247.6,115.2 248.1,120.9 250.2,124.4 C252.3,128.0 254.7,129.9 258.1,133.1 C261.5,136.2 266.7,140.0 270.6,143.3 C274.5,146.6 278.2,149.8 281.6,152.7 C285.0,155.6 288.2,158.0 291.1,160.6 C294.0,163.2 296.0,165.3 298.9,168.4 C301.8,171.5 303.9,176.1 308.3,179.4 C312.7,182.7 321.1,185.1 325.2,188.4 C329.3,191.7 330.4,195.5 333.0,199.4 C335.6,203.3 337.5,208.6 340.9,212.0 C344.3,215.4 351.4,218.6 353.5,219.9" stroke="#f06a18" stroke-width="5.4" stroke-opacity="1.00"/>
<path d="M236.5,103.5 L246.0,105.5" stroke="#f06a18" stroke-width="4.1" stroke-opacity="1.00"/>
<path d="M248.0,119.0 L252.5,128.0" stroke="#f06a18" stroke-width="9.6" stroke-opacity="1.00"/>
<path d="M294.0,161.5 L302.0,171.5" stroke="#f06a18" stroke-width="9.1" stroke-opacity="1.00"/>
<path d="M322.0,186.5 L329.0,190.5" stroke="#f06a18" stroke-width="7.6" stroke-opacity="1.00"/>
<path d="M289.5,164.5 C288.2,166.5 283.6,171.7 281.6,176.3 C279.6,180.9 278.1,186.5 277.7,192.0 C277.3,197.5 278.1,204.3 279.3,209.3 C280.5,214.3 282.6,219.0 284.8,221.9 C287.0,224.8 290.2,224.0 292.6,226.6 C295.0,229.2 297.1,234.2 298.9,237.6 C300.7,241.0 302.8,245.4 303.6,247.0" stroke="#f06a18" stroke-width="5.4" stroke-opacity="1.00"/>
<path d="M280.5,212.0 L285.5,223.5" stroke="#f06a18" stroke-width="8.1" stroke-opacity="1.00"/>
<path d="M304.7,221.4 C307.1,223.2 314.4,229.0 318.9,232.4 C323.4,235.8 327.1,240.1 331.5,241.9 C335.9,243.7 341.6,243.0 345.0,243.0 C348.4,243.0 349.2,241.3 351.9,241.9 C354.6,242.5 357.6,244.6 361.3,246.6 C365.0,248.6 371.8,252.5 373.9,253.7" stroke="#f06a18" stroke-width="4.3" stroke-opacity="1.00"/>
<path d="M333.0,216.7 C333.8,218.3 335.7,222.7 337.8,226.1 C339.9,229.5 343.2,234.5 345.6,237.1 C348.0,239.7 350.8,241.1 351.9,241.9" stroke="#f06a18" stroke-width="4.7" stroke-opacity="1.00"/>
<path d="M334.6,245.0 L333.8,254.4" stroke="#f06a18" stroke-width="4.1" stroke-opacity="1.00"/>
<path d="M343.0,240.0 L353.0,243.5" stroke="#f06a18" stroke-width="7.6" stroke-opacity="1.00"/>
<path d="M392.8,208.8 C393.9,210.9 397.3,217.2 399.1,221.4 C400.9,225.6 401.2,230.6 403.8,234.0 C406.4,237.4 410.9,238.8 414.8,241.9 C418.7,245.1 425.3,251.1 427.4,252.9" stroke="#f06a18" stroke-width="5.6" stroke-opacity="1.00"/>
<path d="M392.5,207.5 L396.0,214.5" stroke="#f06a18" stroke-width="8.6" stroke-opacity="1.00"/>
<path d="M377.2,233.4 L383.2,234.6" stroke="#f06a18" stroke-width="4.2" stroke-opacity="1.00"/>
<path d="M500.6,198.4 C499.2,198.8 494.3,199.2 492.0,200.5 C489.7,201.8 487.6,203.9 486.8,206.0 C486.0,208.1 486.2,210.9 487.0,213.0 C487.8,215.1 489.5,217.1 491.5,218.5 C493.5,219.9 496.3,220.7 499.0,221.5 C501.7,222.3 506.2,222.9 507.7,223.2" stroke="#f06a18" stroke-width="4.8" stroke-opacity="1.00"/>
<path d="M164.7,306.3 C166.6,305.5 172.4,303.0 176.0,301.5 C179.6,300.0 182.6,299.1 186.0,297.5 C189.4,295.9 192.6,293.9 196.6,292.2 C200.6,290.4 204.7,288.5 210.0,287.0 C215.3,285.5 222.4,284.3 228.4,283.3 C234.4,282.3 240.1,281.6 246.0,281.0 C251.9,280.4 260.8,280.0 263.7,279.8" stroke="#f06a18" stroke-width="4.7" stroke-opacity="1.00"/>
<path d="M186.0,286.9 C187.2,285.9 190.1,282.8 193.0,281.0 C195.9,279.2 199.8,277.4 203.6,276.3 C207.4,275.2 211.9,274.6 216.0,274.5 C220.1,274.4 225.2,274.4 228.4,275.6 C231.7,276.8 234.3,280.6 235.5,281.6" stroke="#f06a18" stroke-width="4.7" stroke-opacity="1.00"/>
<path d="M186.0,297.5 C185.8,296.5 184.5,293.3 184.5,291.5 C184.5,289.7 185.8,287.7 186.0,286.9" stroke="#f06a18" stroke-width="3.9" stroke-opacity="1.00"/>
<path d="M286.7,258.6 C287.9,259.5 291.4,262.5 294.0,264.0 C296.6,265.5 298.8,266.8 302.6,267.4 C306.4,268.0 314.4,267.4 316.8,267.4" stroke="#f06a18" stroke-width="5.6" stroke-opacity="1.00"/>
<path d="M306.2,255.0 C306.9,256.0 308.9,259.2 310.5,261.0 C312.1,262.8 315.1,265.2 316.0,266.0" stroke="#f06a18" stroke-width="4.6" stroke-opacity="1.00"/>
<path d="M290.6,260.7 C292.0,261.7 296.4,264.9 299.0,266.5 C301.6,268.1 305.1,269.4 306.3,270.0" stroke="#f06a18" stroke-width="5.1" stroke-opacity="1.00"/>
<path d="M174.7,114.2 C176.5,117.0 182.4,126.9 185.7,130.7 C189.0,134.5 191.5,134.4 194.4,137.0 C197.3,139.6 199.7,142.7 203.0,146.4 C206.3,150.1 209.8,154.8 214.0,159.0 C218.2,163.2 225.2,167.2 228.2,171.6 C231.2,176.0 230.0,179.7 232.1,185.7 C234.2,191.7 239.4,204.0 240.8,207.7" stroke="#d8240c" stroke-width="4.5" stroke-opacity="1.00"/>
<path d="M240.8,207.7 C243.2,210.6 250.5,220.3 254.9,225.0 C259.4,229.7 264.5,232.5 267.5,236.0 C270.5,239.5 272.1,244.5 273.0,246.2" stroke="#d8240c" stroke-width="3.3" stroke-opacity="1.00"/>
<path d="M194.4,137.0 L188.9,144.8" stroke="#d8240c" stroke-width="4.4" stroke-opacity="1.00"/>
<path d="M190.0,133.5 L196.5,139.5" stroke="#d8240c" stroke-width="7.4" stroke-opacity="1.00"/>
<path d="M267.5,235.2 L281.6,221.9" stroke="#d8240c" stroke-width="3.5" stroke-opacity="1.00"/>
<path d="M237.6,104.0 C238.9,105.3 243.4,108.4 245.5,111.8 C247.6,115.2 248.1,120.9 250.2,124.4 C252.3,128.0 254.7,129.9 258.1,133.1 C261.5,136.2 266.7,140.0 270.6,143.3 C274.5,146.6 278.2,149.8 281.6,152.7 C285.0,155.6 288.2,158.0 291.1,160.6 C294.0,163.2 296.0,165.3 298.9,168.4 C301.8,171.5 303.9,176.1 308.3,179.4 C312.7,182.7 321.1,185.1 325.2,188.4 C329.3,191.7 330.4,195.5 333.0,199.4 C335.6,203.3 337.5,208.6 340.9,212.0 C344.3,215.4 351.4,218.6 353.5,219.9" stroke="#d8240c" stroke-width="4.7" stroke-opacity="1.00"/>
<path d="M236.5,103.5 L246.0,105.5" stroke="#d8240c" stroke-width="3.4" stroke-opacity="1.00"/>
<path d="M248.0,119.0 L252.5,128.0" stroke="#d8240c" stroke-width="8.9" stroke-opacity="1.00"/>
<path d="M294.0,161.5 L302.0,171.5" stroke="#d8240c" stroke-width="8.4" stroke-opacity="1.00"/>
<path d="M322.0,186.5 L329.0,190.5" stroke="#d8240c" stroke-width="6.9" stroke-opacity="1.00"/>
<path d="M289.5,164.5 C288.2,166.5 283.6,171.7 281.6,176.3 C279.6,180.9 278.1,186.5 277.7,192.0 C277.3,197.5 278.1,204.3 279.3,209.3 C280.5,214.3 282.6,219.0 284.8,221.9 C287.0,224.8 290.2,224.0 292.6,226.6 C295.0,229.2 297.1,234.2 298.9,237.6 C300.7,241.0 302.8,245.4 303.6,247.0" stroke="#d8240c" stroke-width="4.7" stroke-opacity="1.00"/>
<path d="M280.5,212.0 L285.5,223.5" stroke="#d8240c" stroke-width="7.4" stroke-opacity="1.00"/>
<path d="M304.7,221.4 C307.1,223.2 314.4,229.0 318.9,232.4 C323.4,235.8 327.1,240.1 331.5,241.9 C335.9,243.7 341.6,243.0 345.0,243.0 C348.4,243.0 349.2,241.3 351.9,241.9 C354.6,242.5 357.6,244.6 361.3,246.6 C365.0,248.6 371.8,252.5 373.9,253.7" stroke="#d8240c" stroke-width="3.6" stroke-opacity="1.00"/>
<path d="M333.0,216.7 C333.8,218.3 335.7,222.7 337.8,226.1 C339.9,229.5 343.2,234.5 345.6,237.1 C348.0,239.7 350.8,241.1 351.9,241.9" stroke="#d8240c" stroke-width="4.0" stroke-opacity="1.00"/>
<path d="M334.6,245.0 L333.8,254.4" stroke="#d8240c" stroke-width="3.4" stroke-opacity="1.00"/>
<path d="M343.0,240.0 L353.0,243.5" stroke="#d8240c" stroke-width="6.9" stroke-opacity="1.00"/>
<path d="M392.8,208.8 C393.9,210.9 397.3,217.2 399.1,221.4 C400.9,225.6 401.2,230.6 403.8,234.0 C406.4,237.4 410.9,238.8 414.8,241.9 C418.7,245.1 425.3,251.1 427.4,252.9" stroke="#d8240c" stroke-width="4.9" stroke-opacity="1.00"/>
<path d="M392.5,207.5 L396.0,214.5" stroke="#d8240c" stroke-width="7.9" stroke-opacity="1.00"/>
<path d="M377.2,233.4 L383.2,234.6" stroke="#d8240c" stroke-width="3.5" stroke-opacity="1.00"/>
<path d="M500.6,198.4 C499.2,198.8 494.3,199.2 492.0,200.5 C489.7,201.8 487.6,203.9 486.8,206.0 C486.0,208.1 486.2,210.9 487.0,213.0 C487.8,215.1 489.5,217.1 491.5,218.5 C493.5,219.9 496.3,220.7 499.0,221.5 C501.7,222.3 506.2,222.9 507.7,223.2" stroke="#d8240c" stroke-width="4.1" stroke-opacity="1.00"/>
<path d="M164.7,306.3 C166.6,305.5 172.4,303.0 176.0,301.5 C179.6,300.0 182.6,299.1 186.0,297.5 C189.4,295.9 192.6,293.9 196.6,292.2 C200.6,290.4 204.7,288.5 210.0,287.0 C215.3,285.5 222.4,284.3 228.4,283.3 C234.4,282.3 240.1,281.6 246.0,281.0 C251.9,280.4 260.8,280.0 263.7,279.8" stroke="#d8240c" stroke-width="4.0" stroke-opacity="1.00"/>
<path d="M186.0,286.9 C187.2,285.9 190.1,282.8 193.0,281.0 C195.9,279.2 199.8,277.4 203.6,276.3 C207.4,275.2 211.9,274.6 216.0,274.5 C220.1,274.4 225.2,274.4 228.4,275.6 C231.7,276.8 234.3,280.6 235.5,281.6" stroke="#d8240c" stroke-width="4.0" stroke-opacity="1.00"/>
<path d="M186.0,297.5 C185.8,296.5 184.5,293.3 184.5,291.5 C184.5,289.7 185.8,287.7 186.0,286.9" stroke="#d8240c" stroke-width="3.2" stroke-opacity="1.00"/>
<path d="M286.7,258.6 C287.9,259.5 291.4,262.5 294.0,264.0 C296.6,265.5 298.8,266.8 302.6,267.4 C306.4,268.0 314.4,267.4 316.8,267.4" stroke="#d8240c" stroke-width="4.9" stroke-opacity="1.00"/>
<path d="M306.2,255.0 C306.9,256.0 308.9,259.2 310.5,261.0 C312.1,262.8 315.1,265.2 316.0,266.0" stroke="#d8240c" stroke-width="3.9" stroke-opacity="1.00"/>
<path d="M290.6,260.7 C292.0,261.7 296.4,264.9 299.0,266.5 C301.6,268.1 305.1,269.4 306.3,270.0" stroke="#d8240c" stroke-width="4.4" stroke-opacity="1.00"/>
<path d="M174.7,114.2 C176.5,117.0 182.4,126.9 185.7,130.7 C189.0,134.5 191.5,134.4 194.4,137.0 C197.3,139.6 199.7,142.7 203.0,146.4 C206.3,150.1 209.8,154.8 214.0,159.0 C218.2,163.2 225.2,167.2 228.2,171.6 C231.2,176.0 230.0,179.7 232.1,185.7 C234.2,191.7 239.4,204.0 240.8,207.7" stroke="#b01406" stroke-width="3.2" stroke-opacity="1.00"/>
<path d="M240.8,207.7 C243.2,210.6 250.5,220.3 254.9,225.0 C259.4,229.7 264.5,232.5 267.5,236.0 C270.5,239.5 272.1,244.5 273.0,246.2" stroke="#b01406" stroke-width="2.0" stroke-opacity="1.00"/>
<path d="M194.4,137.0 L188.9,144.8" stroke="#b01406" stroke-width="3.1" stroke-opacity="1.00"/>
<path d="M190.0,133.5 L196.5,139.5" stroke="#b01406" stroke-width="6.1" stroke-opacity="1.00"/>
<path d="M267.5,235.2 L281.6,221.9" stroke="#b01406" stroke-width="2.2" stroke-opacity="1.00"/>
<path d="M237.6,104.0 C238.9,105.3 243.4,108.4 245.5,111.8 C247.6,115.2 248.1,120.9 250.2,124.4 C252.3,128.0 254.7,129.9 258.1,133.1 C261.5,136.2 266.7,140.0 270.6,143.3 C274.5,146.6 278.2,149.8 281.6,152.7 C285.0,155.6 288.2,158.0 291.1,160.6 C294.0,163.2 296.0,165.3 298.9,168.4 C301.8,171.5 303.9,176.1 308.3,179.4 C312.7,182.7 321.1,185.1 325.2,188.4 C329.3,191.7 330.4,195.5 333.0,199.4 C335.6,203.3 337.5,208.6 340.9,212.0 C344.3,215.4 351.4,218.6 353.5,219.9" stroke="#b01406" stroke-width="3.4" stroke-opacity="1.00"/>
<path d="M236.5,103.5 L246.0,105.5" stroke="#b01406" stroke-width="2.1" stroke-opacity="1.00"/>
<path d="M248.0,119.0 L252.5,128.0" stroke="#b01406" stroke-width="7.6" stroke-opacity="1.00"/>
<path d="M294.0,161.5 L302.0,171.5" stroke="#b01406" stroke-width="7.1" stroke-opacity="1.00"/>
<path d="M322.0,186.5 L329.0,190.5" stroke="#b01406" stroke-width="5.6" stroke-opacity="1.00"/>
<path d="M289.5,164.5 C288.2,166.5 283.6,171.7 281.6,176.3 C279.6,180.9 278.1,186.5 277.7,192.0 C277.3,197.5 278.1,204.3 279.3,209.3 C280.5,214.3 282.6,219.0 284.8,221.9 C287.0,224.8 290.2,224.0 292.6,226.6 C295.0,229.2 297.1,234.2 298.9,237.6 C300.7,241.0 302.8,245.4 303.6,247.0" stroke="#b01406" stroke-width="3.4" stroke-opacity="1.00"/>
<path d="M280.5,212.0 L285.5,223.5" stroke="#b01406" stroke-width="6.1" stroke-opacity="1.00"/>
<path d="M304.7,221.4 C307.1,223.2 314.4,229.0 318.9,232.4 C323.4,235.8 327.1,240.1 331.5,241.9 C335.9,243.7 341.6,243.0 345.0,243.0 C348.4,243.0 349.2,241.3 351.9,241.9 C354.6,242.5 357.6,244.6 361.3,246.6 C365.0,248.6 371.8,252.5 373.9,253.7" stroke="#b01406" stroke-width="2.3" stroke-opacity="1.00"/>
<path d="M333.0,216.7 C333.8,218.3 335.7,222.7 337.8,226.1 C339.9,229.5 343.2,234.5 345.6,237.1 C348.0,239.7 350.8,241.1 351.9,241.9" stroke="#b01406" stroke-width="2.7" stroke-opacity="1.00"/>
<path d="M334.6,245.0 L333.8,254.4" stroke="#b01406" stroke-width="2.1" stroke-opacity="1.00"/>
<path d="M343.0,240.0 L353.0,243.5" stroke="#b01406" stroke-width="5.6" stroke-opacity="1.00"/>
<path d="M392.8,208.8 C393.9,210.9 397.3,217.2 399.1,221.4 C400.9,225.6 401.2,230.6 403.8,234.0 C406.4,237.4 410.9,238.8 414.8,241.9 C418.7,245.1 425.3,251.1 427.4,252.9" stroke="#b01406" stroke-width="3.6" stroke-opacity="1.00"/>
<path d="M392.5,207.5 L396.0,214.5" stroke="#b01406" stroke-width="6.6" stroke-opacity="1.00"/>
<path d="M377.2,233.4 L383.2,234.6" stroke="#b01406" stroke-width="2.2" stroke-opacity="1.00"/>
<path d="M500.6,198.4 C499.2,198.8 494.3,199.2 492.0,200.5 C489.7,201.8 487.6,203.9 486.8,206.0 C486.0,208.1 486.2,210.9 487.0,213.0 C487.8,215.1 489.5,217.1 491.5,218.5 C493.5,219.9 496.3,220.7 499.0,221.5 C501.7,222.3 506.2,222.9 507.7,223.2" stroke="#b01406" stroke-width="2.8" stroke-opacity="1.00"/>
<path d="M164.7,306.3 C166.6,305.5 172.4,303.0 176.0,301.5 C179.6,300.0 182.6,299.1 186.0,297.5 C189.4,295.9 192.6,293.9 196.6,292.2 C200.6,290.4 204.7,288.5 210.0,287.0 C215.3,285.5 222.4,284.3 228.4,283.3 C234.4,282.3 240.1,281.6 246.0,281.0 C251.9,280.4 260.8,280.0 263.7,279.8" stroke="#b01406" stroke-width="2.7" stroke-opacity="1.00"/>
<path d="M186.0,286.9 C187.2,285.9 190.1,282.8 193.0,281.0 C195.9,279.2 199.8,277.4 203.6,276.3 C207.4,275.2 211.9,274.6 216.0,274.5 C220.1,274.4 225.2,274.4 228.4,275.6 C231.7,276.8 234.3,280.6 235.5,281.6" stroke="#b01406" stroke-width="2.7" stroke-opacity="1.00"/>
<path d="M186.0,297.5 C185.8,296.5 184.5,293.3 184.5,291.5 C184.5,289.7 185.8,287.7 186.0,286.9" stroke="#b01406" stroke-width="1.9" stroke-opacity="1.00"/>
<path d="M286.7,258.6 C287.9,259.5 291.4,262.5 294.0,264.0 C296.6,265.5 298.8,266.8 302.6,267.4 C306.4,268.0 314.4,267.4 316.8,267.4" stroke="#b01406" stroke-width="3.6" stroke-opacity="1.00"/>
<path d="M306.2,255.0 C306.9,256.0 308.9,259.2 310.5,261.0 C312.1,262.8 315.1,265.2 316.0,266.0" stroke="#b01406" stroke-width="2.6" stroke-opacity="1.00"/>
<path d="M290.6,260.7 C292.0,261.7 296.4,264.9 299.0,266.5 C301.6,268.1 305.1,269.4 306.3,270.0" stroke="#b01406" stroke-width="3.1" stroke-opacity="1.00"/>
<path d="M354.3,128.7 C355.2,131.6 357.6,139.7 359.8,146.0 C362.0,152.3 365.2,160.1 367.6,166.4 C370.0,172.7 372.7,178.2 373.9,183.7 C375.1,189.2 374.6,196.8 374.7,199.4" stroke="#8a1402" stroke-width="3.0" stroke-opacity="1.00"/>
<path d="M424.2,201.0 L436.8,213.6" stroke="#8a1402" stroke-width="2.4" stroke-opacity="1.00"/>
</g></g>
<g clip-path="url(#ovA)">
<ellipse cx="204.2" cy="252.5" rx="2.2" ry="5.0" transform="rotate(20 204.2 252.5)" fill="#22c8e8"/>
<ellipse cx="204.4" cy="252.5" rx="1.2" ry="3.6" transform="rotate(20 204.4 252.5)" fill="#d8f040"/>
<ellipse cx="269.1" cy="157.4" rx="3.5" ry="1.5" transform="rotate(-15 269.1 157.4)" fill="#2060e0"/>
<ellipse cx="308.3" cy="156.6" rx="2.0" ry="2.0" transform="rotate(0 308.3 156.6)" fill="#f08020"/>
<ellipse cx="316.2" cy="203.0" rx="1.6" ry="1.6" transform="rotate(0 316.2 203.0)" fill="#2040e0"/>
<ellipse cx="270.0" cy="192.0" rx="3.0" ry="1.5" transform="rotate(-10 270.0 192.0)" fill="#2a70e0"/>
<ellipse cx="411.6" cy="177.4" rx="1.6" ry="1.6" transform="rotate(0 411.6 177.4)" fill="#c04010"/>
<ellipse cx="427.4" cy="215.1" rx="2.0" ry="1.5" transform="rotate(30 427.4 215.1)" fill="#d09020"/>
<ellipse cx="132.0" cy="171.0" rx="1.5" ry="1.5" transform="rotate(0 132.0 171.0)" fill="#60d0c0"/>
<ellipse cx="128.0" cy="184.0" rx="1.5" ry="1.2" transform="rotate(0 128.0 184.0)" fill="#2050e0"/>
<ellipse cx="74.0" cy="205.0" rx="1.5" ry="3.5" transform="rotate(35 74.0 205.0)" fill="#2080e8"/>
<ellipse cx="160.0" cy="143.0" rx="1.3" ry="1.3" transform="rotate(0 160.0 143.0)" fill="#3060e0"/>
<ellipse cx="323.0" cy="140.0" rx="1.5" ry="1.5" transform="rotate(0 323.0 140.0)" fill="#3070e0"/>
<ellipse cx="345.0" cy="116.0" rx="1.5" ry="2.5" transform="rotate(0 345.0 116.0)" fill="#30a0e0"/>
</g>
<g stroke="#858585" stroke-width="0.9" fill="none">
<polyline points="56.5,90.2 56.5,188.5 164.9,342.2 508.8,240.0"/>
<line x1="54.0" y1="90.2" x2="56.5" y2="90.2"/>
<line x1="54.0" y1="114.8" x2="56.5" y2="114.8"/>
<line x1="54.0" y1="139.3" x2="56.5" y2="139.3"/>
<line x1="54.0" y1="163.9" x2="56.5" y2="163.9"/>
<line x1="54.0" y1="188.5" x2="56.5" y2="188.5"/>
<line x1="81.1" y1="227.7" x2="83.6" y2="226.9"/>
<line x1="108.2" y1="266.2" x2="110.7" y2="265.4"/>
<line x1="135.3" y1="304.6" x2="137.8" y2="303.8"/>
<line x1="162.4" y1="343.0" x2="164.9" y2="342.2"/>
<line x1="251.8" y1="316.4" x2="252.0" y2="319.0"/>
<line x1="337.3" y1="291.0" x2="337.5" y2="293.6"/>
<line x1="424.2" y1="265.1" x2="424.4" y2="267.7"/>
<line x1="508.8" y1="240.0" x2="509.0" y2="242.6"/>
</g>
</g>
<g transform="matrix(1.0011675,-0.0017077,-0.0050088,0.9985075,486.44034,349.72056)">
<use href="#baseA"/>
<g clip-path="url(#ovA)"><g fill="none" stroke-linecap="round" stroke-linejoin="round" filter="url(#fwobC)">
<polyline points="186.5,135.0 187.1,135.6 187.6,136.2 188.2,136.9 188.8,137.5 189.3,138.1 189.9,138.8 190.4,139.4 191.0,140.0" stroke="#2048d8" stroke-width="6.9" stroke-opacity="0.70"/>
<polyline points="206.6,150.3 207.3,151.0 208.2,151.9 209.3,152.9 210.5,154.1 211.8,155.4 213.1,156.7 214.4,158.0 215.6,159.2 216.7,160.4 217.9,161.7 219.0,163.1 220.1,164.4 221.3,165.8 222.4,167.1 223.4,168.3 224.5,169.5 225.6,170.6 226.7,171.5 227.8,172.4 229.0,173.3 230.0,174.2 230.9,175.1 231.7,176.0 232.2,177.1 232.5,178.2 232.4,179.4 232.2,180.6 231.9,181.9 231.6,183.2 231.3,184.5 231.2,185.9 231.4,187.3 231.8,188.8 232.4,190.3 233.1,191.9 233.9,193.5 234.8,195.2 235.6,196.8 236.5,198.5 237.3,200.1 238.1,201.7 238.8,203.3 239.5,204.9 240.2,206.5 241.0,208.1 241.8,209.7 242.7,211.3 243.7,212.9 244.8,214.5 245.9,216.2 247.1,217.8 248.4,219.5 249.7,221.1 251.1,222.7 252.5,224.2 253.9,225.7 255.4,227.1 257.0,228.5 258.6,229.8 260.3,231.1 262.0,232.4 263.6,233.6 265.2,234.8 266.7,235.9 268.1,237.0 269.4,238.0 270.7,238.9 272.0,239.9 273.2,240.8 274.4,241.7 275.6,242.6 276.9,243.5 278.2,244.4 279.6,245.3 280.9,246.2 282.3,247.0 283.6,247.9 284.9,248.9 286.1,250.0 287.1,251.2 288.0,252.6 288.9,254.2 289.6,255.9 290.3,257.6 290.9,259.4 291.4,261.0 291.8,262.6 292.2,264.0 292.4,265.3 292.6,266.4 292.6,267.6 292.5,268.6 292.4,269.5 292.3,270.4 292.2,271.0 292.2,271.6" stroke="#2048d8" stroke-width="6.9" stroke-opacity="0.70"/>
<polyline points="253.9,127.3 254.2,128.0 254.6,129.0 255.1,130.1 255.7,131.4 256.3,132.7 257.1,134.0 258.0,135.2 259.0,136.3 260.2,137.2 261.7,137.9 263.3,138.6 265.0,139.3 266.8,140.0 268.5,140.7 270.2,141.6 271.8,142.6 273.3,143.8 274.8,145.2 276.3,146.6 277.8,148.2 279.2,149.7 280.6,151.3 282.0,152.7 283.3,154.1 284.5,155.3 285.7,156.5 286.8,157.6 287.8,158.7 288.9,159.7 289.9,160.8 291.0,161.9 292.2,163.1 293.4,164.3 294.6,165.5 295.8,166.8 297.1,168.0 298.3,169.3 299.6,170.6 301.0,172.0 302.4,173.3 303.9,174.7 305.4,176.1 307.0,177.6 308.6,179.1 310.3,180.5 311.9,182.0 313.6,183.4 315.2,184.8 316.8,186.1 318.5,187.5 320.2,188.8 321.9,190.1 323.6,191.3 325.2,192.6 326.6,193.8 328.0,195.0 329.2,196.2 330.3,197.3 331.2,198.4 332.1,199.5 333.0,200.6 333.8,201.7 334.7,202.8 335.6,203.9 336.6,205.1 337.7,206.4 338.8,207.7 339.9,209.0 341.0,210.2 341.9,211.3 342.7,212.2 343.3,212.9" stroke="#2048d8" stroke-width="6.9" stroke-opacity="0.70"/>
<polyline points="279.4,175.9 279.2,176.8 278.9,178.0 278.5,179.4 278.1,181.0 277.7,182.6 277.3,184.3 277.0,185.8 276.9,187.3 276.8,188.6 276.8,190.0 276.9,191.2 277.0,192.5 277.2,193.8 277.4,195.1 277.8,196.3 278.2,197.6 278.8,198.9 279.5,200.2 280.3,201.4 281.2,202.7 282.1,204.0 283.0,205.3 283.8,206.5 284.6,207.8 285.3,209.1 286.0,210.4 286.6,211.6 287.2,212.9 287.8,214.2 288.5,215.5 289.1,216.7 289.7,218.0 290.3,219.3 291.0,220.5 291.6,221.8 292.2,223.0 292.9,224.3 293.5,225.6 294.2,226.9 294.8,228.2 295.4,229.6 296.0,231.0 296.7,232.4 297.3,233.9 297.9,235.3 298.5,236.8 299.2,238.3 299.9,239.7 300.6,241.1 301.3,242.6 302.1,244.1 302.9,245.5 303.7,247.0 304.5,248.4 305.4,249.8 306.3,251.2 307.4,252.6 308.6,254.1 309.8,255.6 311.2,257.0 312.4,258.4 313.5,259.6 314.5,260.6 315.2,261.4" stroke="#2048d8" stroke-width="7.1" stroke-opacity="0.70"/>
<polyline points="347.1,225.7 347.6,226.5 348.2,227.6 349.0,228.8 349.8,230.2 350.7,231.7 351.7,233.2 352.6,234.6 353.5,235.9 354.4,237.1 355.3,238.2 356.3,239.4 357.3,240.5 358.3,241.6 359.3,242.7 360.2,243.8 361.2,244.8 362.2,245.9 363.3,247.0 364.4,248.1 365.5,249.2 366.5,250.2 367.4,251.1 368.2,251.9 368.8,252.5" stroke="#2048d8" stroke-width="6.9" stroke-opacity="0.70"/>
<polyline points="376.5,189.9 376.7,190.8 376.9,192.1 377.1,193.5 377.3,195.2 377.6,196.9 378.0,198.5 378.5,200.1 379.1,201.4 379.8,202.5 380.6,203.5 381.6,204.4 382.6,205.2 383.6,206.1 384.7,207.0 385.7,208.0 386.7,209.1 387.7,210.4 388.6,211.7 389.6,213.2 390.6,214.7 391.6,216.2 392.6,217.7 393.5,219.2 394.4,220.6 395.3,221.9 396.1,223.3 397.0,224.6 397.8,225.9 398.6,227.1 399.3,228.4 400.1,229.6 400.8,230.8 401.5,232.0 402.3,233.3 403.0,234.6 403.8,235.9 404.4,237.1 405.0,238.1 405.5,239.0 405.9,239.7" stroke="#2048d8" stroke-width="6.9" stroke-opacity="0.70"/>
<polyline points="186.5,135.0 187.1,135.6 187.6,136.2 188.2,136.9 188.8,137.5 189.3,138.1 189.9,138.8 190.4,139.4 191.0,140.0" stroke="#28b8e8" stroke-width="5.5" stroke-opacity="0.95"/>
<polyline points="206.6,150.3 207.3,151.0 208.2,151.9 209.3,152.9 210.5,154.1 211.8,155.4 213.1,156.7 214.4,158.0 215.6,159.2 216.7,160.4 217.9,161.7 219.0,163.1 220.1,164.4 221.3,165.8 222.4,167.1 223.4,168.3 224.5,169.5 225.6,170.6 226.7,171.5 227.8,172.4 229.0,173.3 230.0,174.2 230.9,175.1 231.7,176.0 232.2,177.1 232.5,178.2 232.4,179.4 232.2,180.6 231.9,181.9 231.6,183.2 231.3,184.5 231.2,185.9 231.4,187.3 231.8,188.8 232.4,190.3 233.1,191.9 233.9,193.5 234.8,195.2 235.6,196.8 236.5,198.5 237.3,200.1 238.1,201.7 238.8,203.3 239.5,204.9 240.2,206.5 241.0,208.1 241.8,209.7 242.7,211.3 243.7,212.9 244.8,214.5 245.9,216.2 247.1,217.8 248.4,219.5 249.7,221.1 251.1,222.7 252.5,224.2 253.9,225.7 255.4,227.1 257.0,228.5 258.6,229.8 260.3,231.1 262.0,232.4 263.6,233.6 265.2,234.8 266.7,235.9 268.1,237.0 269.4,238.0 270.7,238.9 272.0,239.9 273.2,240.8 274.4,241.7 275.6,242.6 276.9,243.5 278.2,244.4 279.6,245.3 280.9,246.2 282.3,247.0 283.6,247.9 284.9,248.9 286.1,250.0 287.1,251.2 288.0,252.6 288.9,254.2 289.6,255.9 290.3,257.6 290.9,259.4 291.4,261.0 291.8,262.6 292.2,264.0 292.4,265.3 292.6,266.4 292.6,267.6 292.5,268.6 292.4,269.5 292.3,270.4 292.2,271.0 292.2,271.6" stroke="#28b8e8" stroke-width="5.5" stroke-opacity="0.95"/>
<polyline points="253.9,127.3 254.2,128.0 254.6,129.0 255.1,130.1 255.7,131.4 256.3,132.7 257.1,134.0 258.0,135.2 259.0,136.3 260.2,137.2 261.7,137.9 263.3,138.6 265.0,139.3 266.8,140.0 268.5,140.7 270.2,141.6 271.8,142.6 273.3,143.8 274.8,145.2 276.3,146.6 277.8,148.2 279.2,149.7 280.6,151.3 282.0,152.7 283.3,154.1 284.5,155.3 285.7,156.5 286.8,157.6 287.8,158.7 288.9,159.7 289.9,160.8 291.0,161.9 292.2,163.1 293.4,164.3 294.6,165.5 295.8,166.8 297.1,168.0 298.3,169.3 299.6,170.6 301.0,172.0 302.4,173.3 303.9,174.7 305.4,176.1 307.0,177.6 308.6,179.1 310.3,180.5 311.9,182.0 313.6,183.4 315.2,184.8 316.8,186.1 318.5,187.5 320.2,188.8 321.9,190.1 323.6,191.3 325.2,192.6 326.6,193.8 328.0,195.0 329.2,196.2 330.3,197.3 331.2,198.4 332.1,199.5 333.0,200.6 333.8,201.7 334.7,202.8 335.6,203.9 336.6,205.1 337.7,206.4 338.8,207.7 339.9,209.0 341.0,210.2 341.9,211.3 342.7,212.2 343.3,212.9" stroke="#28b8e8" stroke-width="5.5" stroke-opacity="0.95"/>
<polyline points="279.4,175.9 279.2,176.8 278.9,178.0 278.5,179.4 278.1,181.0 277.7,182.6 277.3,184.3 277.0,185.8 276.9,187.3 276.8,188.6 276.8,190.0 276.9,191.2 277.0,192.5 277.2,193.8 277.4,195.1 277.8,196.3 278.2,197.6 278.8,198.9 279.5,200.2 280.3,201.4 281.2,202.7 282.1,204.0 283.0,205.3 283.8,206.5 284.6,207.8 285.3,209.1 286.0,210.4 286.6,211.6 287.2,212.9 287.8,214.2 288.5,215.5 289.1,216.7 289.7,218.0 290.3,219.3 291.0,220.5 291.6,221.8 292.2,223.0 292.9,224.3 293.5,225.6 294.2,226.9 294.8,228.2 295.4,229.6 296.0,231.0 296.7,232.4 297.3,233.9 297.9,235.3 298.5,236.8 299.2,238.3 299.9,239.7 300.6,241.1 301.3,242.6 302.1,244.1 302.9,245.5 303.7,247.0 304.5,248.4 305.4,249.8 306.3,251.2 307.4,252.6 308.6,254.1 309.8,255.6 311.2,257.0 312.4,258.4 313.5,259.6 314.5,260.6 315.2,261.4" stroke="#28b8e8" stroke-width="5.7" stroke-opacity="0.95"/>
<polyline points="347.1,225.7 347.6,226.5 348.2,227.6 349.0,228.8 349.8,230.2 350.7,231.7 351.7,233.2 352.6,234.6 353.5,235.9 354.4,237.1 355.3,238.2 356.3,239.4 357.3,240.5 358.3,241.6 359.3,242.7 360.2,243.8 361.2,244.8 362.2,245.9 363.3,247.0 364.4,248.1 365.5,249.2 366.5,250.2 367.4,251.1 368.2,251.9 368.8,252.5" stroke="#28b8e8" stroke-width="5.5" stroke-opacity="0.95"/>
<polyline points="376.5,189.9 376.7,190.8 376.9,192.1 377.1,193.5 377.3,195.2 377.6,196.9 378.0,198.5 378.5,200.1 379.1,201.4 379.8,202.5 380.6,203.5 381.6,204.4 382.6,205.2 383.6,206.1 384.7,207.0 385.7,208.0 386.7,209.1 387.7,210.4 388.6,211.7 389.6,213.2 390.6,214.7 391.6,216.2 392.6,217.7 393.5,219.2 394.4,220.6 395.3,221.9 396.1,223.3 397.0,224.6 397.8,225.9 398.6,227.1 399.3,228.4 400.1,229.6 400.8,230.8 401.5,232.0 402.3,233.3 403.0,234.6 403.8,235.9 404.4,237.1 405.0,238.1 405.5,239.0 405.9,239.7" stroke="#28b8e8" stroke-width="5.5" stroke-opacity="0.95"/>
<polyline points="186.5,135.0 187.1,135.6 187.6,136.2 188.2,136.9 188.8,137.5 189.3,138.1 189.9,138.8 190.4,139.4 191.0,140.0" stroke="#7ee87a" stroke-width="4.1" stroke-opacity="1.00"/>
<polyline points="206.6,150.3 207.3,151.0 208.2,151.9 209.3,152.9 210.5,154.1 211.8,155.4 213.1,156.7 214.4,158.0 215.6,159.2 216.7,160.4 217.9,161.7 219.0,163.1 220.1,164.4 221.3,165.8 222.4,167.1 223.4,168.3 224.5,169.5 225.6,170.6 226.7,171.5 227.8,172.4 229.0,173.3 230.0,174.2 230.9,175.1 231.7,176.0 232.2,177.1 232.5,178.2 232.4,179.4 232.2,180.6 231.9,181.9 231.6,183.2 231.3,184.5 231.2,185.9 231.4,187.3 231.8,188.8 232.4,190.3 233.1,191.9 233.9,193.5 234.8,195.2 235.6,196.8 236.5,198.5 237.3,200.1 238.1,201.7 238.8,203.3 239.5,204.9 240.2,206.5 241.0,208.1 241.8,209.7 242.7,211.3 243.7,212.9 244.8,214.5 245.9,216.2 247.1,217.8 248.4,219.5 249.7,221.1 251.1,222.7 252.5,224.2 253.9,225.7 255.4,227.1 257.0,228.5 258.6,229.8 260.3,231.1 262.0,232.4 263.6,233.6 265.2,234.8 266.7,235.9 268.1,237.0 269.4,238.0 270.7,238.9 272.0,239.9 273.2,240.8 274.4,241.7 275.6,242.6 276.9,243.5 278.2,244.4 279.6,245.3 280.9,246.2 282.3,247.0 283.6,247.9 284.9,248.9 286.1,250.0 287.1,251.2 288.0,252.6 288.9,254.2 289.6,255.9 290.3,257.6 290.9,259.4 291.4,261.0 291.8,262.6 292.2,264.0 292.4,265.3 292.6,266.4 292.6,267.6 292.5,268.6 292.4,269.5 292.3,270.4 292.2,271.0 292.2,271.6" stroke="#7ee87a" stroke-width="4.1" stroke-opacity="1.00"/>
<polyline points="253.9,127.3 254.2,128.0 254.6,129.0 255.1,130.1 255.7,131.4 256.3,132.7 257.1,134.0 258.0,135.2 259.0,136.3 260.2,137.2 261.7,137.9 263.3,138.6 265.0,139.3 266.8,140.0 268.5,140.7 270.2,141.6 271.8,142.6 273.3,143.8 274.8,145.2 276.3,146.6 277.8,148.2 279.2,149.7 280.6,151.3 282.0,152.7 283.3,154.1 284.5,155.3 285.7,156.5 286.8,157.6 287.8,158.7 288.9,159.7 289.9,160.8 291.0,161.9 292.2,163.1 293.4,164.3 294.6,165.5 295.8,166.8 297.1,168.0 298.3,169.3 299.6,170.6 301.0,172.0 302.4,173.3 303.9,174.7 305.4,176.1 307.0,177.6 308.6,179.1 310.3,180.5 311.9,182.0 313.6,183.4 315.2,184.8 316.8,186.1 318.5,187.5 320.2,188.8 321.9,190.1 323.6,191.3 325.2,192.6 326.6,193.8 328.0,195.0 329.2,196.2 330.3,197.3 331.2,198.4 332.1,199.5 333.0,200.6 333.8,201.7 334.7,202.8 335.6,203.9 336.6,205.1 337.7,206.4 338.8,207.7 339.9,209.0 341.0,210.2 341.9,211.3 342.7,212.2 343.3,212.9" stroke="#7ee87a" stroke-width="4.1" stroke-opacity="1.00"/>
<polyline points="279.4,175.9 279.2,176.8 278.9,178.0 278.5,179.4 278.1,181.0 277.7,182.6 277.3,184.3 277.0,185.8 276.9,187.3 276.8,188.6 276.8,190.0 276.9,191.2 277.0,192.5 277.2,193.8 277.4,195.1 277.8,196.3 278.2,197.6 278.8,198.9 279.5,200.2 280.3,201.4 281.2,202.7 282.1,204.0 283.0,205.3 283.8,206.5 284.6,207.8 285.3,209.1 286.0,210.4 286.6,211.6 287.2,212.9 287.8,214.2 288.5,215.5 289.1,216.7 289.7,218.0 290.3,219.3 291.0,220.5 291.6,221.8 292.2,223.0 292.9,224.3 293.5,225.6 294.2,226.9 294.8,228.2 295.4,229.6 296.0,231.0 296.7,232.4 297.3,233.9 297.9,235.3 298.5,236.8 299.2,238.3 299.9,239.7 300.6,241.1 301.3,242.6 302.1,244.1 302.9,245.5 303.7,247.0 304.5,248.4 305.4,249.8 306.3,251.2 307.4,252.6 308.6,254.1 309.8,255.6 311.2,257.0 312.4,258.4 313.5,259.6 314.5,260.6 315.2,261.4" stroke="#7ee87a" stroke-width="4.3" stroke-opacity="1.00"/>
<polyline points="347.1,225.7 347.6,226.5 348.2,227.6 349.0,228.8 349.8,230.2 350.7,231.7 351.7,233.2 352.6,234.6 353.5,235.9 354.4,237.1 355.3,238.2 356.3,239.4 357.3,240.5 358.3,241.6 359.3,242.7 360.2,243.8 361.2,244.8 362.2,245.9 363.3,247.0 364.4,248.1 365.5,249.2 366.5,250.2 367.4,251.1 368.2,251.9 368.8,252.5" stroke="#7ee87a" stroke-width="4.1" stroke-opacity="1.00"/>
<polyline points="376.5,189.9 376.7,190.8 376.9,192.1 377.1,193.5 377.3,195.2 377.6,196.9 378.0,198.5 378.5,200.1 379.1,201.4 379.8,202.5 380.6,203.5 381.6,204.4 382.6,205.2 383.6,206.1 384.7,207.0 385.7,208.0 386.7,209.1 387.7,210.4 388.6,211.7 389.6,213.2 390.6,214.7 391.6,216.2 392.6,217.7 393.5,219.2 394.4,220.6 395.3,221.9 396.1,223.3 397.0,224.6 397.8,225.9 398.6,227.1 399.3,228.4 400.1,229.6 400.8,230.8 401.5,232.0 402.3,233.3 403.0,234.6 403.8,235.9 404.4,237.1 405.0,238.1 405.5,239.0 405.9,239.7" stroke="#7ee87a" stroke-width="4.1" stroke-opacity="1.00"/>
<polyline points="186.5,135.0 187.1,135.6 187.6,136.2 188.2,136.9 188.8,137.5 189.3,138.1 189.9,138.8 190.4,139.4 191.0,140.0" stroke="#f4d020" stroke-width="2.9" stroke-opacity="1.00" stroke-dasharray="10 3"/>
<polyline points="206.6,150.3 207.3,151.0 208.2,151.9 209.3,152.9 210.5,154.1 211.8,155.4 213.1,156.7 214.4,158.0 215.6,159.2 216.7,160.4 217.9,161.7 219.0,163.1 220.1,164.4 221.3,165.8 222.4,167.1 223.4,168.3 224.5,169.5 225.6,170.6 226.7,171.5 227.8,172.4 229.0,173.3 230.0,174.2 230.9,175.1 231.7,176.0 232.2,177.1 232.5,178.2 232.4,179.4 232.2,180.6 231.9,181.9 231.6,183.2 231.3,184.5 231.2,185.9 231.4,187.3 231.8,188.8 232.4,190.3 233.1,191.9 233.9,193.5 234.8,195.2 235.6,196.8 236.5,198.5 237.3,200.1 238.1,201.7 238.8,203.3 239.5,204.9 240.2,206.5 241.0,208.1 241.8,209.7 242.7,211.3 243.7,212.9 244.8,214.5 245.9,216.2 247.1,217.8 248.4,219.5 249.7,221.1 251.1,222.7 252.5,224.2 253.9,225.7 255.4,227.1 257.0,228.5 258.6,229.8 260.3,231.1 262.0,232.4 263.6,233.6 265.2,234.8 266.7,235.9 268.1,237.0 269.4,238.0 270.7,238.9 272.0,239.9 273.2,240.8 274.4,241.7 275.6,242.6 276.9,243.5 278.2,244.4 279.6,245.3 280.9,246.2 282.3,247.0 283.6,247.9 284.9,248.9 286.1,250.0 287.1,251.2 288.0,252.6 288.9,254.2 289.6,255.9 290.3,257.6 290.9,259.4 291.4,261.0 291.8,262.6 292.2,264.0 292.4,265.3 292.6,266.4 292.6,267.6 292.5,268.6 292.4,269.5 292.3,270.4 292.2,271.0 292.2,271.6" stroke="#f4d020" stroke-width="2.9" stroke-opacity="1.00" stroke-dasharray="10 3"/>
<polyline points="253.9,127.3 254.2,128.0 254.6,129.0 255.1,130.1 255.7,131.4 256.3,132.7 257.1,134.0 258.0,135.2 259.0,136.3 260.2,137.2 261.7,137.9 263.3,138.6 265.0,139.3 266.8,140.0 268.5,140.7 270.2,141.6 271.8,142.6 273.3,143.8 274.8,145.2 276.3,146.6 277.8,148.2 279.2,149.7 280.6,151.3 282.0,152.7 283.3,154.1 284.5,155.3 285.7,156.5 286.8,157.6 287.8,158.7 288.9,159.7 289.9,160.8 291.0,161.9 292.2,163.1 293.4,164.3 294.6,165.5 295.8,166.8 297.1,168.0 298.3,169.3 299.6,170.6 301.0,172.0 302.4,173.3 303.9,174.7 305.4,176.1 307.0,177.6 308.6,179.1 310.3,180.5 311.9,182.0 313.6,183.4 315.2,184.8 316.8,186.1 318.5,187.5 320.2,188.8 321.9,190.1 323.6,191.3 325.2,192.6 326.6,193.8 328.0,195.0 329.2,196.2 330.3,197.3 331.2,198.4 332.1,199.5 333.0,200.6 333.8,201.7 334.7,202.8 335.6,203.9 336.6,205.1 337.7,206.4 338.8,207.7 339.9,209.0 341.0,210.2 341.9,211.3 342.7,212.2 343.3,212.9" stroke="#f4d020" stroke-width="2.9" stroke-opacity="1.00" stroke-dasharray="10 3"/>
<polyline points="279.4,175.9 279.2,176.8 278.9,178.0 278.5,179.4 278.1,181.0 277.7,182.6 277.3,184.3 277.0,185.8 276.9,187.3 276.8,188.6 276.8,190.0 276.9,191.2 277.0,192.5 277.2,193.8 277.4,195.1 277.8,196.3 278.2,197.6 278.8,198.9 279.5,200.2 280.3,201.4 281.2,202.7 282.1,204.0 283.0,205.3 283.8,206.5 284.6,207.8 285.3,209.1 286.0,210.4 286.6,211.6 287.2,212.9 287.8,214.2 288.5,215.5 289.1,216.7 289.7,218.0 290.3,219.3 291.0,220.5 291.6,221.8 292.2,223.0 292.9,224.3 293.5,225.6 294.2,226.9 294.8,228.2 295.4,229.6 296.0,231.0 296.7,232.4 297.3,233.9 297.9,235.3 298.5,236.8 299.2,238.3 299.9,239.7 300.6,241.1 301.3,242.6 302.1,244.1 302.9,245.5 303.7,247.0 304.5,248.4 305.4,249.8 306.3,251.2 307.4,252.6 308.6,254.1 309.8,255.6 311.2,257.0 312.4,258.4 313.5,259.6 314.5,260.6 315.2,261.4" stroke="#f4d020" stroke-width="3.1" stroke-opacity="1.00" stroke-dasharray="10 3"/>
<polyline points="347.1,225.7 347.6,226.5 348.2,227.6 349.0,228.8 349.8,230.2 350.7,231.7 351.7,233.2 352.6,234.6 353.5,235.9 354.4,237.1 355.3,238.2 356.3,239.4 357.3,240.5 358.3,241.6 359.3,242.7 360.2,243.8 361.2,244.8 362.2,245.9 363.3,247.0 364.4,248.1 365.5,249.2 366.5,250.2 367.4,251.1 368.2,251.9 368.8,252.5" stroke="#f4d020" stroke-width="2.9" stroke-opacity="1.00" stroke-dasharray="10 3"/>
<polyline points="376.5,189.9 376.7,190.8 376.9,192.1 377.1,193.5 377.3,195.2 377.6,196.9 378.0,198.5 378.5,200.1 379.1,201.4 379.8,202.5 380.6,203.5 381.6,204.4 382.6,205.2 383.6,206.1 384.7,207.0 385.7,208.0 386.7,209.1 387.7,210.4 388.6,211.7 389.6,213.2 390.6,214.7 391.6,216.2 392.6,217.7 393.5,219.2 394.4,220.6 395.3,221.9 396.1,223.3 397.0,224.6 397.8,225.9 398.6,227.1 399.3,228.4 400.1,229.6 400.8,230.8 401.5,232.0 402.3,233.3 403.0,234.6 403.8,235.9 404.4,237.1 405.0,238.1 405.5,239.0 405.9,239.7" stroke="#f4d020" stroke-width="2.9" stroke-opacity="1.00" stroke-dasharray="10 3"/>
<polyline points="186.5,135.0 187.1,135.6 187.6,136.2 188.2,136.9 188.8,137.5 189.3,138.1 189.9,138.8 190.4,139.4 191.0,140.0" stroke="#e02410" stroke-width="1.9" stroke-opacity="1.00" stroke-dasharray="7 5"/>
<polyline points="206.6,150.3 207.3,151.0 208.2,151.9 209.3,152.9 210.5,154.1 211.8,155.4 213.1,156.7 214.4,158.0 215.6,159.2 216.7,160.4 217.9,161.7 219.0,163.1 220.1,164.4 221.3,165.8 222.4,167.1 223.4,168.3 224.5,169.5 225.6,170.6 226.7,171.5 227.8,172.4 229.0,173.3 230.0,174.2 230.9,175.1 231.7,176.0 232.2,177.1 232.5,178.2 232.4,179.4 232.2,180.6 231.9,181.9 231.6,183.2 231.3,184.5 231.2,185.9 231.4,187.3 231.8,188.8 232.4,190.3 233.1,191.9 233.9,193.5 234.8,195.2 235.6,196.8 236.5,198.5 237.3,200.1 238.1,201.7 238.8,203.3 239.5,204.9 240.2,206.5 241.0,208.1 241.8,209.7 242.7,211.3 243.7,212.9 244.8,214.5 245.9,216.2 247.1,217.8 248.4,219.5 249.7,221.1 251.1,222.7 252.5,224.2 253.9,225.7 255.4,227.1 257.0,228.5 258.6,229.8 260.3,231.1 262.0,232.4 263.6,233.6 265.2,234.8 266.7,235.9 268.1,237.0 269.4,238.0 270.7,238.9 272.0,239.9 273.2,240.8 274.4,241.7 275.6,242.6 276.9,243.5 278.2,244.4 279.6,245.3 280.9,246.2 282.3,247.0 283.6,247.9 284.9,248.9 286.1,250.0 287.1,251.2 288.0,252.6 288.9,254.2 289.6,255.9 290.3,257.6 290.9,259.4 291.4,261.0 291.8,262.6 292.2,264.0 292.4,265.3 292.6,266.4 292.6,267.6 292.5,268.6 292.4,269.5 292.3,270.4 292.2,271.0 292.2,271.6" stroke="#e02410" stroke-width="1.9" stroke-opacity="1.00" stroke-dasharray="7 5"/>
<polyline points="253.9,127.3 254.2,128.0 254.6,129.0 255.1,130.1 255.7,131.4 256.3,132.7 257.1,134.0 258.0,135.2 259.0,136.3 260.2,137.2 261.7,137.9 263.3,138.6 265.0,139.3 266.8,140.0 268.5,140.7 270.2,141.6 271.8,142.6 273.3,143.8 274.8,145.2 276.3,146.6 277.8,148.2 279.2,149.7 280.6,151.3 282.0,152.7 283.3,154.1 284.5,155.3 285.7,156.5 286.8,157.6 287.8,158.7 288.9,159.7 289.9,160.8 291.0,161.9 292.2,163.1 293.4,164.3 294.6,165.5 295.8,166.8 297.1,168.0 298.3,169.3 299.6,170.6 301.0,172.0 302.4,173.3 303.9,174.7 305.4,176.1 307.0,177.6 308.6,179.1 310.3,180.5 311.9,182.0 313.6,183.4 315.2,184.8 316.8,186.1 318.5,187.5 320.2,188.8 321.9,190.1 323.6,191.3 325.2,192.6 326.6,193.8 328.0,195.0 329.2,196.2 330.3,197.3 331.2,198.4 332.1,199.5 333.0,200.6 333.8,201.7 334.7,202.8 335.6,203.9 336.6,205.1 337.7,206.4 338.8,207.7 339.9,209.0 341.0,210.2 341.9,211.3 342.7,212.2 343.3,212.9" stroke="#e02410" stroke-width="1.9" stroke-opacity="1.00" stroke-dasharray="7 5"/>
<polyline points="279.4,175.9 279.2,176.8 278.9,178.0 278.5,179.4 278.1,181.0 277.7,182.6 277.3,184.3 277.0,185.8 276.9,187.3 276.8,188.6 276.8,190.0 276.9,191.2 277.0,192.5 277.2,193.8 277.4,195.1 277.8,196.3 278.2,197.6 278.8,198.9 279.5,200.2 280.3,201.4 281.2,202.7 282.1,204.0 283.0,205.3 283.8,206.5 284.6,207.8 285.3,209.1 286.0,210.4 286.6,211.6 287.2,212.9 287.8,214.2 288.5,215.5 289.1,216.7 289.7,218.0 290.3,219.3 291.0,220.5 291.6,221.8 292.2,223.0 292.9,224.3 293.5,225.6 294.2,226.9 294.8,228.2 295.4,229.6 296.0,231.0 296.7,232.4 297.3,233.9 297.9,235.3 298.5,236.8 299.2,238.3 299.9,239.7 300.6,241.1 301.3,242.6 302.1,244.1 302.9,245.5 303.7,247.0 304.5,248.4 305.4,249.8 306.3,251.2 307.4,252.6 308.6,254.1 309.8,255.6 311.2,257.0 312.4,258.4 313.5,259.6 314.5,260.6 315.2,261.4" stroke="#e02410" stroke-width="2.1" stroke-opacity="1.00" stroke-dasharray="7 5"/>
<polyline points="347.1,225.7 347.6,226.5 348.2,227.6 349.0,228.8 349.8,230.2 350.7,231.7 351.7,233.2 352.6,234.6 353.5,235.9 354.4,237.1 355.3,238.2 356.3,239.4 357.3,240.5 358.3,241.6 359.3,242.7 360.2,243.8 361.2,244.8 362.2,245.9 363.3,247.0 364.4,248.1 365.5,249.2 366.5,250.2 367.4,251.1 368.2,251.9 368.8,252.5" stroke="#e02410" stroke-width="1.9" stroke-opacity="1.00" stroke-dasharray="7 5"/>
<polyline points="376.5,189.9 376.7,190.8 376.9,192.1 377.1,193.5 377.3,195.2 377.6,196.9 378.0,198.5 378.5,200.1 379.1,201.4 379.8,202.5 380.6,203.5 381.6,204.4 382.6,205.2 383.6,206.1 384.7,207.0 385.7,208.0 386.7,209.1 387.7,210.4 388.6,211.7 389.6,213.2 390.6,214.7 391.6,216.2 392.6,217.7 393.5,219.2 394.4,220.6 395.3,221.9 396.1,223.3 397.0,224.6 397.8,225.9 398.6,227.1 399.3,228.4 400.1,229.6 400.8,230.8 401.5,232.0 402.3,233.3 403.0,234.6 403.8,235.9 404.4,237.1 405.0,238.1 405.5,239.0 405.9,239.7" stroke="#e02410" stroke-width="1.9" stroke-opacity="1.00" stroke-dasharray="7 5"/>
<polyline points="363.7,156.7 364.3,158.3 365.1,160.5 366.1,163.2 367.2,166.1 368.4,169.1 369.5,172.1 370.5,174.8 371.4,177.1 372.2,179.2 373.0,181.1 373.7,183.0 374.4,184.8 375.1,186.4 375.6,187.8 376.1,189.0 376.5,189.9" stroke="#5a3a18" stroke-width="1.6" stroke-opacity="0.90"/>
<circle cx="322.0" cy="214.0" r="1.8" fill="#2a60e0" stroke="none"/>
<circle cx="330.0" cy="221.0" r="1.6" fill="#2a60e0" stroke="none"/>
<circle cx="317.0" cy="228.0" r="1.8" fill="#2040d8" stroke="none"/>
<circle cx="337.0" cy="230.0" r="1.5" fill="#30a0e8" stroke="none"/>
<circle cx="262.0" cy="196.0" r="1.5" fill="#40c0e0" stroke="none"/>
<circle cx="310.0" cy="200.0" r="2.0" fill="#50d0d0" stroke="none"/>
<circle cx="345.0" cy="240.0" r="2.0" fill="#40d0c0" stroke="none"/>
<circle cx="352.0" cy="217.0" r="1.5" fill="#30b0e0" stroke="none"/>
<circle cx="300.0" cy="190.0" r="1.3" fill="#40d0e0" stroke="none"/>
<circle cx="268.0" cy="214.0" r="1.4" fill="#2a60e0" stroke="none"/>
<circle cx="305.0" cy="246.0" r="1.4" fill="#2a60e0" stroke="none"/>
</g></g>
<g stroke="#858585" stroke-width="0.9" fill="none">
<polyline points="56.5,90.2 56.5,188.5 164.9,342.2 508.8,240.0"/>
<line x1="54.0" y1="90.2" x2="56.5" y2="90.2"/>
<line x1="54.0" y1="114.8" x2="56.5" y2="114.8"/>
<line x1="54.0" y1="139.3" x2="56.5" y2="139.3"/>
<line x1="54.0" y1="163.9" x2="56.5" y2="163.9"/>
<line x1="54.0" y1="188.5" x2="56.5" y2="188.5"/>
<line x1="81.1" y1="227.7" x2="83.6" y2="226.9"/>
<line x1="108.2" y1="266.2" x2="110.7" y2="265.4"/>
<line x1="135.3" y1="304.6" x2="137.8" y2="303.8"/>
<line x1="162.4" y1="343.0" x2="164.9" y2="342.2"/>
<line x1="251.8" y1="316.4" x2="252.0" y2="319.0"/>
<line x1="337.3" y1="291.0" x2="337.5" y2="293.6"/>
<line x1="424.2" y1="265.1" x2="424.4" y2="267.7"/>
<line x1="508.8" y1="240.0" x2="509.0" y2="242.6"/>
</g>
</g>
<g>
<defs>
<clipPath id="E_sl"><polygon points="56.3,832.7 87.6,827.3 400.0,797.0 512.7,889.4 172.4,990.0"/></clipPath>
<clipPath id="E_cr"><polygon points="342.4,757.4 420.6,744.8 403.9,822.1 331.6,821.5"/></clipPath>
<clipPath id="E_ib"><polygon points="300.3,726.5 342.4,757.4 331.6,821.5 292.5,785.2"/></clipPath>
<clipPath id="E_cl"><polygon points="88.4,799.0 342.4,757.4 331.6,821.5 86.6,877.6"/><polygon points="86.6,877.6 85.9,898.1 101.8,896.7"/></clipPath>
<clipPath id="E_if"><polygon points="342.4,757.4 453.8,842.2 436.1,914.0 331.6,821.5"/><polygon points="436.1,914.0 427.6,936.5 411.5,920.8"/></clipPath>
<g id="E_cb"><path d="M88.4,799.0 L420.6,744.8 L420.4,745.8 L88.4,800.3Z" fill="#838383"/><path d="M88.4,799.9 L420.4,745.5 L420.2,746.5 L88.3,801.2Z" fill="#484848"/><path d="M88.4,800.8 L420.3,746.2 L420.1,747.2 L88.3,802.1Z" fill="#9e9e9e"/><path d="M88.3,801.7 L420.1,746.9 L419.9,747.9 L88.3,803.0Z" fill="#cacaca"/><path d="M88.3,802.6 L420.0,747.6 L419.8,748.6 L88.3,803.9Z" fill="#7a7a7a"/><path d="M88.3,803.5 L419.8,748.3 L419.6,749.3 L88.3,804.8Z" fill="#252525"/><path d="M88.3,804.4 L419.7,749.0 L419.5,750.0 L88.2,805.7Z" fill="#9d9d9d"/><path d="M88.2,805.3 L419.5,749.7 L419.3,750.7 L88.2,806.6Z" fill="#c2c2c2"/><path d="M88.2,806.2 L419.4,750.4 L419.2,751.4 L88.2,807.5Z" fill="#818181"/><path d="M88.2,807.1 L419.2,751.1 L419.0,752.1 L88.2,808.4Z" fill="#6f6f6f"/><path d="M88.2,808.0 L419.1,751.8 L418.9,752.8 L88.1,809.3Z" fill="#9e9e9e"/><path d="M88.2,808.9 L418.9,752.5 L418.7,753.5 L88.1,810.2Z" fill="#909090"/><path d="M88.1,809.8 L418.8,753.2 L418.6,754.2 L88.1,811.1Z" fill="#737373"/><path d="M88.1,810.7 L418.6,753.9 L418.4,754.9 L88.1,812.0Z" fill="#9c9c9c"/><path d="M88.1,811.6 L418.5,754.6 L418.3,755.7 L88.0,812.9Z" fill="#a8a8a8"/><path d="M88.1,812.5 L418.3,755.3 L418.1,756.4 L88.0,813.8Z" fill="#898989"/><path d="M88.0,813.4 L418.2,756.0 L418.0,757.1 L88.0,814.7Z" fill="#6a6a6a"/><path d="M88.0,814.3 L418.0,756.7 L417.8,757.8 L88.0,815.6Z" fill="#858585"/><path d="M88.0,815.2 L417.9,757.4 L417.6,758.5 L88.0,816.5Z" fill="#a2a2a2"/><path d="M88.0,816.1 L417.7,758.2 L417.5,759.2 L87.9,817.4Z" fill="#adadad"/><path d="M87.9,817.0 L417.6,758.9 L417.3,759.9 L87.9,818.3Z" fill="#848484"/><path d="M87.9,817.9 L417.4,759.6 L417.2,760.6 L87.9,819.2Z" fill="#474747"/><path d="M87.9,818.8 L417.3,760.3 L417.0,761.3 L87.9,820.1Z" fill="#929292"/><path d="M87.9,819.7 L417.1,761.0 L416.9,762.0 L87.8,821.0Z" fill="#bebebe"/><path d="M87.9,820.6 L417.0,761.7 L416.7,762.7 L87.8,821.9Z" fill="#939393"/><path d="M87.8,821.5 L416.8,762.4 L416.6,763.4 L87.8,822.8Z" fill="#5c5c5c"/><path d="M87.8,822.4 L416.7,763.1 L416.4,764.1 L87.8,823.7Z" fill="#909090"/><path d="M87.8,823.3 L416.5,763.8 L416.3,764.8 L87.8,824.6Z" fill="#9d9d9d"/><path d="M87.8,824.2 L416.3,764.5 L416.1,765.5 L87.7,825.5Z" fill="#8a8a8a"/><path d="M87.7,825.1 L416.2,765.2 L416.0,766.2 L87.7,826.4Z" fill="#939393"/><path d="M87.7,826.0 L416.0,765.9 L415.8,766.9 L87.7,827.3Z" fill="#a3a3a3"/><path d="M87.7,826.9 L415.9,766.6 L415.7,767.6 L87.7,828.2Z" fill="#848484"/><path d="M87.7,827.8 L415.7,767.3 L415.5,768.3 L87.6,829.1Z" fill="#5d5d5d"/><path d="M87.7,828.7 L415.6,768.0 L415.4,769.0 L87.6,830.0Z" fill="#959595"/><path d="M87.6,829.6 L415.4,768.7 L415.2,769.7 L87.6,830.9Z" fill="#b5b5b5"/><path d="M87.6,830.5 L415.3,769.4 L415.1,770.4 L87.6,831.8Z" fill="#969696"/><path d="M87.6,831.4 L415.1,770.1 L414.9,771.1 L87.5,832.7Z" fill="#606060"/><path d="M87.6,832.3 L415.0,770.8 L414.8,771.8 L87.5,833.6Z" fill="#747474"/><path d="M87.5,833.2 L414.8,771.5 L414.6,772.5 L87.5,834.5Z" fill="#a2a2a2"/><path d="M87.5,834.1 L414.7,772.2 L414.5,773.2 L87.5,835.4Z" fill="#a8a8a8"/><path d="M87.5,835.0 L414.5,772.9 L414.3,773.9 L87.5,836.3Z" fill="#888888"/><path d="M87.5,835.9 L414.4,773.6 L414.2,774.6 L87.4,837.2Z" fill="#747474"/><path d="M87.4,836.8 L414.2,774.3 L414.0,775.3 L87.4,838.1Z" fill="#929292"/><path d="M87.4,837.7 L414.1,775.0 L413.9,776.0 L87.4,839.0Z" fill="#999999"/><path d="M87.4,838.6 L413.9,775.7 L413.7,776.7 L87.4,839.9Z" fill="#8f8f8f"/><path d="M87.4,839.5 L413.8,776.4 L413.5,777.4 L87.3,840.8Z" fill="#8d8d8d"/><path d="M87.4,840.4 L413.6,777.1 L413.4,778.1 L87.3,841.7Z" fill="#989898"/><path d="M87.3,841.3 L413.5,777.8 L413.2,778.8 L87.3,842.6Z" fill="#989898"/><path d="M87.3,842.2 L413.3,778.5 L413.1,779.5 L87.3,843.5Z" fill="#7e7e7e"/><path d="M87.3,843.1 L413.2,779.2 L412.9,780.2 L87.3,844.4Z" fill="#6d6d6d"/><path d="M87.3,844.0 L413.0,779.9 L412.8,780.9 L87.2,845.3Z" fill="#9d9d9d"/><path d="M87.2,844.9 L412.9,780.6 L412.6,781.7 L87.2,846.2Z" fill="#b8b8b8"/><path d="M87.2,845.8 L412.7,781.3 L412.5,782.4 L87.2,847.1Z" fill="#818181"/><path d="M87.2,846.7 L412.6,782.0 L412.3,783.1 L87.2,848.0Z" fill="#464646"/><path d="M87.2,847.6 L412.4,782.7 L412.2,783.8 L87.1,848.9Z" fill="#9c9c9c"/><path d="M87.2,848.5 L412.2,783.5 L412.0,784.5 L87.1,849.8Z" fill="#b0b0b0"/><path d="M87.1,849.5 L412.1,784.2 L411.9,785.2 L87.1,850.7Z" fill="#6e6e6e"/><path d="M87.1,850.4 L411.9,784.9 L411.7,785.9 L87.1,851.6Z" fill="#808080"/><path d="M87.1,851.3 L411.8,785.6 L411.6,786.6 L87.0,852.6Z" fill="#b7b7b7"/><path d="M87.1,852.2 L411.6,786.3 L411.4,787.3 L87.0,853.5Z" fill="#8f8f8f"/><path d="M87.0,853.1 L411.5,787.0 L411.3,788.0 L87.0,854.4Z" fill="#313131"/><path d="M87.0,854.0 L411.3,787.7 L411.1,788.7 L87.0,855.3Z" fill="#979797"/><path d="M87.0,854.9 L411.2,788.4 L411.0,789.4 L87.0,856.2Z" fill="#d1d1d1"/><path d="M87.0,855.8 L411.0,789.1 L410.8,790.1 L86.9,857.1Z" fill="#8f8f8f"/><path d="M86.9,856.7 L410.9,789.8 L410.7,790.8 L86.9,858.0Z" fill="#333333"/><path d="M86.9,857.6 L410.7,790.5 L410.5,791.5 L86.9,858.9Z" fill="#878787"/><path d="M86.9,858.5 L410.6,791.2 L410.4,792.2 L86.9,859.8Z" fill="#b1b1b1"/><path d="M86.9,859.4 L410.4,791.9 L410.2,792.9 L86.8,860.7Z" fill="#a2a2a2"/><path d="M86.9,860.3 L410.3,792.6 L410.1,793.6 L86.8,861.6Z" fill="#828282"/><path d="M86.8,861.2 L410.1,793.3 L409.9,794.3 L86.8,862.5Z" fill="#707070"/><path d="M86.8,862.1 L410.0,794.0 L409.8,795.0 L86.8,863.4Z" fill="#919191"/><path d="M86.8,863.0 L409.8,794.7 L409.6,795.7 L86.8,864.3Z" fill="#9d9d9d"/><path d="M86.8,863.9 L409.7,795.4 L409.5,796.4 L86.7,865.2Z" fill="#8f8f8f"/><path d="M86.7,864.8 L409.5,796.1 L409.3,797.1 L86.7,866.1Z" fill="#8e8e8e"/><path d="M86.7,865.7 L409.4,796.8 L409.1,797.8 L86.7,867.0Z" fill="#a0a0a0"/><path d="M86.7,866.6 L409.2,797.5 L409.0,798.5 L86.7,867.9Z" fill="#8e8e8e"/><path d="M86.7,867.5 L409.1,798.2 L408.8,799.2 L86.6,868.8Z" fill="#5b5b5b"/><path d="M86.7,868.4 L408.9,798.9 L408.7,799.9 L86.6,869.7Z" fill="#959595"/><path d="M86.6,869.3 L408.8,799.6 L408.5,800.6 L86.6,870.6Z" fill="#b8b8b8"/><path d="M86.6,870.2 L408.6,800.3 L408.4,801.3 L86.6,871.5Z" fill="#8d8d8d"/><path d="M86.6,871.1 L408.5,801.0 L408.2,802.0 L86.5,872.4Z" fill="#565656"/><path d="M86.6,872.0 L408.3,801.7 L408.1,802.7 L86.5,873.3Z" fill="#939393"/><path d="M86.5,872.9 L408.2,802.4 L407.9,803.4 L86.5,874.2Z" fill="#adadad"/><path d="M86.5,873.8 L408.0,803.1 L407.8,804.1 L86.5,875.1Z" fill="#8e8e8e"/><path d="M86.5,874.7 L407.8,803.8 L407.6,804.8 L86.5,876.0Z" fill="#666666"/><path d="M86.5,875.6 L407.7,804.5 L407.5,805.5 L86.4,876.9Z" fill="#959595"/><path d="M86.4,876.5 L407.5,805.2 L407.3,806.2 L86.4,877.8Z" fill="#adadad"/><path d="M86.4,877.4 L407.4,805.9 L407.2,806.9 L86.4,878.7Z" fill="#8a8a8a"/><path d="M86.4,878.3 L407.2,806.6 L407.0,807.7 L86.4,879.6Z" fill="#565656"/><path d="M86.4,879.2 L407.1,807.3 L406.9,808.4 L86.3,880.5Z" fill="#989898"/><path d="M86.4,880.1 L406.9,808.0 L406.7,809.1 L86.3,881.4Z" fill="#b7b7b7"/><path d="M86.3,881.0 L406.8,808.7 L406.6,809.8 L86.3,882.3Z" fill="#828282"/><path d="M86.3,881.9 L406.6,809.5 L406.4,810.5 L86.3,883.2Z" fill="#616161"/><path d="M86.3,882.8 L406.5,810.2 L406.3,811.2 L86.3,884.1Z" fill="#a4a4a4"/><path d="M86.3,883.7 L406.3,810.9 L406.1,811.9 L86.2,885.0Z" fill="#999999"/><path d="M86.2,884.6 L406.2,811.6 L406.0,812.6 L86.2,885.9Z" fill="#535353"/><path d="M86.2,885.5 L406.0,812.3 L405.8,813.3 L86.2,886.8Z" fill="#979797"/><path d="M86.2,886.4 L405.9,813.0 L405.7,814.0 L86.2,887.7Z" fill="#cbcbcb"/><path d="M86.2,887.3 L405.7,813.7 L405.5,814.7 L86.1,888.6Z" fill="#828282"/><path d="M86.2,888.2 L405.6,814.4 L405.4,815.4 L86.1,889.5Z" fill="#232323"/><path d="M86.1,889.1 L405.4,815.1 L405.2,816.1 L86.1,890.4Z" fill="#909090"/><path d="M86.1,890.0 L405.3,815.8 L405.0,816.8 L86.1,891.3Z" fill="#c1c1c1"/><path d="M86.1,890.9 L405.1,816.5 L404.9,817.5 L86.0,892.2Z" fill="#a7a7a7"/><path d="M86.1,891.8 L405.0,817.2 L404.7,818.2 L86.0,893.1Z" fill="#717171"/><path d="M86.0,892.7 L404.8,817.9 L404.6,818.9 L86.0,894.0Z" fill="#515151"/><path d="M86.0,893.6 L404.7,818.6 L404.4,819.6 L86.0,894.9Z" fill="#929292"/><path d="M86.0,894.5 L404.5,819.3 L404.3,820.3 L86.0,895.8Z" fill="#b6b6b6"/><path d="M86.0,895.4 L404.4,820.0 L404.1,821.0 L85.9,896.7Z" fill="#969696"/><path d="M85.9,896.3 L404.2,820.7 L404.0,821.7 L85.9,897.6Z" fill="#686868"/><path d="M85.9,897.2 L404.1,821.4 L403.9,822.1 L85.9,898.1Z" fill="#919191"/></g>
<g id="E_ibd"><path d="M300.3,726.5 L453.8,842.2 L453.5,843.4 L300.2,727.5Z" fill="#838383"/><path d="M300.2,727.2 L453.6,843.1 L453.2,844.3 L300.1,728.2Z" fill="#484848"/><path d="M300.1,727.9 L453.3,843.9 L453.0,845.1 L300.0,728.9Z" fill="#9e9e9e"/><path d="M300.0,728.6 L453.1,844.8 L452.7,846.0 L299.9,729.5Z" fill="#cacaca"/><path d="M299.9,729.2 L452.8,845.6 L452.5,846.9 L299.8,730.2Z" fill="#7a7a7a"/><path d="M299.8,729.9 L452.6,846.5 L452.3,847.7 L299.7,730.9Z" fill="#252525"/><path d="M299.8,730.6 L452.4,847.3 L452.0,848.6 L299.6,731.6Z" fill="#9d9d9d"/><path d="M299.7,731.3 L452.1,848.2 L451.8,849.4 L299.5,732.3Z" fill="#c2c2c2"/><path d="M299.6,732.0 L451.9,849.1 L451.6,850.3 L299.4,733.0Z" fill="#818181"/><path d="M299.5,732.7 L451.7,849.9 L451.3,851.1 L299.4,733.6Z" fill="#6f6f6f"/><path d="M299.4,733.3 L451.4,850.8 L451.1,852.0 L299.3,734.3Z" fill="#9e9e9e"/><path d="M299.3,734.0 L451.2,851.6 L450.8,852.9 L299.2,735.0Z" fill="#909090"/><path d="M299.2,734.7 L450.9,852.5 L450.6,853.7 L299.1,735.7Z" fill="#737373"/><path d="M299.1,735.4 L450.7,853.3 L450.4,854.6 L299.0,736.4Z" fill="#9c9c9c"/><path d="M299.0,736.1 L450.5,854.2 L450.1,855.4 L298.9,737.1Z" fill="#a8a8a8"/><path d="M298.9,736.8 L450.2,855.1 L449.9,856.3 L298.8,737.7Z" fill="#898989"/><path d="M298.8,737.4 L450.0,855.9 L449.6,857.2 L298.7,738.4Z" fill="#6a6a6a"/><path d="M298.8,738.1 L449.8,856.8 L449.4,858.0 L298.6,739.1Z" fill="#858585"/><path d="M298.7,738.8 L449.5,857.6 L449.2,858.9 L298.5,739.8Z" fill="#a2a2a2"/><path d="M298.6,739.5 L449.3,858.5 L448.9,859.7 L298.4,740.5Z" fill="#adadad"/><path d="M298.5,740.2 L449.0,859.3 L448.7,860.6 L298.4,741.2Z" fill="#848484"/><path d="M298.4,740.9 L448.8,860.2 L448.5,861.4 L298.3,741.8Z" fill="#474747"/><path d="M298.3,741.5 L448.6,861.1 L448.2,862.3 L298.2,742.5Z" fill="#929292"/><path d="M298.2,742.2 L448.3,861.9 L448.0,863.2 L298.1,743.2Z" fill="#bebebe"/><path d="M298.1,742.9 L448.1,862.8 L447.7,864.0 L298.0,743.9Z" fill="#939393"/><path d="M298.0,743.6 L447.8,863.6 L447.5,864.9 L297.9,744.6Z" fill="#5c5c5c"/><path d="M297.9,744.3 L447.6,864.5 L447.3,865.7 L297.8,745.3Z" fill="#909090"/><path d="M297.8,745.0 L447.4,865.3 L447.0,866.6 L297.7,745.9Z" fill="#9d9d9d"/><path d="M297.8,745.6 L447.1,866.2 L446.8,867.4 L297.6,746.6Z" fill="#8a8a8a"/><path d="M297.7,746.3 L446.9,867.1 L446.5,868.3 L297.5,747.3Z" fill="#939393"/><path d="M297.6,747.0 L446.7,867.9 L446.3,869.2 L297.4,748.0Z" fill="#a3a3a3"/><path d="M297.5,747.7 L446.4,868.8 L446.1,870.0 L297.4,748.7Z" fill="#848484"/><path d="M297.4,748.4 L446.2,869.6 L445.8,870.9 L297.3,749.4Z" fill="#5d5d5d"/><path d="M297.3,749.1 L445.9,870.5 L445.6,871.7 L297.2,750.0Z" fill="#959595"/><path d="M297.2,749.7 L445.7,871.3 L445.4,872.6 L297.1,750.7Z" fill="#b5b5b5"/><path d="M297.1,750.4 L445.5,872.2 L445.1,873.4 L297.0,751.4Z" fill="#969696"/><path d="M297.0,751.1 L445.2,873.1 L444.9,874.3 L296.9,752.1Z" fill="#606060"/><path d="M296.9,751.8 L445.0,873.9 L444.6,875.2 L296.8,752.8Z" fill="#747474"/><path d="M296.8,752.5 L444.7,874.8 L444.4,876.0 L296.7,753.5Z" fill="#a2a2a2"/><path d="M296.8,753.2 L444.5,875.6 L444.2,876.9 L296.6,754.1Z" fill="#a8a8a8"/><path d="M296.7,753.8 L444.3,876.5 L443.9,877.7 L296.5,754.8Z" fill="#888888"/><path d="M296.6,754.5 L444.0,877.3 L443.7,878.6 L296.4,755.5Z" fill="#747474"/><path d="M296.5,755.2 L443.8,878.2 L443.5,879.4 L296.4,756.2Z" fill="#929292"/><path d="M296.4,755.9 L443.6,879.1 L443.2,880.3 L296.3,756.9Z" fill="#999999"/><path d="M296.3,756.6 L443.3,879.9 L443.0,881.2 L296.2,757.6Z" fill="#8f8f8f"/><path d="M296.2,757.3 L443.1,880.8 L442.7,882.0 L296.1,758.2Z" fill="#8d8d8d"/><path d="M296.1,757.9 L442.8,881.6 L442.5,882.9 L296.0,758.9Z" fill="#989898"/><path d="M296.0,758.6 L442.6,882.5 L442.3,883.7 L295.9,759.6Z" fill="#989898"/><path d="M295.9,759.3 L442.4,883.3 L442.0,884.6 L295.8,760.3Z" fill="#7e7e7e"/><path d="M295.8,760.0 L442.1,884.2 L441.8,885.4 L295.7,761.0Z" fill="#6d6d6d"/><path d="M295.8,760.7 L441.9,885.1 L441.5,886.3 L295.6,761.7Z" fill="#9d9d9d"/><path d="M295.7,761.4 L441.7,885.9 L441.3,887.2 L295.5,762.3Z" fill="#b8b8b8"/><path d="M295.6,762.0 L441.4,886.8 L441.1,888.0 L295.4,763.0Z" fill="#818181"/><path d="M295.5,762.7 L441.2,887.6 L440.8,888.9 L295.4,763.7Z" fill="#464646"/><path d="M295.4,763.4 L440.9,888.5 L440.6,889.7 L295.3,764.4Z" fill="#9c9c9c"/><path d="M295.3,764.1 L440.7,889.4 L440.4,890.6 L295.2,765.1Z" fill="#b0b0b0"/><path d="M295.2,764.8 L440.5,890.2 L440.1,891.4 L295.1,765.8Z" fill="#6e6e6e"/><path d="M295.1,765.5 L440.2,891.1 L439.9,892.3 L295.0,766.5Z" fill="#808080"/><path d="M295.0,766.2 L440.0,891.9 L439.6,893.2 L294.9,767.1Z" fill="#b7b7b7"/><path d="M294.9,766.8 L439.7,892.8 L439.4,894.0 L294.8,767.8Z" fill="#8f8f8f"/><path d="M294.8,767.5 L439.5,893.6 L439.2,894.9 L294.7,768.5Z" fill="#313131"/><path d="M294.8,768.2 L439.3,894.5 L438.9,895.7 L294.6,769.2Z" fill="#979797"/><path d="M294.7,768.9 L439.0,895.4 L438.7,896.6 L294.5,769.9Z" fill="#d1d1d1"/><path d="M294.6,769.6 L438.8,896.2 L438.5,897.4 L294.4,770.6Z" fill="#8f8f8f"/><path d="M294.5,770.3 L438.6,897.1 L438.2,898.3 L294.4,771.2Z" fill="#333333"/><path d="M294.4,770.9 L438.3,897.9 L438.0,899.2 L294.3,771.9Z" fill="#878787"/><path d="M294.3,771.6 L438.1,898.8 L437.7,900.0 L294.2,772.6Z" fill="#b1b1b1"/><path d="M294.2,772.3 L437.8,899.6 L437.5,900.9 L294.1,773.3Z" fill="#a2a2a2"/><path d="M294.1,773.0 L437.6,900.5 L437.3,901.7 L294.0,774.0Z" fill="#828282"/><path d="M294.0,773.7 L437.4,901.4 L437.0,902.6 L293.9,774.7Z" fill="#707070"/><path d="M293.9,774.4 L437.1,902.2 L436.8,903.4 L293.8,775.3Z" fill="#919191"/><path d="M293.8,775.0 L436.9,903.1 L436.5,904.3 L293.7,776.0Z" fill="#9d9d9d"/><path d="M293.8,775.7 L436.7,903.9 L436.3,905.2 L293.6,776.7Z" fill="#8f8f8f"/><path d="M293.7,776.4 L436.4,904.8 L436.1,906.0 L293.5,777.4Z" fill="#8e8e8e"/><path d="M293.6,777.1 L436.2,905.6 L435.8,906.9 L293.4,778.1Z" fill="#a0a0a0"/><path d="M293.5,777.8 L435.9,906.5 L435.6,907.7 L293.4,778.8Z" fill="#8e8e8e"/><path d="M293.4,778.5 L435.7,907.4 L435.4,908.6 L293.3,779.4Z" fill="#5b5b5b"/><path d="M293.3,779.1 L435.5,908.2 L435.1,909.4 L293.2,780.1Z" fill="#959595"/><path d="M293.2,779.8 L435.2,909.1 L434.9,910.3 L293.1,780.8Z" fill="#b8b8b8"/><path d="M293.1,780.5 L435.0,909.9 L434.6,911.2 L293.0,781.5Z" fill="#8d8d8d"/><path d="M293.0,781.2 L434.7,910.8 L434.4,912.0 L292.9,782.2Z" fill="#565656"/><path d="M292.9,781.9 L434.5,911.6 L434.2,912.9 L292.8,782.9Z" fill="#939393"/><path d="M292.8,782.6 L434.3,912.5 L433.9,913.7 L292.7,783.5Z" fill="#adadad"/><path d="M292.8,783.2 L434.0,913.4 L433.7,914.6 L292.6,784.2Z" fill="#8e8e8e"/><path d="M292.7,783.9 L433.8,914.2 L433.4,915.4 L292.5,784.9Z" fill="#666666"/><path d="M292.6,784.6 L433.6,915.1 L433.2,916.3 L292.4,785.6Z" fill="#959595"/><path d="M292.5,785.3 L433.3,915.9 L433.0,917.2 L292.4,786.3Z" fill="#adadad"/><path d="M292.4,786.0 L433.1,916.8 L432.7,918.0 L292.3,787.0Z" fill="#8a8a8a"/><path d="M292.3,786.7 L432.8,917.6 L432.5,918.9 L292.2,787.6Z" fill="#565656"/><path d="M292.2,787.3 L432.6,918.5 L432.3,919.7 L292.1,788.3Z" fill="#989898"/><path d="M292.1,788.0 L432.4,919.4 L432.0,920.6 L292.0,789.0Z" fill="#b7b7b7"/><path d="M292.0,788.7 L432.1,920.2 L431.8,921.4 L291.9,789.7Z" fill="#828282"/><path d="M291.9,789.4 L431.9,921.1 L431.5,922.3 L291.8,790.4Z" fill="#616161"/><path d="M291.8,790.1 L431.6,921.9 L431.3,923.2 L291.7,791.1Z" fill="#a4a4a4"/><path d="M291.8,790.8 L431.4,922.8 L431.1,924.0 L291.6,791.7Z" fill="#999999"/><path d="M291.7,791.4 L431.2,923.6 L430.8,924.9 L291.5,792.4Z" fill="#535353"/><path d="M291.6,792.1 L430.9,924.5 L430.6,925.7 L291.4,793.1Z" fill="#979797"/><path d="M291.5,792.8 L430.7,925.4 L430.4,926.6 L291.4,793.8Z" fill="#cbcbcb"/><path d="M291.4,793.5 L430.5,926.2 L430.1,927.4 L291.3,794.5Z" fill="#828282"/><path d="M291.3,794.2 L430.2,927.1 L429.9,928.3 L291.2,795.2Z" fill="#232323"/><path d="M291.2,794.9 L430.0,927.9 L429.6,929.2 L291.1,795.8Z" fill="#909090"/><path d="M291.1,795.5 L429.7,928.8 L429.4,930.0 L291.0,796.5Z" fill="#c1c1c1"/><path d="M291.0,796.2 L429.5,929.6 L429.2,930.9 L290.9,797.2Z" fill="#a7a7a7"/><path d="M290.9,796.9 L429.3,930.5 L428.9,931.7 L290.8,797.9Z" fill="#717171"/><path d="M290.8,797.6 L429.0,931.4 L428.7,932.6 L290.7,798.6Z" fill="#515151"/><path d="M290.8,798.3 L428.8,932.2 L428.4,933.4 L290.6,799.3Z" fill="#929292"/><path d="M290.7,799.0 L428.6,933.1 L428.2,934.3 L290.5,799.9Z" fill="#b6b6b6"/><path d="M290.6,799.6 L428.3,933.9 L428.0,935.2 L290.4,800.6Z" fill="#969696"/><path d="M290.5,800.3 L428.1,934.8 L427.7,936.0 L290.4,801.3Z" fill="#686868"/><path d="M290.4,801.0 L427.8,935.6 L427.6,936.5 L290.3,801.7Z" fill="#919191"/></g>
</defs>
<g clip-path="url(#E_sl)">
<polygon points="56.3,832.7 87.6,827.3 400.0,797.0 512.7,889.4 172.4,990.0" fill="#8b8b8b"/>
<g transform="rotate(-52 285.5 891.0)" opacity="0.30"><rect x="-44.5" y="561.0" width="660.0" height="660.0" filter="url(#fnoise)"/></g>
<g filter="url(#fblurB)" fill="none" stroke-linecap="round">
<line x1="305.9" y1="837.3" x2="323.6" y2="901.6" stroke="#d7d7d7" stroke-width="56.0" stroke-opacity="0.50"/>
<line x1="281.0" y1="842.3" x2="293.5" y2="888.2" stroke="#d2d2d2" stroke-width="34.0" stroke-opacity="0.42"/>
<line x1="323.2" y1="862.9" x2="331.4" y2="888.4" stroke="#f5f5f5" stroke-width="24.0" stroke-opacity="0.45"/>
<line x1="373.0" y1="852.9" x2="406.5" y2="906.1" stroke="#464646" stroke-width="36.0" stroke-opacity="0.62"/>
<line x1="351.7" y1="919.0" x2="396.6" y2="912.1" stroke="#505050" stroke-width="14.0" stroke-opacity="0.42"/>
<line x1="263.1" y1="844.3" x2="226.6" y2="881.8" stroke="#323232" stroke-width="12.0" stroke-opacity="0.60"/>
<line x1="226.6" y1="881.8" x2="166.2" y2="960.6" stroke="#2d2d2d" stroke-width="12.0" stroke-opacity="0.75"/>
<line x1="184.0" y1="856.3" x2="132.6" y2="893.2" stroke="#323232" stroke-width="11.0" stroke-opacity="0.68"/>
<line x1="207.7" y1="869.7" x2="151.9" y2="941.4" stroke="#c3c3c3" stroke-width="11.0" stroke-opacity="0.55"/>
<line x1="240.9" y1="901.0" x2="194.4" y2="956.0" stroke="#bebebe" stroke-width="10.0" stroke-opacity="0.50"/>
<line x1="263.7" y1="905.4" x2="228.4" y2="962.3" stroke="#3c3c3c" stroke-width="10.0" stroke-opacity="0.50"/>
<line x1="151.6" y1="872.3" x2="114.0" y2="904.7" stroke="#b9b9b9" stroke-width="10.0" stroke-opacity="0.42"/>
<line x1="121.6" y1="861.9" x2="101.8" y2="884.2" stroke="#3c3c3c" stroke-width="9.0" stroke-opacity="0.50"/>
<line x1="142.2" y1="923.1" x2="177.6" y2="974.2" stroke="#787878" stroke-width="10.0" stroke-opacity="0.25"/>
<line x1="456.0" y1="871.7" x2="489.2" y2="898.3" stroke="#646464" stroke-width="30.0" stroke-opacity="0.30"/>
<line x1="448.8" y1="857.0" x2="492.4" y2="893.2" stroke="#373737" stroke-width="8.0" stroke-opacity="0.75"/>
<line x1="449.1" y1="881.8" x2="461.4" y2="906.3" stroke="#555555" stroke-width="8.0" stroke-opacity="0.40"/>
<line x1="192.6" y1="974.3" x2="302.0" y2="936.1" stroke="#5f5f5f" stroke-width="14.0" stroke-opacity="0.25"/>
<line x1="331.9" y1="936.3" x2="401.6" y2="914.2" stroke="#696969" stroke-width="10.0" stroke-opacity="0.22"/>
</g>
<g transform="rotate(-52 285.5 891.0)" opacity="0.17"><rect x="-44.5" y="561.0" width="660.0" height="660.0" filter="url(#fgrain)"/></g>
<g filter="url(#fblurS)" fill="none" stroke-linecap="round">
<line x1="213.3" y1="958.5" x2="218.4" y2="956.1" stroke="#1e1e1e" stroke-width="6.0" stroke-opacity="0.70"/>
<line x1="328.2" y1="870.0" x2="328.4" y2="882.3" stroke="#ffffff" stroke-width="10.0" stroke-opacity="1.00"/>
<line x1="327.8" y1="879.2" x2="327.5" y2="890.4" stroke="#ffffff" stroke-width="9.0" stroke-opacity="1.00"/>
<line x1="325.3" y1="878.2" x2="333.1" y2="860.9" stroke="#ffffff" stroke-width="6.0" stroke-opacity="0.85"/>
<line x1="302.6" y1="899.5" x2="308.6" y2="902.5" stroke="#ffffff" stroke-width="10.0" stroke-opacity="1.00"/>
<line x1="292.0" y1="843.4" x2="294.1" y2="851.5" stroke="#f5f5f5" stroke-width="11.0" stroke-opacity="0.80"/>
<line x1="270.9" y1="852.5" x2="272.2" y2="859.6" stroke="#ebebeb" stroke-width="10.0" stroke-opacity="0.70"/>
<line x1="315.9" y1="833.3" x2="319.9" y2="839.4" stroke="#ebebeb" stroke-width="11.0" stroke-opacity="0.70"/>
<line x1="251.1" y1="846.2" x2="253.2" y2="852.4" stroke="#e1e1e1" stroke-width="10.0" stroke-opacity="0.60"/>
<line x1="347.6" y1="905.8" x2="354.6" y2="909.9" stroke="#ebebeb" stroke-width="6.0" stroke-opacity="0.80"/>
<line x1="345.7" y1="920.0" x2="359.7" y2="923.2" stroke="#ffffff" stroke-width="4.0" stroke-opacity="0.90"/>
<line x1="285.9" y1="925.9" x2="296.9" y2="924.9" stroke="#ffffff" stroke-width="5.0" stroke-opacity="0.90"/>
<line x1="385.1" y1="871.3" x2="387.2" y2="877.5" stroke="#e1e1e1" stroke-width="9.0" stroke-opacity="0.65"/>
<line x1="337.0" y1="851.8" x2="341.1" y2="859.9" stroke="#e6e6e6" stroke-width="8.0" stroke-opacity="0.60"/>
<line x1="311.8" y1="918.9" x2="317.9" y2="926.0" stroke="#e6e6e6" stroke-width="5.0" stroke-opacity="0.60"/>
<line x1="357.4" y1="887.5" x2="361.4" y2="895.7" stroke="#e1e1e1" stroke-width="6.0" stroke-opacity="0.50"/>
<line x1="342.5" y1="899.1" x2="351.5" y2="898.7" stroke="#000000" stroke-width="8.0" stroke-opacity="1.00"/>
<line x1="330.6" y1="908.8" x2="341.6" y2="908.8" stroke="#000000" stroke-width="9.0" stroke-opacity="1.00"/>
<line x1="314.8" y1="917.3" x2="323.8" y2="917.4" stroke="#000000" stroke-width="8.0" stroke-opacity="1.00"/>
<line x1="275.4" y1="872.8" x2="276.4" y2="879.0" stroke="#191919" stroke-width="9.0" stroke-opacity="0.90"/>
<line x1="263.5" y1="886.0" x2="266.6" y2="892.2" stroke="#1e1e1e" stroke-width="9.0" stroke-opacity="0.85"/>
<line x1="261.2" y1="855.5" x2="263.3" y2="860.6" stroke="#2d2d2d" stroke-width="8.0" stroke-opacity="0.75"/>
<line x1="274.7" y1="906.5" x2="277.8" y2="911.6" stroke="#1e1e1e" stroke-width="8.0" stroke-opacity="0.80"/>
<line x1="415.5" y1="908.1" x2="424.5" y2="910.2" stroke="#0f0f0f" stroke-width="8.0" stroke-opacity="0.90"/>
<line x1="358.1" y1="860.0" x2="361.1" y2="866.1" stroke="#3c3c3c" stroke-width="9.0" stroke-opacity="0.65"/>
<line x1="296.3" y1="870.9" x2="300.5" y2="885.2" stroke="#323232" stroke-width="6.0" stroke-opacity="0.60"/>
<line x1="301.7" y1="911.7" x2="305.8" y2="914.7" stroke="#282828" stroke-width="6.0" stroke-opacity="0.70"/>
<line x1="286.5" y1="890.2" x2="289.6" y2="898.4" stroke="#323232" stroke-width="6.0" stroke-opacity="0.60"/>
<line x1="366.4" y1="888.6" x2="373.4" y2="895.7" stroke="#464646" stroke-width="9.0" stroke-opacity="0.50"/>
<line x1="396.4" y1="895.8" x2="403.4" y2="902.0" stroke="#4b4b4b" stroke-width="10.0" stroke-opacity="0.50"/>
<line x1="248.2" y1="942.0" x2="254.2" y2="944.0" stroke="#282828" stroke-width="5.0" stroke-opacity="0.60"/>
<line x1="241.4" y1="868.6" x2="247.5" y2="876.8" stroke="#464646" stroke-width="8.0" stroke-opacity="0.45"/>
<line x1="460.5" y1="854.7" x2="504.1" y2="889.7" stroke="#bebebe" stroke-width="5.5" stroke-opacity="0.75"/>
<line x1="441.4" y1="910.3" x2="448.4" y2="907.3" stroke="#050505" stroke-width="6.0" stroke-opacity="0.95"/>
<line x1="71.4" y1="841.3" x2="77.5" y2="847.5" stroke="#b9b9b9" stroke-width="9.0" stroke-opacity="0.50"/>
<line x1="63.4" y1="837.2" x2="71.4" y2="839.3" stroke="#5a5a5a" stroke-width="4.0" stroke-opacity="0.45"/>
<line x1="272.2" y1="900.6" x2="272.9" y2="894.6" stroke="#2d2d2d" stroke-width="6.9" stroke-opacity="0.83"/>
<line x1="275.1" y1="882.1" x2="273.2" y2="878.6" stroke="#0f0f0f" stroke-width="5.0" stroke-opacity="0.76"/>
<line x1="282.9" y1="848.5" x2="283.1" y2="845.4" stroke="#fcfcfc" stroke-width="6.6" stroke-opacity="0.83"/>
<line x1="334.8" y1="901.4" x2="335.9" y2="900.0" stroke="#4b4b4b" stroke-width="5.0" stroke-opacity="0.46"/>
<line x1="336.3" y1="861.3" x2="338.4" y2="858.7" stroke="#d8d8d8" stroke-width="6.2" stroke-opacity="0.43"/>
<line x1="277.6" y1="898.8" x2="279.0" y2="894.1" stroke="#393939" stroke-width="6.5" stroke-opacity="0.73"/>
<line x1="264.9" y1="876.2" x2="265.3" y2="874.5" stroke="#1b1b1b" stroke-width="4.9" stroke-opacity="0.53"/>
<line x1="297.5" y1="877.3" x2="301.1" y2="874.6" stroke="#d2d2d2" stroke-width="4.1" stroke-opacity="0.40"/>
<line x1="256.3" y1="890.2" x2="257.6" y2="886.6" stroke="#f1f1f1" stroke-width="5.9" stroke-opacity="0.48"/>
<line x1="272.7" y1="861.6" x2="271.3" y2="856.0" stroke="#252525" stroke-width="6.5" stroke-opacity="0.48"/>
<line x1="315.5" y1="840.3" x2="315.6" y2="834.5" stroke="#eeeeee" stroke-width="7.1" stroke-opacity="0.85"/>
<line x1="306.8" y1="850.3" x2="306.8" y2="847.0" stroke="#191919" stroke-width="5.7" stroke-opacity="0.73"/>
<line x1="253.8" y1="854.7" x2="252.7" y2="851.7" stroke="#393939" stroke-width="4.7" stroke-opacity="0.43"/>
<line x1="324.0" y1="850.9" x2="326.7" y2="848.8" stroke="#303030" stroke-width="7.1" stroke-opacity="0.80"/>
<line x1="305.0" y1="839.6" x2="307.6" y2="836.7" stroke="#fefefe" stroke-width="5.2" stroke-opacity="0.54"/>
<line x1="333.3" y1="853.7" x2="334.1" y2="852.2" stroke="#0f0f0f" stroke-width="5.0" stroke-opacity="0.52"/>
<line x1="298.6" y1="850.5" x2="300.9" y2="848.6" stroke="#292929" stroke-width="4.5" stroke-opacity="0.81"/>
<line x1="266.3" y1="832.7" x2="263.8" y2="828.3" stroke="#cecece" stroke-width="6.1" stroke-opacity="0.45"/>
<line x1="291.2" y1="856.7" x2="290.4" y2="854.7" stroke="#282828" stroke-width="5.5" stroke-opacity="0.48"/>
<line x1="307.7" y1="903.1" x2="309.6" y2="900.0" stroke="#111111" stroke-width="5.9" stroke-opacity="0.43"/>
<line x1="345.7" y1="907.3" x2="344.8" y2="901.8" stroke="#d6d6d6" stroke-width="4.7" stroke-opacity="0.63"/>
<line x1="261.0" y1="890.4" x2="260.4" y2="886.8" stroke="#fcfcfc" stroke-width="4.8" stroke-opacity="0.68"/>
<line x1="347.0" y1="859.4" x2="344.4" y2="854.0" stroke="#d1d1d1" stroke-width="4.8" stroke-opacity="0.43"/>
<line x1="257.1" y1="914.7" x2="259.6" y2="909.5" stroke="#2b2b2b" stroke-width="5.5" stroke-opacity="0.72"/>
<line x1="323.0" y1="880.7" x2="323.1" y2="879.4" stroke="#131313" stroke-width="4.4" stroke-opacity="0.51"/>
<line x1="365.1" y1="874.4" x2="366.6" y2="872.9" stroke="#e5e5e5" stroke-width="4.8" stroke-opacity="0.69"/>
<line x1="250.3" y1="841.5" x2="252.1" y2="836.9" stroke="#f3f3f3" stroke-width="7.1" stroke-opacity="0.74"/>
<line x1="361.2" y1="900.2" x2="363.8" y2="897.1" stroke="#ececec" stroke-width="5.0" stroke-opacity="0.83"/>
<line x1="296.4" y1="857.6" x2="296.7" y2="855.7" stroke="#d6d6d6" stroke-width="3.9" stroke-opacity="0.68"/>
<line x1="307.4" y1="906.8" x2="307.2" y2="904.8" stroke="#191919" stroke-width="6.3" stroke-opacity="0.69"/>
<line x1="357.8" y1="852.1" x2="362.3" y2="848.6" stroke="#232323" stroke-width="5.6" stroke-opacity="0.80"/>
<line x1="328.7" y1="849.4" x2="329.3" y2="843.6" stroke="#3c3c3c" stroke-width="5.0" stroke-opacity="0.60"/>
<line x1="347.1" y1="854.3" x2="348.3" y2="853.4" stroke="#e5e5e5" stroke-width="6.0" stroke-opacity="0.50"/>
<line x1="303.1" y1="893.9" x2="301.2" y2="890.8" stroke="#262626" stroke-width="3.6" stroke-opacity="0.67"/>
<line x1="360.9" y1="849.7" x2="359.0" y2="844.1" stroke="#efefef" stroke-width="4.1" stroke-opacity="0.57"/>
<line x1="244.6" y1="840.7" x2="242.7" y2="837.6" stroke="#494949" stroke-width="6.8" stroke-opacity="0.48"/>
<line x1="311.7" y1="885.1" x2="308.6" y2="880.5" stroke="#f2f2f2" stroke-width="7.2" stroke-opacity="0.66"/>
<line x1="258.4" y1="924.5" x2="258.7" y2="922.7" stroke="#3f3f3f" stroke-width="6.1" stroke-opacity="0.64"/>
<line x1="333.8" y1="878.3" x2="333.6" y2="875.9" stroke="#3a3a3a" stroke-width="4.9" stroke-opacity="0.53"/>
<line x1="255.8" y1="829.5" x2="255.6" y2="826.7" stroke="#f8f8f8" stroke-width="6.8" stroke-opacity="0.47"/>
<line x1="341.8" y1="853.6" x2="342.9" y2="852.6" stroke="#282828" stroke-width="4.1" stroke-opacity="0.64"/>
<line x1="312.8" y1="900.9" x2="312.1" y2="898.3" stroke="#303030" stroke-width="5.2" stroke-opacity="0.63"/>
<line x1="365.9" y1="891.6" x2="366.6" y2="887.0" stroke="#383838" stroke-width="4.2" stroke-opacity="0.47"/>
<line x1="281.1" y1="910.7" x2="280.8" y2="909.1" stroke="#313131" stroke-width="5.9" stroke-opacity="0.49"/>
<line x1="322.1" y1="901.6" x2="320.8" y2="899.7" stroke="#e3e3e3" stroke-width="4.2" stroke-opacity="0.57"/>
<line x1="312.9" y1="847.9" x2="316.2" y2="844.5" stroke="#dfdfdf" stroke-width="6.6" stroke-opacity="0.56"/>
<line x1="258.2" y1="868.1" x2="259.6" y2="862.9" stroke="#efefef" stroke-width="6.2" stroke-opacity="0.85"/>
<line x1="280.0" y1="882.7" x2="280.7" y2="881.0" stroke="#ededed" stroke-width="4.7" stroke-opacity="0.68"/>
<line x1="321.9" y1="878.6" x2="321.8" y2="875.4" stroke="#dadada" stroke-width="4.5" stroke-opacity="0.62"/>
<line x1="288.8" y1="883.3" x2="289.0" y2="880.6" stroke="#cfcfcf" stroke-width="6.7" stroke-opacity="0.54"/>
<line x1="267.4" y1="846.9" x2="267.8" y2="845.9" stroke="#d6d6d6" stroke-width="5.1" stroke-opacity="0.66"/>
<line x1="277.0" y1="847.9" x2="274.5" y2="844.1" stroke="#424242" stroke-width="6.6" stroke-opacity="0.81"/>
<line x1="266.3" y1="860.0" x2="268.1" y2="856.4" stroke="#f1f1f1" stroke-width="6.0" stroke-opacity="0.79"/>
<line x1="369.6" y1="865.1" x2="370.7" y2="864.0" stroke="#ffffff" stroke-width="5.3" stroke-opacity="0.67"/>
<line x1="300.5" y1="918.9" x2="301.6" y2="917.5" stroke="#1e1e1e" stroke-width="6.0" stroke-opacity="0.52"/>
<line x1="358.0" y1="856.1" x2="358.7" y2="851.2" stroke="#dadada" stroke-width="4.0" stroke-opacity="0.41"/>
<line x1="331.0" y1="823.2" x2="331.1" y2="818.7" stroke="#212121" stroke-width="3.7" stroke-opacity="0.46"/>
<line x1="248.3" y1="904.5" x2="249.2" y2="900.8" stroke="#2b2b2b" stroke-width="5.5" stroke-opacity="0.59"/>
<line x1="248.6" y1="930.3" x2="249.0" y2="926.1" stroke="#e6e6e6" stroke-width="6.5" stroke-opacity="0.63"/>
<line x1="282.1" y1="912.0" x2="285.0" y2="907.7" stroke="#f6f6f6" stroke-width="7.1" stroke-opacity="0.81"/>
<line x1="369.2" y1="861.7" x2="368.9" y2="859.0" stroke="#cdcdcd" stroke-width="6.7" stroke-opacity="0.50"/>
<line x1="252.1" y1="843.1" x2="252.6" y2="841.4" stroke="#f4f4f4" stroke-width="4.1" stroke-opacity="0.48"/>
<line x1="351.9" y1="894.0" x2="352.9" y2="889.5" stroke="#d4d4d4" stroke-width="4.3" stroke-opacity="0.44"/>
<line x1="285.0" y1="890.3" x2="288.7" y2="887.1" stroke="#dadada" stroke-width="5.2" stroke-opacity="0.71"/>
<line x1="314.2" y1="887.9" x2="312.9" y2="884.2" stroke="#e6e6e6" stroke-width="6.6" stroke-opacity="0.82"/>
<line x1="258.4" y1="931.9" x2="257.5" y2="926.7" stroke="#3d3d3d" stroke-width="4.5" stroke-opacity="0.57"/>
<line x1="326.1" y1="852.3" x2="324.9" y2="850.1" stroke="#212121" stroke-width="3.7" stroke-opacity="0.55"/>
<line x1="269.2" y1="857.1" x2="266.2" y2="852.3" stroke="#f7f7f7" stroke-width="6.2" stroke-opacity="0.74"/>
<line x1="262.8" y1="932.8" x2="263.2" y2="931.6" stroke="#e4e4e4" stroke-width="6.4" stroke-opacity="0.67"/>
<line x1="317.3" y1="910.0" x2="317.0" y2="908.9" stroke="#ededed" stroke-width="4.3" stroke-opacity="0.79"/>
<line x1="300.9" y1="898.1" x2="300.7" y2="895.9" stroke="#f6f6f6" stroke-width="7.4" stroke-opacity="0.78"/>
<line x1="276.4" y1="901.9" x2="276.0" y2="898.5" stroke="#1a1a1a" stroke-width="6.3" stroke-opacity="0.80"/>
<line x1="272.3" y1="867.0" x2="273.9" y2="865.8" stroke="#202020" stroke-width="7.2" stroke-opacity="0.75"/>
<line x1="282.5" y1="835.8" x2="283.4" y2="829.9" stroke="#dadada" stroke-width="6.8" stroke-opacity="0.72"/>
<line x1="353.6" y1="871.4" x2="351.7" y2="868.3" stroke="#212121" stroke-width="6.6" stroke-opacity="0.72"/>
<line x1="263.0" y1="875.9" x2="262.4" y2="872.3" stroke="#e1e1e1" stroke-width="3.9" stroke-opacity="0.60"/>
<line x1="363.1" y1="869.5" x2="361.6" y2="867.5" stroke="#fbfbfb" stroke-width="5.7" stroke-opacity="0.58"/>
<line x1="302.7" y1="882.5" x2="305.3" y2="879.2" stroke="#373737" stroke-width="4.9" stroke-opacity="0.53"/>
<line x1="300.8" y1="841.1" x2="300.2" y2="840.0" stroke="#dadada" stroke-width="5.5" stroke-opacity="0.55"/>
<line x1="358.0" y1="848.8" x2="359.0" y2="847.2" stroke="#e1e1e1" stroke-width="6.0" stroke-opacity="0.44"/>
<line x1="286.3" y1="846.7" x2="288.1" y2="845.0" stroke="#ffffff" stroke-width="6.7" stroke-opacity="0.42"/>
<line x1="294.0" y1="848.0" x2="291.1" y2="842.6" stroke="#404040" stroke-width="7.0" stroke-opacity="0.83"/>
<line x1="275.8" y1="892.2" x2="278.2" y2="889.8" stroke="#474747" stroke-width="5.0" stroke-opacity="0.65"/>
<line x1="331.6" y1="904.5" x2="336.2" y2="900.8" stroke="#d1d1d1" stroke-width="7.0" stroke-opacity="0.44"/>
<line x1="325.6" y1="852.4" x2="324.6" y2="850.5" stroke="#373737" stroke-width="6.6" stroke-opacity="0.81"/>
<line x1="271.0" y1="868.8" x2="272.5" y2="866.2" stroke="#dddddd" stroke-width="6.6" stroke-opacity="0.57"/>
</g>
</g>
<g clip-path="url(#E_cr)"><use href="#E_cb" filter="url(#fblur05)"/><g transform="translate(88.4,799.0) skewY(-10.5)" opacity="0.30"><rect x="-5" y="-60" width="350" height="175" filter="url(#fpn)"/></g></g>
<g clip-path="url(#E_ib)"><use href="#E_ibd" filter="url(#fblur05)"/><g transform="translate(300.3,726.5) skewY(39.5)" opacity="0.30"><rect x="-15" y="-5" width="180" height="130" filter="url(#fpn2)"/></g></g>
<g clip-path="url(#E_cl)"><use href="#E_cb" filter="url(#fblur05)"/><g transform="translate(88.4,799.0) skewY(-10.5)" opacity="0.30"><rect x="-5" y="-60" width="350" height="175" filter="url(#fpn)"/></g></g>
<g clip-path="url(#E_if)"><use href="#E_ibd" filter="url(#fblur05)"/><g transform="translate(300.3,726.5) skewY(39.5)" opacity="0.30"><rect x="-15" y="-5" width="180" height="130" filter="url(#fpn2)"/></g></g>
<g stroke="#e8e8e8" stroke-width="0.8" fill="none">
<polyline points="88.4,799.0 85.9,898.1"/>
<polyline points="453.8,842.2 427.6,936.5"/>
<polyline points="342.4,757.4 453.8,842.2" stroke-opacity="0.6"/>
<polyline points="86.6,877.6 101.8,896.7" stroke-opacity="0.6"/>
</g>
<g clip-path="url(#ovE)"><g fill="none" stroke-linecap="round" stroke-linejoin="round" filter="url(#fwobE)">
<polyline points="191.7,808.1 192.6,808.9 193.8,809.9 195.3,811.1 196.9,812.4 198.6,813.8 200.2,815.3 201.8,816.8 203.2,818.3 204.4,819.8 205.6,821.4 206.7,823.1 207.8,824.8 208.9,826.5 209.9,828.1 211.0,829.7 212.1,831.1 213.2,832.4 214.3,833.7 215.3,835.0 216.4,836.2 217.4,837.3 218.6,838.3 219.8,839.2 221.1,840.0 222.6,840.6 224.4,840.9 226.3,841.0 228.2,841.1 230.1,841.2 231.7,841.5 233.0,841.9 233.9,842.6 234.3,843.6 234.2,844.8 233.7,846.2 233.1,847.6 232.4,849.2 231.8,850.8 231.4,852.5 231.3,854.1 231.6,855.7 232.0,857.4 232.5,859.2 233.2,860.9 234.0,862.7 234.8,864.5 235.6,866.3 236.4,868.1 237.2,869.9 238.0,871.7 238.9,873.4 239.8,875.2 240.7,877.0 241.8,878.8 242.9,880.5 244.1,882.2 245.4,883.9 246.9,885.5 248.5,887.1 250.1,888.6 251.8,890.2 253.5,891.8 255.2,893.3 256.8,894.9 258.4,896.5 260.0,898.1 261.6,899.7 263.2,901.4 264.8,903.0 266.4,904.6 268.0,906.2 269.6,907.7 271.2,909.2 272.9,910.7 274.5,912.1 276.2,913.5 277.8,914.9 279.4,916.4 280.9,917.8 282.4,919.2 283.8,920.6 285.3,922.1 286.6,923.6 288.0,925.0 289.3,926.5 290.5,927.9 291.6,929.3 292.6,930.7 293.4,932.1 294.1,933.4 294.6,934.7 295.1,936.0 295.5,937.3 296.1,938.6 296.8,939.8 297.7,940.9 298.9,942.0 300.4,943.2 302.0,944.3 303.8,945.4 305.4,946.4 307.0,947.3 308.3,948.0 309.2,948.6" stroke="#8e1606" stroke-width="4.0" stroke-opacity="1.00"/>
<polyline points="258.1,800.4 258.5,801.4 259.0,802.8 259.6,804.5 260.3,806.3 261.2,808.2 262.1,810.1 263.2,811.8 264.5,813.2 266.0,814.4 267.8,815.4 269.8,816.4 271.9,817.2 274.0,818.1 276.1,818.9 278.1,819.9 279.8,820.9 281.3,822.1 282.8,823.3 284.2,824.6 285.5,825.9 286.7,827.3 287.8,828.6 288.9,829.9 290.0,831.1 290.9,832.3 291.7,833.4 292.5,834.4 293.1,835.5 293.8,836.5 294.5,837.6 295.4,838.8 296.4,840.0 297.6,841.3 298.9,842.7 300.3,844.2 301.8,845.7 303.3,847.2 304.8,848.7 306.4,850.1 307.9,851.5 309.4,852.8 311.0,854.1 312.6,855.3 314.2,856.5 315.8,857.7 317.5,859.0 319.1,860.3 320.7,861.7 322.3,863.2 324.0,864.7 325.6,866.3 327.3,867.9 328.9,869.6 330.5,871.2 332.0,872.9 333.5,874.5 334.9,876.1 336.4,877.7 337.8,879.3 339.2,880.9 340.5,882.5 341.7,884.1 342.7,885.7 343.7,887.3 344.4,888.9 345.0,890.5 345.4,892.1 345.7,893.6 346.0,895.2 346.3,896.8 346.8,898.4 347.5,900.0 348.4,901.6 349.4,903.3 350.6,904.9 351.8,906.6 353.0,908.2 354.2,909.8 355.4,911.3 356.5,912.8 357.6,914.2 358.6,915.6 359.7,916.9 360.8,918.2 361.8,919.5 362.7,920.7 363.5,921.9 364.1,923.0 364.6,924.1 364.9,925.3 365.1,926.4 365.2,927.5 365.3,928.5 365.3,929.4 365.3,930.1 365.4,930.7" stroke="#8e1606" stroke-width="4.0" stroke-opacity="1.00"/>
<polyline points="295.2,839.3 294.2,839.5 292.7,839.6 291.1,839.8 289.2,840.1 287.3,840.4 285.4,840.9 283.8,841.7 282.4,842.6 281.2,843.9 280.1,845.4 279.1,847.2 278.2,849.2 277.5,851.2 276.8,853.1 276.3,855.0 276.0,856.6 275.9,858.0 275.9,859.4 276.1,860.6 276.4,861.8 276.9,863.0 277.4,864.2 278.0,865.4 278.6,866.8 279.3,868.3 280.1,869.8 281.1,871.4 282.1,873.0 283.1,874.7 284.2,876.3 285.2,878.0 286.2,879.6 287.2,881.2 288.2,882.8 289.3,884.4 290.3,886.0 291.3,887.6 292.2,889.2 293.1,890.8 293.9,892.4 294.5,894.0 295.0,895.5 295.3,897.0 295.6,898.5 296.0,900.0 296.4,901.6 296.9,903.4 297.7,905.2 298.7,907.2 299.9,909.4 301.2,911.7 302.6,914.1 304.0,916.5 305.4,918.8 306.7,921.0 307.9,923.0 309.0,924.9 310.0,926.7 311.0,928.4 312.0,930.0 312.9,931.6 313.8,933.1 314.7,934.5 315.6,935.8 316.5,937.1 317.4,938.3 318.4,939.4 319.3,940.4 320.1,941.4 320.9,942.2 321.5,942.9 322.0,943.5" stroke="#8e1606" stroke-width="4.0" stroke-opacity="1.00"/>
<polyline points="361.6,822.1 362.2,823.6 363.0,825.6 363.9,828.0 364.9,830.6 366.0,833.4 367.1,836.1 368.2,838.8 369.2,841.3 370.2,843.6 371.3,845.9 372.4,848.2 373.4,850.5 374.5,852.7 375.4,854.9 376.2,857.1 376.9,859.2 377.3,861.3 377.4,863.3 377.4,865.2 377.3,867.2 377.2,869.1 377.3,870.9 377.6,872.7 378.2,874.5 379.2,876.2 380.4,877.8 381.8,879.4 383.4,880.9 385.0,882.4 386.7,884.0 388.3,885.6 389.7,887.3 391.1,889.1 392.4,891.0 393.8,892.9 395.1,894.9 396.4,896.8 397.6,898.8 398.8,900.7 399.9,902.6 400.9,904.5 401.9,906.5 402.9,908.6 403.7,910.6 404.5,912.5 405.2,914.2 405.8,915.6 406.3,916.7" stroke="#8e1606" stroke-width="3.6" stroke-opacity="1.00"/>
<circle cx="256.8" cy="845.9" r="1.5" fill="#8e1606" stroke="none"/>
<circle cx="353.9" cy="840.8" r="1.5" fill="#8e1606" stroke="none"/>
<circle cx="390.9" cy="924.3" r="1.5" fill="#8e1606" stroke="none"/>
</g></g>
<g stroke="#858585" stroke-width="0.9" fill="none">
<polyline points="55.0,759.0 55.0,858.3 170.0,1018.2 506.2,913.6"/>
<line x1="52.5" y1="759.0" x2="55.0" y2="759.0"/>
<line x1="52.5" y1="783.8" x2="55.0" y2="783.8"/>
<line x1="52.5" y1="808.6" x2="55.0" y2="808.6"/>
<line x1="52.5" y1="833.5" x2="55.0" y2="833.5"/>
<line x1="52.5" y1="858.3" x2="55.0" y2="858.3"/>
<line x1="81.2" y1="899.1" x2="83.8" y2="898.3"/>
<line x1="110.0" y1="939.0" x2="112.5" y2="938.2"/>
<line x1="138.8" y1="979.0" x2="141.2" y2="978.2"/>
<line x1="167.5" y1="1019.0" x2="170.0" y2="1018.2"/>
<line x1="255.0" y1="991.8" x2="255.2" y2="994.4"/>
<line x1="338.5" y1="965.8" x2="338.7" y2="968.4"/>
<line x1="423.5" y1="939.3" x2="423.7" y2="941.9"/>
<line x1="506.2" y1="913.6" x2="506.4" y2="916.2"/>
</g>
</g>
<text x="16.6" y="37.6" font-size="22.2" font-weight="bold" textLength="217.4" lengthAdjust="spacingAndGlyphs" fill="#111">a) 3D seismic image</text>
<text x="525.3" y="38.6" font-size="22.2" font-weight="bold" textLength="176.9" lengthAdjust="spacingAndGlyphs" fill="#111">b) C3 coherence</text>
<text x="16.5" y="384.2" font-size="22.2" font-weight="bold" textLength="185.1" lengthAdjust="spacingAndGlyphs" fill="#111">c) 3D CNN model</text>
<text x="525.1" y="383.9" font-size="22.2" font-weight="bold" textLength="240.1" lengthAdjust="spacingAndGlyphs" fill="#111">d) Conventional U-Net</text>
<text x="16.5" y="712.0" font-size="22.2" font-weight="bold" textLength="161.7" lengthAdjust="spacingAndGlyphs" fill="#111">e) FaultAdvNet</text>
<text x="17.1" y="70.5" font-size="19.9" textLength="84.7" lengthAdjust="spacingAndGlyphs" fill="#111">Time(ms)</text>
<text x="526.0" y="63.8" font-size="19.9" textLength="43.0" lengthAdjust="spacingAndGlyphs" fill="#111">Time</text>
<text x="23.4" y="409.5" font-size="19.9" textLength="41.8" lengthAdjust="spacingAndGlyphs" fill="#111">Time</text>
<text x="527.0" y="409.5" font-size="19.9" textLength="42.1" lengthAdjust="spacingAndGlyphs" fill="#111">Time</text>
<text x="23.4" y="737.6" font-size="19.9" textLength="41.8" lengthAdjust="spacingAndGlyphs" fill="#111">Time</text>
<text x="12.7" y="96.6" font-size="21.4" textLength="35.1" lengthAdjust="spacingAndGlyphs" fill="#111">1300</text>
<text x="12.7" y="121.4" font-size="21.4" textLength="35.1" lengthAdjust="spacingAndGlyphs" fill="#111">1600</text>
<text x="12.7" y="146.0" font-size="21.4" textLength="35.1" lengthAdjust="spacingAndGlyphs" fill="#111">1900</text>
<text x="12.7" y="170.1" font-size="21.4" textLength="35.1" lengthAdjust="spacingAndGlyphs" fill="#111">2200</text>
<text x="12.7" y="194.3" font-size="21.4" textLength="35.1" lengthAdjust="spacingAndGlyphs" fill="#111">2500</text>
<text x="36.7" y="212.4" font-size="21.4" textLength="15.7" lengthAdjust="spacingAndGlyphs" fill="#111">71</text>
<text x="51.4" y="243.3" font-size="21.4" textLength="25.6" lengthAdjust="spacingAndGlyphs" fill="#111">158</text>
<text x="76.6" y="278.8" font-size="21.4" textLength="26.9" lengthAdjust="spacingAndGlyphs" fill="#111">244</text>
<text x="103.5" y="318.5" font-size="21.4" textLength="25.5" lengthAdjust="spacingAndGlyphs" fill="#111">331</text>
<text x="128.4" y="354.5" font-size="21.4" textLength="26.2" lengthAdjust="spacingAndGlyphs" fill="#111">417</text>
<text x="170.3" y="360.4" font-size="21.4" textLength="24.6" lengthAdjust="spacingAndGlyphs" fill="#111">131</text>
<text x="244.2" y="339.4" font-size="21.4" textLength="17.9" lengthAdjust="spacingAndGlyphs" fill="#111">99</text>
<text x="330.5" y="313.7" font-size="21.4" textLength="18.3" lengthAdjust="spacingAndGlyphs" fill="#111">66</text>
<text x="414.5" y="288.4" font-size="21.4" textLength="17.7" lengthAdjust="spacingAndGlyphs" fill="#111">34</text>
<text x="507.4" y="264.8" font-size="21.4" textLength="5.0" lengthAdjust="spacingAndGlyphs" fill="#111">1</text>
<text transform="translate(30.1,269.8) rotate(55)" font-size="19.9" fill="#111">Crossline</text>
<text transform="translate(545.7,252.6) rotate(55)" font-size="19.9" fill="#111">Crossline</text>
<text transform="translate(58.5,595.0) rotate(55)" font-size="19.9" fill="#111">Crossline</text>
<text transform="translate(545.0,597.0) rotate(55)" font-size="19.9" fill="#111">Crossline</text>
<text transform="translate(58.5,925.5) rotate(55)" font-size="19.9" fill="#111">Crossline</text>
<text transform="translate(331.5,348.5) rotate(-16.5)" font-size="19.9" fill="#111">Inline</text>
<text transform="translate(811.5,328.5) rotate(-16.5)" font-size="19.9" fill="#111">Inline</text>
<text transform="translate(322.0,675.0) rotate(-16.5)" font-size="19.9" fill="#111">Inline</text>
<text transform="translate(811.0,674.5) rotate(-16.5)" font-size="19.9" fill="#111">Inline</text>
<text transform="translate(319.5,1004.0) rotate(-16.5)" font-size="19.9" fill="#111">Inline</text>
<rect x="542.4" y="273.6" width="1" height="1" fill="#777"/>
<rect x="550.2" y="273.6" width="1" height="1" fill="#777"/>
<rect x="552.6" y="273.6" width="1" height="1" fill="#777"/>
<rect x="555.0" y="273.6" width="1" height="1" fill="#777"/>
<rect x="556.5" y="273.6" width="1" height="1" fill="#777"/>
<rect x="581.6" y="766.7" width="355.6" height="189.4" rx="5" ry="5" fill="#fff" stroke="#d9d9d9" stroke-width="2"/>
<defs><linearGradient id="ggray" x1="0" x2="1" y1="0" y2="0"><stop offset="0" stop-color="#000"/><stop offset="1" stop-color="#fff"/></linearGradient>
<linearGradient id="gjet" x1="0" x2="1" y1="0" y2="0"><stop offset="0" stop-color="#00008f"/><stop offset="0.11" stop-color="#0000ff"/><stop offset="0.36" stop-color="#00ffff"/><stop offset="0.5" stop-color="#80ff80"/><stop offset="0.64" stop-color="#ffff00"/><stop offset="0.89" stop-color="#ff0000"/><stop offset="1" stop-color="#800000"/></linearGradient></defs>
<text x="605.3" y="800.3" font-size="20.2" textLength="116.4" lengthAdjust="spacingAndGlyphs" fill="#111">Seicmic data</text>
<rect x="615" y="810.7" width="292" height="11.3" fill="url(#ggray)"/>
<g stroke="#333" stroke-width="0.9">
<line x1="615.3" y1="822" x2="615.3" y2="825"/>
<line x1="761.0" y1="822" x2="761.0" y2="825"/>
<line x1="906.7" y1="822" x2="906.7" y2="825"/>
<line x1="688.0" y1="822" x2="688.0" y2="823.5" stroke-opacity="0.5"/>
<line x1="834.0" y1="822" x2="834.0" y2="823.5" stroke-opacity="0.5"/>
</g>
<text x="602.1" y="845.3" font-size="19.2" textLength="29.0" lengthAdjust="spacingAndGlyphs" fill="#111">Neg</text>
<text x="761.0" y="845.2" font-size="19.3" text-anchor="middle" textLength="8.8" lengthAdjust="spacingAndGlyphs" fill="#111">0</text>
<text x="891.0" y="845.2" font-size="19.3" textLength="28.5" lengthAdjust="spacingAndGlyphs" fill="#111">Pos</text>
<text x="605.1" y="892.5" font-size="20.2" textLength="146.5" lengthAdjust="spacingAndGlyphs" fill="#111">Fault Probability</text>
<rect x="615" y="905.8" width="292" height="13.8" fill="url(#gjet)"/>
<g stroke="#333" stroke-width="0.9">
<line x1="615.3" y1="919.6" x2="615.3" y2="922.5"/>
<line x1="673.6" y1="919.6" x2="673.6" y2="922.5"/>
<line x1="731.9" y1="919.6" x2="731.9" y2="922.5"/>
<line x1="790.2" y1="919.6" x2="790.2" y2="922.5"/>
<line x1="848.5" y1="919.6" x2="848.5" y2="922.5"/>
<line x1="906.8" y1="919.6" x2="906.8" y2="922.5"/>
</g>
<text x="615.3" y="942.4" font-size="19.3" text-anchor="middle" textLength="8.8" lengthAdjust="spacingAndGlyphs" fill="#111">0</text>
<text x="673.6" y="942.4" font-size="19.3" text-anchor="middle" textLength="22.5" lengthAdjust="spacingAndGlyphs" fill="#111">0.2</text>
<text x="731.9" y="942.4" font-size="19.3" text-anchor="middle" textLength="22.5" lengthAdjust="spacingAndGlyphs" fill="#111">0.4</text>
<text x="790.2" y="942.4" font-size="19.3" text-anchor="middle" textLength="22.5" lengthAdjust="spacingAndGlyphs" fill="#111">0.6</text>
<text x="848.5" y="942.4" font-size="19.3" text-anchor="middle" textLength="22.5" lengthAdjust="spacingAndGlyphs" fill="#111">0.8</text>
<text x="906.8" y="942.4" font-size="19.3" text-anchor="middle" textLength="22.5" lengthAdjust="spacingAndGlyphs" fill="#111">1.0</text>
</svg></body></html>
